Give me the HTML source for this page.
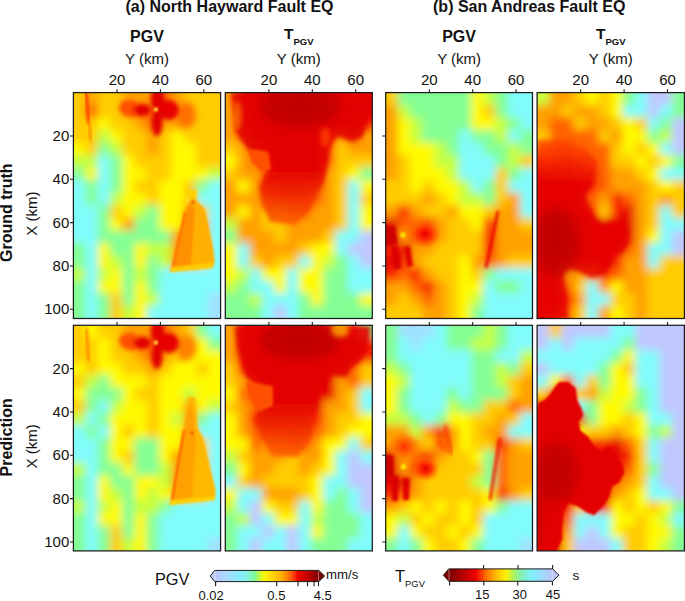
<!DOCTYPE html><html><head><meta charset="utf-8"><style>html,body{margin:0;padding:0;background:#fff;width:685px;height:601px;overflow:hidden}svg{display:block}text{font-family:"Liberation Sans", sans-serif;fill:#111}</style></head><body>
<svg width="685" height="601" viewBox="0 0 685 601">
<defs>
<clipPath id="c00"><rect x="73.40" y="92.60" width="147.20" height="225.90"/></clipPath>
<clipPath id="c01"><rect x="225.30" y="92.60" width="147.00" height="225.90"/></clipPath>
<clipPath id="c02"><rect x="385.70" y="92.60" width="146.80" height="225.90"/></clipPath>
<clipPath id="c03"><rect x="537.10" y="92.60" width="147.30" height="225.90"/></clipPath>
<clipPath id="c10"><rect x="73.40" y="325.30" width="147.20" height="225.60"/></clipPath>
<clipPath id="c11"><rect x="225.30" y="325.30" width="147.00" height="225.60"/></clipPath>
<clipPath id="c12"><rect x="385.70" y="325.30" width="146.80" height="225.60"/></clipPath>
<clipPath id="c13"><rect x="537.10" y="325.30" width="147.30" height="225.60"/></clipPath>
<linearGradient id="gp" x1="0" x2="1" y1="0" y2="0"><stop offset="0" stop-color="#bcc4fb"/><stop offset="0.12" stop-color="#a8dcff"/><stop offset="0.28" stop-color="#80f4fa"/><stop offset="0.39" stop-color="#84f890"/><stop offset="0.44" stop-color="#d0f830"/><stop offset="0.48" stop-color="#fff600"/><stop offset="0.64" stop-color="#ffb000"/><stop offset="0.74" stop-color="#ff5a00"/><stop offset="0.80" stop-color="#f00000"/><stop offset="0.90" stop-color="#c00000"/><stop offset="1" stop-color="#7a0000"/></linearGradient>
<linearGradient id="gt" x1="0" x2="1" y1="0" y2="0"><stop offset="0" stop-color="#7a0000"/><stop offset="0.12" stop-color="#b00000"/><stop offset="0.26" stop-color="#f00000"/><stop offset="0.36" stop-color="#ff7000"/><stop offset="0.46" stop-color="#ffc000"/><stop offset="0.55" stop-color="#fff000"/><stop offset="0.64" stop-color="#9cf270"/><stop offset="0.72" stop-color="#80f0c8"/><stop offset="0.80" stop-color="#80f0ff"/><stop offset="1" stop-color="#bcc4fb"/></linearGradient>
<filter id="sb1" x="-20%" y="-20%" width="140%" height="140%"><feGaussianBlur stdDeviation="1"/></filter><filter id="sb15" x="-30%" y="-30%" width="160%" height="160%"><feGaussianBlur stdDeviation="1.5"/></filter><filter id="sb2" x="-30%" y="-30%" width="160%" height="160%"><feGaussianBlur stdDeviation="2"/></filter><filter id="sb3" x="-40%" y="-40%" width="180%" height="180%"><feGaussianBlur stdDeviation="3"/></filter><filter id="sb6" x="-50%" y="-50%" width="200%" height="200%"><feGaussianBlur stdDeviation="6"/></filter><radialGradient id="rg1"><stop offset="0" stop-color="#e80000"/><stop offset="0.4" stop-color="#ff2800" stop-opacity="0.95"/><stop offset="0.75" stop-color="#ff6000" stop-opacity="0.5"/><stop offset="1" stop-color="#ff8000" stop-opacity="0"/></radialGradient><radialGradient id="rg2"><stop offset="0" stop-color="#ff3000"/><stop offset="0.5" stop-color="#ff6000" stop-opacity="0.7"/><stop offset="1" stop-color="#ff8000" stop-opacity="0"/></radialGradient><linearGradient id="lgp4" gradientUnits="userSpaceOnUse" x1="0" y1="145" x2="0" y2="185"><stop offset="0" stop-color="#ff4a00"/><stop offset="1" stop-color="#e60000"/></linearGradient><linearGradient id="lgp2" gradientUnits="userSpaceOnUse" x1="0" y1="168" x2="0" y2="226"><stop offset="0" stop-color="#e40000"/><stop offset="1" stop-color="#ff6000"/></linearGradient><linearGradient id="lgp6" gradientUnits="userSpaceOnUse" x1="0" y1="400" x2="0" y2="458"><stop offset="0" stop-color="#e40000"/><stop offset="1" stop-color="#ff6000"/></linearGradient><filter id="fp00" x="36.6" y="54.9" width="220.8" height="301.2" filterUnits="userSpaceOnUse"><feGaussianBlur stdDeviation="4"/></filter><filter id="fp01" x="188.6" y="54.9" width="220.5" height="301.2" filterUnits="userSpaceOnUse"><feGaussianBlur stdDeviation="4"/></filter><filter id="fp02" x="349.0" y="54.9" width="220.2" height="301.2" filterUnits="userSpaceOnUse"><feGaussianBlur stdDeviation="4"/></filter><filter id="fp03" x="500.3" y="54.9" width="220.9" height="301.2" filterUnits="userSpaceOnUse"><feGaussianBlur stdDeviation="4"/></filter><filter id="fp10" x="36.6" y="287.7" width="220.8" height="300.8" filterUnits="userSpaceOnUse"><feGaussianBlur stdDeviation="4"/></filter><filter id="fp11" x="188.6" y="287.7" width="220.5" height="300.8" filterUnits="userSpaceOnUse"><feGaussianBlur stdDeviation="4"/></filter><filter id="fp12" x="349.0" y="287.7" width="220.2" height="300.8" filterUnits="userSpaceOnUse"><feGaussianBlur stdDeviation="4"/></filter><filter id="fp13" x="500.3" y="287.7" width="220.9" height="300.8" filterUnits="userSpaceOnUse"><feGaussianBlur stdDeviation="4"/></filter>
</defs>
<g clip-path="url(#c00)">
<g filter="url(#fp00)"><rect x="48.6" y="67.2" width="12.9" height="13.2" fill="#ffcc00"/><rect x="60.8" y="67.2" width="12.9" height="13.2" fill="#ffcc00"/><rect x="73.1" y="67.2" width="12.9" height="13.2" fill="#ffcc00"/><rect x="85.4" y="67.2" width="12.9" height="13.2" fill="#ffa000"/><rect x="97.6" y="67.2" width="12.9" height="13.2" fill="#ffcc00"/><rect x="109.9" y="67.2" width="12.9" height="13.2" fill="#ffcc00"/><rect x="122.2" y="67.2" width="12.9" height="13.2" fill="#ffa000"/><rect x="134.4" y="67.2" width="12.9" height="13.2" fill="#ffa000"/><rect x="146.7" y="67.2" width="12.9" height="13.2" fill="#ffa000"/><rect x="159.0" y="67.2" width="12.9" height="13.2" fill="#ff6400"/><rect x="171.2" y="67.2" width="12.9" height="13.2" fill="#ffa000"/><rect x="183.5" y="67.2" width="12.9" height="13.2" fill="#ffcc00"/><rect x="195.8" y="67.2" width="12.9" height="13.2" fill="#ffcc00"/><rect x="208.0" y="67.2" width="12.9" height="13.2" fill="#ffcc00"/><rect x="220.3" y="67.2" width="12.9" height="13.2" fill="#ffcc00"/><rect x="232.6" y="67.2" width="12.9" height="13.2" fill="#ffcc00"/><rect x="48.6" y="79.8" width="12.9" height="13.2" fill="#ffcc00"/><rect x="60.8" y="79.8" width="12.9" height="13.2" fill="#ffcc00"/><rect x="73.1" y="79.8" width="12.9" height="13.2" fill="#ffcc00"/><rect x="85.4" y="79.8" width="12.9" height="13.2" fill="#ffa000"/><rect x="97.6" y="79.8" width="12.9" height="13.2" fill="#ffcc00"/><rect x="109.9" y="79.8" width="12.9" height="13.2" fill="#ffcc00"/><rect x="122.2" y="79.8" width="12.9" height="13.2" fill="#ffa000"/><rect x="134.4" y="79.8" width="12.9" height="13.2" fill="#ffa000"/><rect x="146.7" y="79.8" width="12.9" height="13.2" fill="#ffa000"/><rect x="159.0" y="79.8" width="12.9" height="13.2" fill="#ff6400"/><rect x="171.2" y="79.8" width="12.9" height="13.2" fill="#ffa000"/><rect x="183.5" y="79.8" width="12.9" height="13.2" fill="#ffcc00"/><rect x="195.8" y="79.8" width="12.9" height="13.2" fill="#ffcc00"/><rect x="208.0" y="79.8" width="12.9" height="13.2" fill="#ffcc00"/><rect x="220.3" y="79.8" width="12.9" height="13.2" fill="#ffcc00"/><rect x="232.6" y="79.8" width="12.9" height="13.2" fill="#ffcc00"/><rect x="48.6" y="92.3" width="12.9" height="13.2" fill="#ffcc00"/><rect x="60.8" y="92.3" width="12.9" height="13.2" fill="#ffcc00"/><rect x="73.1" y="92.3" width="12.9" height="13.2" fill="#ffcc00"/><rect x="85.4" y="92.3" width="12.9" height="13.2" fill="#ffa000"/><rect x="97.6" y="92.3" width="12.9" height="13.2" fill="#ffcc00"/><rect x="109.9" y="92.3" width="12.9" height="13.2" fill="#ffcc00"/><rect x="122.2" y="92.3" width="12.9" height="13.2" fill="#ffa000"/><rect x="134.4" y="92.3" width="12.9" height="13.2" fill="#ffa000"/><rect x="146.7" y="92.3" width="12.9" height="13.2" fill="#ffa000"/><rect x="159.0" y="92.3" width="12.9" height="13.2" fill="#ff6400"/><rect x="171.2" y="92.3" width="12.9" height="13.2" fill="#ffa000"/><rect x="183.5" y="92.3" width="12.9" height="13.2" fill="#ffcc00"/><rect x="195.8" y="92.3" width="12.9" height="13.2" fill="#ffcc00"/><rect x="208.0" y="92.3" width="12.9" height="13.2" fill="#ffcc00"/><rect x="220.3" y="92.3" width="12.9" height="13.2" fill="#ffcc00"/><rect x="232.6" y="92.3" width="12.9" height="13.2" fill="#ffcc00"/><rect x="48.6" y="104.8" width="12.9" height="13.2" fill="#ffcc00"/><rect x="60.8" y="104.8" width="12.9" height="13.2" fill="#ffcc00"/><rect x="73.1" y="104.8" width="12.9" height="13.2" fill="#ffcc00"/><rect x="85.4" y="104.8" width="12.9" height="13.2" fill="#ff6400"/><rect x="97.6" y="104.8" width="12.9" height="13.2" fill="#ffcc00"/><rect x="109.9" y="104.8" width="12.9" height="13.2" fill="#ffcc00"/><rect x="122.2" y="104.8" width="12.9" height="13.2" fill="#ffa000"/><rect x="134.4" y="104.8" width="12.9" height="13.2" fill="#ff6400"/><rect x="146.7" y="104.8" width="12.9" height="13.2" fill="#ff6400"/><rect x="159.0" y="104.8" width="12.9" height="13.2" fill="#ff6400"/><rect x="171.2" y="104.8" width="12.9" height="13.2" fill="#ffa000"/><rect x="183.5" y="104.8" width="12.9" height="13.2" fill="#ffcc00"/><rect x="195.8" y="104.8" width="12.9" height="13.2" fill="#ffcc00"/><rect x="208.0" y="104.8" width="12.9" height="13.2" fill="#ffcc00"/><rect x="220.3" y="104.8" width="12.9" height="13.2" fill="#ffcc00"/><rect x="232.6" y="104.8" width="12.9" height="13.2" fill="#ffcc00"/><rect x="48.6" y="117.4" width="12.9" height="13.2" fill="#ffcc00"/><rect x="60.8" y="117.4" width="12.9" height="13.2" fill="#ffcc00"/><rect x="73.1" y="117.4" width="12.9" height="13.2" fill="#ffcc00"/><rect x="85.4" y="117.4" width="12.9" height="13.2" fill="#ffcc00"/><rect x="97.6" y="117.4" width="12.9" height="13.2" fill="#fffa00"/><rect x="109.9" y="117.4" width="12.9" height="13.2" fill="#ffcc00"/><rect x="122.2" y="117.4" width="12.9" height="13.2" fill="#ffcc00"/><rect x="134.4" y="117.4" width="12.9" height="13.2" fill="#ffa000"/><rect x="146.7" y="117.4" width="12.9" height="13.2" fill="#ff6400"/><rect x="159.0" y="117.4" width="12.9" height="13.2" fill="#ffa000"/><rect x="171.2" y="117.4" width="12.9" height="13.2" fill="#ffa000"/><rect x="183.5" y="117.4" width="12.9" height="13.2" fill="#ffcc00"/><rect x="195.8" y="117.4" width="12.9" height="13.2" fill="#ffcc00"/><rect x="208.0" y="117.4" width="12.9" height="13.2" fill="#ffcc00"/><rect x="220.3" y="117.4" width="12.9" height="13.2" fill="#ffcc00"/><rect x="232.6" y="117.4" width="12.9" height="13.2" fill="#ffcc00"/><rect x="48.6" y="129.9" width="12.9" height="13.2" fill="#ffcc00"/><rect x="60.8" y="129.9" width="12.9" height="13.2" fill="#ffcc00"/><rect x="73.1" y="129.9" width="12.9" height="13.2" fill="#ffcc00"/><rect x="85.4" y="129.9" width="12.9" height="13.2" fill="#ffcc00"/><rect x="97.6" y="129.9" width="12.9" height="13.2" fill="#c4ff40"/><rect x="109.9" y="129.9" width="12.9" height="13.2" fill="#fffa00"/><rect x="122.2" y="129.9" width="12.9" height="13.2" fill="#ffcc00"/><rect x="134.4" y="129.9" width="12.9" height="13.2" fill="#ffcc00"/><rect x="146.7" y="129.9" width="12.9" height="13.2" fill="#ffa000"/><rect x="159.0" y="129.9" width="12.9" height="13.2" fill="#ffcc00"/><rect x="171.2" y="129.9" width="12.9" height="13.2" fill="#fffa00"/><rect x="183.5" y="129.9" width="12.9" height="13.2" fill="#ffcc00"/><rect x="195.8" y="129.9" width="12.9" height="13.2" fill="#ffcc00"/><rect x="208.0" y="129.9" width="12.9" height="13.2" fill="#ffcc00"/><rect x="220.3" y="129.9" width="12.9" height="13.2" fill="#ffcc00"/><rect x="232.6" y="129.9" width="12.9" height="13.2" fill="#ffcc00"/><rect x="48.6" y="142.5" width="12.9" height="13.2" fill="#fffa00"/><rect x="60.8" y="142.5" width="12.9" height="13.2" fill="#fffa00"/><rect x="73.1" y="142.5" width="12.9" height="13.2" fill="#fffa00"/><rect x="85.4" y="142.5" width="12.9" height="13.2" fill="#ffcc00"/><rect x="97.6" y="142.5" width="12.9" height="13.2" fill="#84ff94"/><rect x="109.9" y="142.5" width="12.9" height="13.2" fill="#c4ff40"/><rect x="122.2" y="142.5" width="12.9" height="13.2" fill="#ffcc00"/><rect x="134.4" y="142.5" width="12.9" height="13.2" fill="#ffcc00"/><rect x="146.7" y="142.5" width="12.9" height="13.2" fill="#ffa000"/><rect x="159.0" y="142.5" width="12.9" height="13.2" fill="#ffcc00"/><rect x="171.2" y="142.5" width="12.9" height="13.2" fill="#fffa00"/><rect x="183.5" y="142.5" width="12.9" height="13.2" fill="#fffa00"/><rect x="195.8" y="142.5" width="12.9" height="13.2" fill="#ffcc00"/><rect x="208.0" y="142.5" width="12.9" height="13.2" fill="#ffcc00"/><rect x="220.3" y="142.5" width="12.9" height="13.2" fill="#ffcc00"/><rect x="232.6" y="142.5" width="12.9" height="13.2" fill="#ffcc00"/><rect x="48.6" y="155.0" width="12.9" height="13.2" fill="#c4ff40"/><rect x="60.8" y="155.0" width="12.9" height="13.2" fill="#c4ff40"/><rect x="73.1" y="155.0" width="12.9" height="13.2" fill="#c4ff40"/><rect x="85.4" y="155.0" width="12.9" height="13.2" fill="#c4ff40"/><rect x="97.6" y="155.0" width="12.9" height="13.2" fill="#80fcfc"/><rect x="109.9" y="155.0" width="12.9" height="13.2" fill="#84ff94"/><rect x="122.2" y="155.0" width="12.9" height="13.2" fill="#fffa00"/><rect x="134.4" y="155.0" width="12.9" height="13.2" fill="#ffcc00"/><rect x="146.7" y="155.0" width="12.9" height="13.2" fill="#ffcc00"/><rect x="159.0" y="155.0" width="12.9" height="13.2" fill="#ffcc00"/><rect x="171.2" y="155.0" width="12.9" height="13.2" fill="#fffa00"/><rect x="183.5" y="155.0" width="12.9" height="13.2" fill="#fffa00"/><rect x="195.8" y="155.0" width="12.9" height="13.2" fill="#ffcc00"/><rect x="208.0" y="155.0" width="12.9" height="13.2" fill="#ffcc00"/><rect x="220.3" y="155.0" width="12.9" height="13.2" fill="#ffcc00"/><rect x="232.6" y="155.0" width="12.9" height="13.2" fill="#ffcc00"/><rect x="48.6" y="167.6" width="12.9" height="13.2" fill="#84ff94"/><rect x="60.8" y="167.6" width="12.9" height="13.2" fill="#84ff94"/><rect x="73.1" y="167.6" width="12.9" height="13.2" fill="#84ff94"/><rect x="85.4" y="167.6" width="12.9" height="13.2" fill="#fffa00"/><rect x="97.6" y="167.6" width="12.9" height="13.2" fill="#80fcfc"/><rect x="109.9" y="167.6" width="12.9" height="13.2" fill="#84ff94"/><rect x="122.2" y="167.6" width="12.9" height="13.2" fill="#fffa00"/><rect x="134.4" y="167.6" width="12.9" height="13.2" fill="#fffa00"/><rect x="146.7" y="167.6" width="12.9" height="13.2" fill="#ffcc00"/><rect x="159.0" y="167.6" width="12.9" height="13.2" fill="#ffcc00"/><rect x="171.2" y="167.6" width="12.9" height="13.2" fill="#fffa00"/><rect x="183.5" y="167.6" width="12.9" height="13.2" fill="#fffa00"/><rect x="195.8" y="167.6" width="12.9" height="13.2" fill="#fffa00"/><rect x="208.0" y="167.6" width="12.9" height="13.2" fill="#c4ff40"/><rect x="220.3" y="167.6" width="12.9" height="13.2" fill="#c4ff40"/><rect x="232.6" y="167.6" width="12.9" height="13.2" fill="#c4ff40"/><rect x="48.6" y="180.1" width="12.9" height="13.2" fill="#80fcfc"/><rect x="60.8" y="180.1" width="12.9" height="13.2" fill="#80fcfc"/><rect x="73.1" y="180.1" width="12.9" height="13.2" fill="#80fcfc"/><rect x="85.4" y="180.1" width="12.9" height="13.2" fill="#84ff94"/><rect x="97.6" y="180.1" width="12.9" height="13.2" fill="#80fcfc"/><rect x="109.9" y="180.1" width="12.9" height="13.2" fill="#84ff94"/><rect x="122.2" y="180.1" width="12.9" height="13.2" fill="#fffa00"/><rect x="134.4" y="180.1" width="12.9" height="13.2" fill="#ffcc00"/><rect x="146.7" y="180.1" width="12.9" height="13.2" fill="#ffcc00"/><rect x="159.0" y="180.1" width="12.9" height="13.2" fill="#fffa00"/><rect x="171.2" y="180.1" width="12.9" height="13.2" fill="#fffa00"/><rect x="183.5" y="180.1" width="12.9" height="13.2" fill="#ffcc00"/><rect x="195.8" y="180.1" width="12.9" height="13.2" fill="#84ff94"/><rect x="208.0" y="180.1" width="12.9" height="13.2" fill="#80fcfc"/><rect x="220.3" y="180.1" width="12.9" height="13.2" fill="#80fcfc"/><rect x="232.6" y="180.1" width="12.9" height="13.2" fill="#80fcfc"/><rect x="48.6" y="192.7" width="12.9" height="13.2" fill="#80fcfc"/><rect x="60.8" y="192.7" width="12.9" height="13.2" fill="#80fcfc"/><rect x="73.1" y="192.7" width="12.9" height="13.2" fill="#80fcfc"/><rect x="85.4" y="192.7" width="12.9" height="13.2" fill="#84ff94"/><rect x="97.6" y="192.7" width="12.9" height="13.2" fill="#80fcfc"/><rect x="109.9" y="192.7" width="12.9" height="13.2" fill="#c4ff40"/><rect x="122.2" y="192.7" width="12.9" height="13.2" fill="#fffa00"/><rect x="134.4" y="192.7" width="12.9" height="13.2" fill="#fffa00"/><rect x="146.7" y="192.7" width="12.9" height="13.2" fill="#ffcc00"/><rect x="159.0" y="192.7" width="12.9" height="13.2" fill="#fffa00"/><rect x="171.2" y="192.7" width="12.9" height="13.2" fill="#fffa00"/><rect x="183.5" y="192.7" width="12.9" height="13.2" fill="#ffcc00"/><rect x="195.8" y="192.7" width="12.9" height="13.2" fill="#80fcfc"/><rect x="208.0" y="192.7" width="12.9" height="13.2" fill="#80fcfc"/><rect x="220.3" y="192.7" width="12.9" height="13.2" fill="#80fcfc"/><rect x="232.6" y="192.7" width="12.9" height="13.2" fill="#80fcfc"/><rect x="48.6" y="205.2" width="12.9" height="13.2" fill="#80fcfc"/><rect x="60.8" y="205.2" width="12.9" height="13.2" fill="#80fcfc"/><rect x="73.1" y="205.2" width="12.9" height="13.2" fill="#80fcfc"/><rect x="85.4" y="205.2" width="12.9" height="13.2" fill="#80fcfc"/><rect x="97.6" y="205.2" width="12.9" height="13.2" fill="#84ff94"/><rect x="109.9" y="205.2" width="12.9" height="13.2" fill="#ffcc00"/><rect x="122.2" y="205.2" width="12.9" height="13.2" fill="#fffa00"/><rect x="134.4" y="205.2" width="12.9" height="13.2" fill="#c4ff40"/><rect x="146.7" y="205.2" width="12.9" height="13.2" fill="#84ff94"/><rect x="159.0" y="205.2" width="12.9" height="13.2" fill="#fffa00"/><rect x="171.2" y="205.2" width="12.9" height="13.2" fill="#fffa00"/><rect x="183.5" y="205.2" width="12.9" height="13.2" fill="#ffa000"/><rect x="195.8" y="205.2" width="12.9" height="13.2" fill="#ffcc00"/><rect x="208.0" y="205.2" width="12.9" height="13.2" fill="#80fcfc"/><rect x="220.3" y="205.2" width="12.9" height="13.2" fill="#80fcfc"/><rect x="232.6" y="205.2" width="12.9" height="13.2" fill="#80fcfc"/><rect x="48.6" y="217.8" width="12.9" height="13.2" fill="#80fcfc"/><rect x="60.8" y="217.8" width="12.9" height="13.2" fill="#80fcfc"/><rect x="73.1" y="217.8" width="12.9" height="13.2" fill="#80fcfc"/><rect x="85.4" y="217.8" width="12.9" height="13.2" fill="#80fcfc"/><rect x="97.6" y="217.8" width="12.9" height="13.2" fill="#84ff94"/><rect x="109.9" y="217.8" width="12.9" height="13.2" fill="#fffa00"/><rect x="122.2" y="217.8" width="12.9" height="13.2" fill="#ffa000"/><rect x="134.4" y="217.8" width="12.9" height="13.2" fill="#84ff94"/><rect x="146.7" y="217.8" width="12.9" height="13.2" fill="#84ff94"/><rect x="159.0" y="217.8" width="12.9" height="13.2" fill="#fffa00"/><rect x="171.2" y="217.8" width="12.9" height="13.2" fill="#fffa00"/><rect x="183.5" y="217.8" width="12.9" height="13.2" fill="#ffa000"/><rect x="195.8" y="217.8" width="12.9" height="13.2" fill="#ffa000"/><rect x="208.0" y="217.8" width="12.9" height="13.2" fill="#80fcfc"/><rect x="220.3" y="217.8" width="12.9" height="13.2" fill="#80fcfc"/><rect x="232.6" y="217.8" width="12.9" height="13.2" fill="#80fcfc"/><rect x="48.6" y="230.3" width="12.9" height="13.2" fill="#80fcfc"/><rect x="60.8" y="230.3" width="12.9" height="13.2" fill="#80fcfc"/><rect x="73.1" y="230.3" width="12.9" height="13.2" fill="#80fcfc"/><rect x="85.4" y="230.3" width="12.9" height="13.2" fill="#80fcfc"/><rect x="97.6" y="230.3" width="12.9" height="13.2" fill="#84ff94"/><rect x="109.9" y="230.3" width="12.9" height="13.2" fill="#84ff94"/><rect x="122.2" y="230.3" width="12.9" height="13.2" fill="#84ff94"/><rect x="134.4" y="230.3" width="12.9" height="13.2" fill="#84ff94"/><rect x="146.7" y="230.3" width="12.9" height="13.2" fill="#84ff94"/><rect x="159.0" y="230.3" width="12.9" height="13.2" fill="#84ff94"/><rect x="171.2" y="230.3" width="12.9" height="13.2" fill="#ffa000"/><rect x="183.5" y="230.3" width="12.9" height="13.2" fill="#ffa000"/><rect x="195.8" y="230.3" width="12.9" height="13.2" fill="#ffa000"/><rect x="208.0" y="230.3" width="12.9" height="13.2" fill="#80fcfc"/><rect x="220.3" y="230.3" width="12.9" height="13.2" fill="#80fcfc"/><rect x="232.6" y="230.3" width="12.9" height="13.2" fill="#80fcfc"/><rect x="48.6" y="242.9" width="12.9" height="13.2" fill="#84ff94"/><rect x="60.8" y="242.9" width="12.9" height="13.2" fill="#84ff94"/><rect x="73.1" y="242.9" width="12.9" height="13.2" fill="#84ff94"/><rect x="85.4" y="242.9" width="12.9" height="13.2" fill="#80fcfc"/><rect x="97.6" y="242.9" width="12.9" height="13.2" fill="#fffa00"/><rect x="109.9" y="242.9" width="12.9" height="13.2" fill="#84ff94"/><rect x="122.2" y="242.9" width="12.9" height="13.2" fill="#84ff94"/><rect x="134.4" y="242.9" width="12.9" height="13.2" fill="#fffa00"/><rect x="146.7" y="242.9" width="12.9" height="13.2" fill="#c4ff40"/><rect x="159.0" y="242.9" width="12.9" height="13.2" fill="#c4ff40"/><rect x="171.2" y="242.9" width="12.9" height="13.2" fill="#ffa000"/><rect x="183.5" y="242.9" width="12.9" height="13.2" fill="#ffa000"/><rect x="195.8" y="242.9" width="12.9" height="13.2" fill="#ffa000"/><rect x="208.0" y="242.9" width="12.9" height="13.2" fill="#80fcfc"/><rect x="220.3" y="242.9" width="12.9" height="13.2" fill="#80fcfc"/><rect x="232.6" y="242.9" width="12.9" height="13.2" fill="#80fcfc"/><rect x="48.6" y="255.4" width="12.9" height="13.2" fill="#84ff94"/><rect x="60.8" y="255.4" width="12.9" height="13.2" fill="#84ff94"/><rect x="73.1" y="255.4" width="12.9" height="13.2" fill="#84ff94"/><rect x="85.4" y="255.4" width="12.9" height="13.2" fill="#80fcfc"/><rect x="97.6" y="255.4" width="12.9" height="13.2" fill="#fffa00"/><rect x="109.9" y="255.4" width="12.9" height="13.2" fill="#c4ff40"/><rect x="122.2" y="255.4" width="12.9" height="13.2" fill="#84ff94"/><rect x="134.4" y="255.4" width="12.9" height="13.2" fill="#fffa00"/><rect x="146.7" y="255.4" width="12.9" height="13.2" fill="#84ff94"/><rect x="159.0" y="255.4" width="12.9" height="13.2" fill="#c4ff40"/><rect x="171.2" y="255.4" width="12.9" height="13.2" fill="#ffa000"/><rect x="183.5" y="255.4" width="12.9" height="13.2" fill="#ffa000"/><rect x="195.8" y="255.4" width="12.9" height="13.2" fill="#ffcc00"/><rect x="208.0" y="255.4" width="12.9" height="13.2" fill="#80fcfc"/><rect x="220.3" y="255.4" width="12.9" height="13.2" fill="#80fcfc"/><rect x="232.6" y="255.4" width="12.9" height="13.2" fill="#80fcfc"/><rect x="48.6" y="268.0" width="12.9" height="13.2" fill="#c4ff40"/><rect x="60.8" y="268.0" width="12.9" height="13.2" fill="#c4ff40"/><rect x="73.1" y="268.0" width="12.9" height="13.2" fill="#c4ff40"/><rect x="85.4" y="268.0" width="12.9" height="13.2" fill="#80fcfc"/><rect x="97.6" y="268.0" width="12.9" height="13.2" fill="#c4ff40"/><rect x="109.9" y="268.0" width="12.9" height="13.2" fill="#fffa00"/><rect x="122.2" y="268.0" width="12.9" height="13.2" fill="#84ff94"/><rect x="134.4" y="268.0" width="12.9" height="13.2" fill="#c4ff40"/><rect x="146.7" y="268.0" width="12.9" height="13.2" fill="#84ff94"/><rect x="159.0" y="268.0" width="12.9" height="13.2" fill="#80fcfc"/><rect x="171.2" y="268.0" width="12.9" height="13.2" fill="#80fcfc"/><rect x="183.5" y="268.0" width="12.9" height="13.2" fill="#80fcfc"/><rect x="195.8" y="268.0" width="12.9" height="13.2" fill="#80fcfc"/><rect x="208.0" y="268.0" width="12.9" height="13.2" fill="#80fcfc"/><rect x="220.3" y="268.0" width="12.9" height="13.2" fill="#80fcfc"/><rect x="232.6" y="268.0" width="12.9" height="13.2" fill="#80fcfc"/><rect x="48.6" y="280.6" width="12.9" height="13.2" fill="#84ff94"/><rect x="60.8" y="280.6" width="12.9" height="13.2" fill="#84ff94"/><rect x="73.1" y="280.6" width="12.9" height="13.2" fill="#84ff94"/><rect x="85.4" y="280.6" width="12.9" height="13.2" fill="#80fcfc"/><rect x="97.6" y="280.6" width="12.9" height="13.2" fill="#fffa00"/><rect x="109.9" y="280.6" width="12.9" height="13.2" fill="#fffa00"/><rect x="122.2" y="280.6" width="12.9" height="13.2" fill="#84ff94"/><rect x="134.4" y="280.6" width="12.9" height="13.2" fill="#fffa00"/><rect x="146.7" y="280.6" width="12.9" height="13.2" fill="#84ff94"/><rect x="159.0" y="280.6" width="12.9" height="13.2" fill="#80fcfc"/><rect x="171.2" y="280.6" width="12.9" height="13.2" fill="#80fcfc"/><rect x="183.5" y="280.6" width="12.9" height="13.2" fill="#80fcfc"/><rect x="195.8" y="280.6" width="12.9" height="13.2" fill="#80fcfc"/><rect x="208.0" y="280.6" width="12.9" height="13.2" fill="#80fcfc"/><rect x="220.3" y="280.6" width="12.9" height="13.2" fill="#80fcfc"/><rect x="232.6" y="280.6" width="12.9" height="13.2" fill="#80fcfc"/><rect x="48.6" y="293.1" width="12.9" height="13.2" fill="#84ff94"/><rect x="60.8" y="293.1" width="12.9" height="13.2" fill="#84ff94"/><rect x="73.1" y="293.1" width="12.9" height="13.2" fill="#84ff94"/><rect x="85.4" y="293.1" width="12.9" height="13.2" fill="#80fcfc"/><rect x="97.6" y="293.1" width="12.9" height="13.2" fill="#84ff94"/><rect x="109.9" y="293.1" width="12.9" height="13.2" fill="#ffcc00"/><rect x="122.2" y="293.1" width="12.9" height="13.2" fill="#84ff94"/><rect x="134.4" y="293.1" width="12.9" height="13.2" fill="#fffa00"/><rect x="146.7" y="293.1" width="12.9" height="13.2" fill="#c4ff40"/><rect x="159.0" y="293.1" width="12.9" height="13.2" fill="#80fcfc"/><rect x="171.2" y="293.1" width="12.9" height="13.2" fill="#80fcfc"/><rect x="183.5" y="293.1" width="12.9" height="13.2" fill="#80fcfc"/><rect x="195.8" y="293.1" width="12.9" height="13.2" fill="#80fcfc"/><rect x="208.0" y="293.1" width="12.9" height="13.2" fill="#a0e0ff"/><rect x="220.3" y="293.1" width="12.9" height="13.2" fill="#a0e0ff"/><rect x="232.6" y="293.1" width="12.9" height="13.2" fill="#a0e0ff"/><rect x="48.6" y="305.7" width="12.9" height="13.2" fill="#84ff94"/><rect x="60.8" y="305.7" width="12.9" height="13.2" fill="#84ff94"/><rect x="73.1" y="305.7" width="12.9" height="13.2" fill="#84ff94"/><rect x="85.4" y="305.7" width="12.9" height="13.2" fill="#80fcfc"/><rect x="97.6" y="305.7" width="12.9" height="13.2" fill="#84ff94"/><rect x="109.9" y="305.7" width="12.9" height="13.2" fill="#ffcc00"/><rect x="122.2" y="305.7" width="12.9" height="13.2" fill="#c4ff40"/><rect x="134.4" y="305.7" width="12.9" height="13.2" fill="#fffa00"/><rect x="146.7" y="305.7" width="12.9" height="13.2" fill="#80fcfc"/><rect x="159.0" y="305.7" width="12.9" height="13.2" fill="#80fcfc"/><rect x="171.2" y="305.7" width="12.9" height="13.2" fill="#80fcfc"/><rect x="183.5" y="305.7" width="12.9" height="13.2" fill="#80fcfc"/><rect x="195.8" y="305.7" width="12.9" height="13.2" fill="#80fcfc"/><rect x="208.0" y="305.7" width="12.9" height="13.2" fill="#a0e0ff"/><rect x="220.3" y="305.7" width="12.9" height="13.2" fill="#a0e0ff"/><rect x="232.6" y="305.7" width="12.9" height="13.2" fill="#a0e0ff"/><rect x="48.6" y="318.2" width="12.9" height="13.2" fill="#84ff94"/><rect x="60.8" y="318.2" width="12.9" height="13.2" fill="#84ff94"/><rect x="73.1" y="318.2" width="12.9" height="13.2" fill="#84ff94"/><rect x="85.4" y="318.2" width="12.9" height="13.2" fill="#80fcfc"/><rect x="97.6" y="318.2" width="12.9" height="13.2" fill="#84ff94"/><rect x="109.9" y="318.2" width="12.9" height="13.2" fill="#ffcc00"/><rect x="122.2" y="318.2" width="12.9" height="13.2" fill="#c4ff40"/><rect x="134.4" y="318.2" width="12.9" height="13.2" fill="#fffa00"/><rect x="146.7" y="318.2" width="12.9" height="13.2" fill="#80fcfc"/><rect x="159.0" y="318.2" width="12.9" height="13.2" fill="#80fcfc"/><rect x="171.2" y="318.2" width="12.9" height="13.2" fill="#80fcfc"/><rect x="183.5" y="318.2" width="12.9" height="13.2" fill="#80fcfc"/><rect x="195.8" y="318.2" width="12.9" height="13.2" fill="#80fcfc"/><rect x="208.0" y="318.2" width="12.9" height="13.2" fill="#a0e0ff"/><rect x="220.3" y="318.2" width="12.9" height="13.2" fill="#a0e0ff"/><rect x="232.6" y="318.2" width="12.9" height="13.2" fill="#a0e0ff"/><rect x="48.6" y="330.8" width="12.9" height="13.2" fill="#84ff94"/><rect x="60.8" y="330.8" width="12.9" height="13.2" fill="#84ff94"/><rect x="73.1" y="330.8" width="12.9" height="13.2" fill="#84ff94"/><rect x="85.4" y="330.8" width="12.9" height="13.2" fill="#80fcfc"/><rect x="97.6" y="330.8" width="12.9" height="13.2" fill="#84ff94"/><rect x="109.9" y="330.8" width="12.9" height="13.2" fill="#ffcc00"/><rect x="122.2" y="330.8" width="12.9" height="13.2" fill="#c4ff40"/><rect x="134.4" y="330.8" width="12.9" height="13.2" fill="#fffa00"/><rect x="146.7" y="330.8" width="12.9" height="13.2" fill="#80fcfc"/><rect x="159.0" y="330.8" width="12.9" height="13.2" fill="#80fcfc"/><rect x="171.2" y="330.8" width="12.9" height="13.2" fill="#80fcfc"/><rect x="183.5" y="330.8" width="12.9" height="13.2" fill="#80fcfc"/><rect x="195.8" y="330.8" width="12.9" height="13.2" fill="#80fcfc"/><rect x="208.0" y="330.8" width="12.9" height="13.2" fill="#a0e0ff"/><rect x="220.3" y="330.8" width="12.9" height="13.2" fill="#a0e0ff"/><rect x="232.6" y="330.8" width="12.9" height="13.2" fill="#a0e0ff"/></g><ellipse cx="186" cy="115" rx="10" ry="13" fill="#ff7000" filter="url(#sb3)"/><g transform="translate(0,0)"><g filter="url(#sb2)">
<ellipse cx="130" cy="108.5" rx="11" ry="8.5" fill="#ff5000" transform="rotate(10 130 108)"/>
<ellipse cx="142" cy="110" rx="9" ry="6" fill="#e40000"/>
<ellipse cx="157.5" cy="99" rx="7" ry="11" fill="#e00000"/>
<ellipse cx="169" cy="110" rx="10" ry="10" fill="#e80000"/>
<ellipse cx="157" cy="123" rx="5.5" ry="13" fill="#e00000"/>
</g><circle cx="156" cy="109.5" r="2" fill="#fff040" filter="url(#sb1)"/></g><g transform="translate(0,0)" filter="url(#sb1)">
<path d="M184 190 L197 190 L196 200 L190 200 Z" fill="#ffd000"/>
<polygon points="193,198 198,202 205,209.5 213,247 214.7,262 212.5,268 169.7,272 188.5,202" fill="#ffb000"/>
<polygon points="191,203 195,210 191,265 172,269 187,207" fill="#ff9000"/>
<path d="M185 212 L173 266" stroke="#ff6a00" stroke-width="2.2" fill="none"/>
<polygon points="169.7,272 212.5,268 212,263 173,267" fill="#ffcc00"/>
<circle cx="193" cy="202" r="1.6" fill="#e02000"/>
</g><path d="M86 94 L89 122" stroke="#ff4a00" stroke-width="4" stroke-linecap="round" fill="none" filter="url(#sb15)"/><path d="M89 122 L91 140" stroke="#ff9000" stroke-width="3" stroke-linecap="round" fill="none" filter="url(#sb15)"/>
</g>
<g clip-path="url(#c01)">
<g filter="url(#fp01)"><rect x="200.5" y="67.2" width="12.8" height="13.2" fill="#ffa000"/><rect x="212.8" y="67.2" width="12.8" height="13.2" fill="#ffa000"/><rect x="225.0" y="67.2" width="12.8" height="13.2" fill="#ffa000"/><rect x="237.2" y="67.2" width="12.8" height="13.2" fill="#e60000"/><rect x="249.5" y="67.2" width="12.8" height="13.2" fill="#e60000"/><rect x="261.8" y="67.2" width="12.8" height="13.2" fill="#e60000"/><rect x="274.0" y="67.2" width="12.8" height="13.2" fill="#e60000"/><rect x="286.2" y="67.2" width="12.8" height="13.2" fill="#b00000"/><rect x="298.5" y="67.2" width="12.8" height="13.2" fill="#b00000"/><rect x="310.8" y="67.2" width="12.8" height="13.2" fill="#e60000"/><rect x="323.0" y="67.2" width="12.8" height="13.2" fill="#e60000"/><rect x="335.2" y="67.2" width="12.8" height="13.2" fill="#e60000"/><rect x="347.5" y="67.2" width="12.8" height="13.2" fill="#e60000"/><rect x="359.8" y="67.2" width="12.8" height="13.2" fill="#e60000"/><rect x="372.0" y="67.2" width="12.8" height="13.2" fill="#e60000"/><rect x="384.2" y="67.2" width="12.8" height="13.2" fill="#e60000"/><rect x="200.5" y="79.8" width="12.8" height="13.2" fill="#ffa000"/><rect x="212.8" y="79.8" width="12.8" height="13.2" fill="#ffa000"/><rect x="225.0" y="79.8" width="12.8" height="13.2" fill="#ffa000"/><rect x="237.2" y="79.8" width="12.8" height="13.2" fill="#e60000"/><rect x="249.5" y="79.8" width="12.8" height="13.2" fill="#e60000"/><rect x="261.8" y="79.8" width="12.8" height="13.2" fill="#e60000"/><rect x="274.0" y="79.8" width="12.8" height="13.2" fill="#e60000"/><rect x="286.2" y="79.8" width="12.8" height="13.2" fill="#b00000"/><rect x="298.5" y="79.8" width="12.8" height="13.2" fill="#b00000"/><rect x="310.8" y="79.8" width="12.8" height="13.2" fill="#e60000"/><rect x="323.0" y="79.8" width="12.8" height="13.2" fill="#e60000"/><rect x="335.2" y="79.8" width="12.8" height="13.2" fill="#e60000"/><rect x="347.5" y="79.8" width="12.8" height="13.2" fill="#e60000"/><rect x="359.8" y="79.8" width="12.8" height="13.2" fill="#e60000"/><rect x="372.0" y="79.8" width="12.8" height="13.2" fill="#e60000"/><rect x="384.2" y="79.8" width="12.8" height="13.2" fill="#e60000"/><rect x="200.5" y="92.3" width="12.8" height="13.2" fill="#ffa000"/><rect x="212.8" y="92.3" width="12.8" height="13.2" fill="#ffa000"/><rect x="225.0" y="92.3" width="12.8" height="13.2" fill="#ffa000"/><rect x="237.2" y="92.3" width="12.8" height="13.2" fill="#e60000"/><rect x="249.5" y="92.3" width="12.8" height="13.2" fill="#e60000"/><rect x="261.8" y="92.3" width="12.8" height="13.2" fill="#e60000"/><rect x="274.0" y="92.3" width="12.8" height="13.2" fill="#e60000"/><rect x="286.2" y="92.3" width="12.8" height="13.2" fill="#b00000"/><rect x="298.5" y="92.3" width="12.8" height="13.2" fill="#b00000"/><rect x="310.8" y="92.3" width="12.8" height="13.2" fill="#e60000"/><rect x="323.0" y="92.3" width="12.8" height="13.2" fill="#e60000"/><rect x="335.2" y="92.3" width="12.8" height="13.2" fill="#e60000"/><rect x="347.5" y="92.3" width="12.8" height="13.2" fill="#e60000"/><rect x="359.8" y="92.3" width="12.8" height="13.2" fill="#e60000"/><rect x="372.0" y="92.3" width="12.8" height="13.2" fill="#e60000"/><rect x="384.2" y="92.3" width="12.8" height="13.2" fill="#e60000"/><rect x="200.5" y="104.8" width="12.8" height="13.2" fill="#ffa000"/><rect x="212.8" y="104.8" width="12.8" height="13.2" fill="#ffa000"/><rect x="225.0" y="104.8" width="12.8" height="13.2" fill="#ffa000"/><rect x="237.2" y="104.8" width="12.8" height="13.2" fill="#f82000"/><rect x="249.5" y="104.8" width="12.8" height="13.2" fill="#e60000"/><rect x="261.8" y="104.8" width="12.8" height="13.2" fill="#e60000"/><rect x="274.0" y="104.8" width="12.8" height="13.2" fill="#e60000"/><rect x="286.2" y="104.8" width="12.8" height="13.2" fill="#b00000"/><rect x="298.5" y="104.8" width="12.8" height="13.2" fill="#b00000"/><rect x="310.8" y="104.8" width="12.8" height="13.2" fill="#e60000"/><rect x="323.0" y="104.8" width="12.8" height="13.2" fill="#e60000"/><rect x="335.2" y="104.8" width="12.8" height="13.2" fill="#e60000"/><rect x="347.5" y="104.8" width="12.8" height="13.2" fill="#e60000"/><rect x="359.8" y="104.8" width="12.8" height="13.2" fill="#e60000"/><rect x="372.0" y="104.8" width="12.8" height="13.2" fill="#e60000"/><rect x="384.2" y="104.8" width="12.8" height="13.2" fill="#e60000"/><rect x="200.5" y="117.4" width="12.8" height="13.2" fill="#ffa000"/><rect x="212.8" y="117.4" width="12.8" height="13.2" fill="#ffa000"/><rect x="225.0" y="117.4" width="12.8" height="13.2" fill="#ffa000"/><rect x="237.2" y="117.4" width="12.8" height="13.2" fill="#f82000"/><rect x="249.5" y="117.4" width="12.8" height="13.2" fill="#e60000"/><rect x="261.8" y="117.4" width="12.8" height="13.2" fill="#e60000"/><rect x="274.0" y="117.4" width="12.8" height="13.2" fill="#e60000"/><rect x="286.2" y="117.4" width="12.8" height="13.2" fill="#e60000"/><rect x="298.5" y="117.4" width="12.8" height="13.2" fill="#e60000"/><rect x="310.8" y="117.4" width="12.8" height="13.2" fill="#f82000"/><rect x="323.0" y="117.4" width="12.8" height="13.2" fill="#e60000"/><rect x="335.2" y="117.4" width="12.8" height="13.2" fill="#e60000"/><rect x="347.5" y="117.4" width="12.8" height="13.2" fill="#e60000"/><rect x="359.8" y="117.4" width="12.8" height="13.2" fill="#f82000"/><rect x="372.0" y="117.4" width="12.8" height="13.2" fill="#f82000"/><rect x="384.2" y="117.4" width="12.8" height="13.2" fill="#f82000"/><rect x="200.5" y="129.9" width="12.8" height="13.2" fill="#ffa000"/><rect x="212.8" y="129.9" width="12.8" height="13.2" fill="#ffa000"/><rect x="225.0" y="129.9" width="12.8" height="13.2" fill="#ffa000"/><rect x="237.2" y="129.9" width="12.8" height="13.2" fill="#ff6400"/><rect x="249.5" y="129.9" width="12.8" height="13.2" fill="#e60000"/><rect x="261.8" y="129.9" width="12.8" height="13.2" fill="#e60000"/><rect x="274.0" y="129.9" width="12.8" height="13.2" fill="#e60000"/><rect x="286.2" y="129.9" width="12.8" height="13.2" fill="#e60000"/><rect x="298.5" y="129.9" width="12.8" height="13.2" fill="#e60000"/><rect x="310.8" y="129.9" width="12.8" height="13.2" fill="#f82000"/><rect x="323.0" y="129.9" width="12.8" height="13.2" fill="#f82000"/><rect x="335.2" y="129.9" width="12.8" height="13.2" fill="#ffa000"/><rect x="347.5" y="129.9" width="12.8" height="13.2" fill="#f82000"/><rect x="359.8" y="129.9" width="12.8" height="13.2" fill="#ffa000"/><rect x="372.0" y="129.9" width="12.8" height="13.2" fill="#ffa000"/><rect x="384.2" y="129.9" width="12.8" height="13.2" fill="#ffa000"/><rect x="200.5" y="142.5" width="12.8" height="13.2" fill="#ffcc00"/><rect x="212.8" y="142.5" width="12.8" height="13.2" fill="#ffcc00"/><rect x="225.0" y="142.5" width="12.8" height="13.2" fill="#ffcc00"/><rect x="237.2" y="142.5" width="12.8" height="13.2" fill="#ffa000"/><rect x="249.5" y="142.5" width="12.8" height="13.2" fill="#ff6400"/><rect x="261.8" y="142.5" width="12.8" height="13.2" fill="#f82000"/><rect x="274.0" y="142.5" width="12.8" height="13.2" fill="#e60000"/><rect x="286.2" y="142.5" width="12.8" height="13.2" fill="#e60000"/><rect x="298.5" y="142.5" width="12.8" height="13.2" fill="#e60000"/><rect x="310.8" y="142.5" width="12.8" height="13.2" fill="#e60000"/><rect x="323.0" y="142.5" width="12.8" height="13.2" fill="#ff6400"/><rect x="335.2" y="142.5" width="12.8" height="13.2" fill="#ffcc00"/><rect x="347.5" y="142.5" width="12.8" height="13.2" fill="#ffa000"/><rect x="359.8" y="142.5" width="12.8" height="13.2" fill="#ffa000"/><rect x="372.0" y="142.5" width="12.8" height="13.2" fill="#ffa000"/><rect x="384.2" y="142.5" width="12.8" height="13.2" fill="#ffa000"/><rect x="200.5" y="155.0" width="12.8" height="13.2" fill="#fffa00"/><rect x="212.8" y="155.0" width="12.8" height="13.2" fill="#fffa00"/><rect x="225.0" y="155.0" width="12.8" height="13.2" fill="#fffa00"/><rect x="237.2" y="155.0" width="12.8" height="13.2" fill="#ffa000"/><rect x="249.5" y="155.0" width="12.8" height="13.2" fill="#ff6400"/><rect x="261.8" y="155.0" width="12.8" height="13.2" fill="#f82000"/><rect x="274.0" y="155.0" width="12.8" height="13.2" fill="#e60000"/><rect x="286.2" y="155.0" width="12.8" height="13.2" fill="#e60000"/><rect x="298.5" y="155.0" width="12.8" height="13.2" fill="#e60000"/><rect x="310.8" y="155.0" width="12.8" height="13.2" fill="#e60000"/><rect x="323.0" y="155.0" width="12.8" height="13.2" fill="#ff6400"/><rect x="335.2" y="155.0" width="12.8" height="13.2" fill="#ffcc00"/><rect x="347.5" y="155.0" width="12.8" height="13.2" fill="#ffcc00"/><rect x="359.8" y="155.0" width="12.8" height="13.2" fill="#ffcc00"/><rect x="372.0" y="155.0" width="12.8" height="13.2" fill="#ffcc00"/><rect x="384.2" y="155.0" width="12.8" height="13.2" fill="#ffcc00"/><rect x="200.5" y="167.6" width="12.8" height="13.2" fill="#ffcc00"/><rect x="212.8" y="167.6" width="12.8" height="13.2" fill="#ffcc00"/><rect x="225.0" y="167.6" width="12.8" height="13.2" fill="#ffcc00"/><rect x="237.2" y="167.6" width="12.8" height="13.2" fill="#ffa000"/><rect x="249.5" y="167.6" width="12.8" height="13.2" fill="#ffa000"/><rect x="261.8" y="167.6" width="12.8" height="13.2" fill="#f82000"/><rect x="274.0" y="167.6" width="12.8" height="13.2" fill="#e60000"/><rect x="286.2" y="167.6" width="12.8" height="13.2" fill="#e60000"/><rect x="298.5" y="167.6" width="12.8" height="13.2" fill="#e60000"/><rect x="310.8" y="167.6" width="12.8" height="13.2" fill="#e60000"/><rect x="323.0" y="167.6" width="12.8" height="13.2" fill="#ffa000"/><rect x="335.2" y="167.6" width="12.8" height="13.2" fill="#ffcc00"/><rect x="347.5" y="167.6" width="12.8" height="13.2" fill="#fffa00"/><rect x="359.8" y="167.6" width="12.8" height="13.2" fill="#84ff94"/><rect x="372.0" y="167.6" width="12.8" height="13.2" fill="#84ff94"/><rect x="384.2" y="167.6" width="12.8" height="13.2" fill="#84ff94"/><rect x="200.5" y="180.1" width="12.8" height="13.2" fill="#ffa000"/><rect x="212.8" y="180.1" width="12.8" height="13.2" fill="#ffa000"/><rect x="225.0" y="180.1" width="12.8" height="13.2" fill="#ffa000"/><rect x="237.2" y="180.1" width="12.8" height="13.2" fill="#fffa00"/><rect x="249.5" y="180.1" width="12.8" height="13.2" fill="#ffa000"/><rect x="261.8" y="180.1" width="12.8" height="13.2" fill="#f82000"/><rect x="274.0" y="180.1" width="12.8" height="13.2" fill="#e60000"/><rect x="286.2" y="180.1" width="12.8" height="13.2" fill="#e60000"/><rect x="298.5" y="180.1" width="12.8" height="13.2" fill="#e60000"/><rect x="310.8" y="180.1" width="12.8" height="13.2" fill="#f82000"/><rect x="323.0" y="180.1" width="12.8" height="13.2" fill="#ffa000"/><rect x="335.2" y="180.1" width="12.8" height="13.2" fill="#ffcc00"/><rect x="347.5" y="180.1" width="12.8" height="13.2" fill="#80fcfc"/><rect x="359.8" y="180.1" width="12.8" height="13.2" fill="#fffa00"/><rect x="372.0" y="180.1" width="12.8" height="13.2" fill="#fffa00"/><rect x="384.2" y="180.1" width="12.8" height="13.2" fill="#fffa00"/><rect x="200.5" y="192.7" width="12.8" height="13.2" fill="#ffa000"/><rect x="212.8" y="192.7" width="12.8" height="13.2" fill="#ffa000"/><rect x="225.0" y="192.7" width="12.8" height="13.2" fill="#ffa000"/><rect x="237.2" y="192.7" width="12.8" height="13.2" fill="#ffa000"/><rect x="249.5" y="192.7" width="12.8" height="13.2" fill="#ffa000"/><rect x="261.8" y="192.7" width="12.8" height="13.2" fill="#ff6400"/><rect x="274.0" y="192.7" width="12.8" height="13.2" fill="#f82000"/><rect x="286.2" y="192.7" width="12.8" height="13.2" fill="#f82000"/><rect x="298.5" y="192.7" width="12.8" height="13.2" fill="#f82000"/><rect x="310.8" y="192.7" width="12.8" height="13.2" fill="#ff6400"/><rect x="323.0" y="192.7" width="12.8" height="13.2" fill="#ffa000"/><rect x="335.2" y="192.7" width="12.8" height="13.2" fill="#ffcc00"/><rect x="347.5" y="192.7" width="12.8" height="13.2" fill="#80fcfc"/><rect x="359.8" y="192.7" width="12.8" height="13.2" fill="#ffcc00"/><rect x="372.0" y="192.7" width="12.8" height="13.2" fill="#ffcc00"/><rect x="384.2" y="192.7" width="12.8" height="13.2" fill="#ffcc00"/><rect x="200.5" y="205.2" width="12.8" height="13.2" fill="#ffa000"/><rect x="212.8" y="205.2" width="12.8" height="13.2" fill="#ffa000"/><rect x="225.0" y="205.2" width="12.8" height="13.2" fill="#ffa000"/><rect x="237.2" y="205.2" width="12.8" height="13.2" fill="#fffa00"/><rect x="249.5" y="205.2" width="12.8" height="13.2" fill="#ffa000"/><rect x="261.8" y="205.2" width="12.8" height="13.2" fill="#ffcc00"/><rect x="274.0" y="205.2" width="12.8" height="13.2" fill="#ffcc00"/><rect x="286.2" y="205.2" width="12.8" height="13.2" fill="#ff6400"/><rect x="298.5" y="205.2" width="12.8" height="13.2" fill="#ff6400"/><rect x="310.8" y="205.2" width="12.8" height="13.2" fill="#ffa000"/><rect x="323.0" y="205.2" width="12.8" height="13.2" fill="#ffa000"/><rect x="335.2" y="205.2" width="12.8" height="13.2" fill="#ffcc00"/><rect x="347.5" y="205.2" width="12.8" height="13.2" fill="#80fcfc"/><rect x="359.8" y="205.2" width="12.8" height="13.2" fill="#fffa00"/><rect x="372.0" y="205.2" width="12.8" height="13.2" fill="#fffa00"/><rect x="384.2" y="205.2" width="12.8" height="13.2" fill="#fffa00"/><rect x="200.5" y="217.8" width="12.8" height="13.2" fill="#c4ff40"/><rect x="212.8" y="217.8" width="12.8" height="13.2" fill="#c4ff40"/><rect x="225.0" y="217.8" width="12.8" height="13.2" fill="#c4ff40"/><rect x="237.2" y="217.8" width="12.8" height="13.2" fill="#ffa000"/><rect x="249.5" y="217.8" width="12.8" height="13.2" fill="#ffa000"/><rect x="261.8" y="217.8" width="12.8" height="13.2" fill="#ffcc00"/><rect x="274.0" y="217.8" width="12.8" height="13.2" fill="#ffcc00"/><rect x="286.2" y="217.8" width="12.8" height="13.2" fill="#ffa000"/><rect x="298.5" y="217.8" width="12.8" height="13.2" fill="#ffa000"/><rect x="310.8" y="217.8" width="12.8" height="13.2" fill="#ffa000"/><rect x="323.0" y="217.8" width="12.8" height="13.2" fill="#ffa000"/><rect x="335.2" y="217.8" width="12.8" height="13.2" fill="#ffcc00"/><rect x="347.5" y="217.8" width="12.8" height="13.2" fill="#80fcfc"/><rect x="359.8" y="217.8" width="12.8" height="13.2" fill="#fffa00"/><rect x="372.0" y="217.8" width="12.8" height="13.2" fill="#fffa00"/><rect x="384.2" y="217.8" width="12.8" height="13.2" fill="#fffa00"/><rect x="200.5" y="230.3" width="12.8" height="13.2" fill="#84ff94"/><rect x="212.8" y="230.3" width="12.8" height="13.2" fill="#84ff94"/><rect x="225.0" y="230.3" width="12.8" height="13.2" fill="#84ff94"/><rect x="237.2" y="230.3" width="12.8" height="13.2" fill="#ffa000"/><rect x="249.5" y="230.3" width="12.8" height="13.2" fill="#ffa000"/><rect x="261.8" y="230.3" width="12.8" height="13.2" fill="#ffa000"/><rect x="274.0" y="230.3" width="12.8" height="13.2" fill="#ffcc00"/><rect x="286.2" y="230.3" width="12.8" height="13.2" fill="#ffa000"/><rect x="298.5" y="230.3" width="12.8" height="13.2" fill="#ffa000"/><rect x="310.8" y="230.3" width="12.8" height="13.2" fill="#ffa000"/><rect x="323.0" y="230.3" width="12.8" height="13.2" fill="#ffcc00"/><rect x="335.2" y="230.3" width="12.8" height="13.2" fill="#80fcfc"/><rect x="347.5" y="230.3" width="12.8" height="13.2" fill="#80fcfc"/><rect x="359.8" y="230.3" width="12.8" height="13.2" fill="#c0c8ff"/><rect x="372.0" y="230.3" width="12.8" height="13.2" fill="#c0c8ff"/><rect x="384.2" y="230.3" width="12.8" height="13.2" fill="#c0c8ff"/><rect x="200.5" y="242.9" width="12.8" height="13.2" fill="#fffa00"/><rect x="212.8" y="242.9" width="12.8" height="13.2" fill="#fffa00"/><rect x="225.0" y="242.9" width="12.8" height="13.2" fill="#fffa00"/><rect x="237.2" y="242.9" width="12.8" height="13.2" fill="#80fcfc"/><rect x="249.5" y="242.9" width="12.8" height="13.2" fill="#ffa000"/><rect x="261.8" y="242.9" width="12.8" height="13.2" fill="#ffa000"/><rect x="274.0" y="242.9" width="12.8" height="13.2" fill="#ffa000"/><rect x="286.2" y="242.9" width="12.8" height="13.2" fill="#ffa000"/><rect x="298.5" y="242.9" width="12.8" height="13.2" fill="#ffcc00"/><rect x="310.8" y="242.9" width="12.8" height="13.2" fill="#fffa00"/><rect x="323.0" y="242.9" width="12.8" height="13.2" fill="#fffa00"/><rect x="335.2" y="242.9" width="12.8" height="13.2" fill="#80fcfc"/><rect x="347.5" y="242.9" width="12.8" height="13.2" fill="#c0c8ff"/><rect x="359.8" y="242.9" width="12.8" height="13.2" fill="#c0c8ff"/><rect x="372.0" y="242.9" width="12.8" height="13.2" fill="#c0c8ff"/><rect x="384.2" y="242.9" width="12.8" height="13.2" fill="#c0c8ff"/><rect x="200.5" y="255.4" width="12.8" height="13.2" fill="#fffa00"/><rect x="212.8" y="255.4" width="12.8" height="13.2" fill="#fffa00"/><rect x="225.0" y="255.4" width="12.8" height="13.2" fill="#fffa00"/><rect x="237.2" y="255.4" width="12.8" height="13.2" fill="#80fcfc"/><rect x="249.5" y="255.4" width="12.8" height="13.2" fill="#ffcc00"/><rect x="261.8" y="255.4" width="12.8" height="13.2" fill="#ffa000"/><rect x="274.0" y="255.4" width="12.8" height="13.2" fill="#ffcc00"/><rect x="286.2" y="255.4" width="12.8" height="13.2" fill="#ffcc00"/><rect x="298.5" y="255.4" width="12.8" height="13.2" fill="#80fcfc"/><rect x="310.8" y="255.4" width="12.8" height="13.2" fill="#fffa00"/><rect x="323.0" y="255.4" width="12.8" height="13.2" fill="#c4ff40"/><rect x="335.2" y="255.4" width="12.8" height="13.2" fill="#84ff94"/><rect x="347.5" y="255.4" width="12.8" height="13.2" fill="#80fcfc"/><rect x="359.8" y="255.4" width="12.8" height="13.2" fill="#c0c8ff"/><rect x="372.0" y="255.4" width="12.8" height="13.2" fill="#c0c8ff"/><rect x="384.2" y="255.4" width="12.8" height="13.2" fill="#c0c8ff"/><rect x="200.5" y="268.0" width="12.8" height="13.2" fill="#fffa00"/><rect x="212.8" y="268.0" width="12.8" height="13.2" fill="#fffa00"/><rect x="225.0" y="268.0" width="12.8" height="13.2" fill="#fffa00"/><rect x="237.2" y="268.0" width="12.8" height="13.2" fill="#c4ff40"/><rect x="249.5" y="268.0" width="12.8" height="13.2" fill="#80fcfc"/><rect x="261.8" y="268.0" width="12.8" height="13.2" fill="#fffa00"/><rect x="274.0" y="268.0" width="12.8" height="13.2" fill="#fffa00"/><rect x="286.2" y="268.0" width="12.8" height="13.2" fill="#80fcfc"/><rect x="298.5" y="268.0" width="12.8" height="13.2" fill="#fffa00"/><rect x="310.8" y="268.0" width="12.8" height="13.2" fill="#fffa00"/><rect x="323.0" y="268.0" width="12.8" height="13.2" fill="#84ff94"/><rect x="335.2" y="268.0" width="12.8" height="13.2" fill="#84ff94"/><rect x="347.5" y="268.0" width="12.8" height="13.2" fill="#80fcfc"/><rect x="359.8" y="268.0" width="12.8" height="13.2" fill="#80fcfc"/><rect x="372.0" y="268.0" width="12.8" height="13.2" fill="#80fcfc"/><rect x="384.2" y="268.0" width="12.8" height="13.2" fill="#80fcfc"/><rect x="200.5" y="280.6" width="12.8" height="13.2" fill="#c4ff40"/><rect x="212.8" y="280.6" width="12.8" height="13.2" fill="#c4ff40"/><rect x="225.0" y="280.6" width="12.8" height="13.2" fill="#c4ff40"/><rect x="237.2" y="280.6" width="12.8" height="13.2" fill="#84ff94"/><rect x="249.5" y="280.6" width="12.8" height="13.2" fill="#80fcfc"/><rect x="261.8" y="280.6" width="12.8" height="13.2" fill="#80fcfc"/><rect x="274.0" y="280.6" width="12.8" height="13.2" fill="#fffa00"/><rect x="286.2" y="280.6" width="12.8" height="13.2" fill="#80fcfc"/><rect x="298.5" y="280.6" width="12.8" height="13.2" fill="#fffa00"/><rect x="310.8" y="280.6" width="12.8" height="13.2" fill="#fffa00"/><rect x="323.0" y="280.6" width="12.8" height="13.2" fill="#84ff94"/><rect x="335.2" y="280.6" width="12.8" height="13.2" fill="#84ff94"/><rect x="347.5" y="280.6" width="12.8" height="13.2" fill="#80fcfc"/><rect x="359.8" y="280.6" width="12.8" height="13.2" fill="#80fcfc"/><rect x="372.0" y="280.6" width="12.8" height="13.2" fill="#80fcfc"/><rect x="384.2" y="280.6" width="12.8" height="13.2" fill="#80fcfc"/><rect x="200.5" y="293.1" width="12.8" height="13.2" fill="#84ff94"/><rect x="212.8" y="293.1" width="12.8" height="13.2" fill="#84ff94"/><rect x="225.0" y="293.1" width="12.8" height="13.2" fill="#84ff94"/><rect x="237.2" y="293.1" width="12.8" height="13.2" fill="#84ff94"/><rect x="249.5" y="293.1" width="12.8" height="13.2" fill="#c4ff40"/><rect x="261.8" y="293.1" width="12.8" height="13.2" fill="#80fcfc"/><rect x="274.0" y="293.1" width="12.8" height="13.2" fill="#80fcfc"/><rect x="286.2" y="293.1" width="12.8" height="13.2" fill="#80fcfc"/><rect x="298.5" y="293.1" width="12.8" height="13.2" fill="#84ff94"/><rect x="310.8" y="293.1" width="12.8" height="13.2" fill="#fffa00"/><rect x="323.0" y="293.1" width="12.8" height="13.2" fill="#84ff94"/><rect x="335.2" y="293.1" width="12.8" height="13.2" fill="#84ff94"/><rect x="347.5" y="293.1" width="12.8" height="13.2" fill="#84ff94"/><rect x="359.8" y="293.1" width="12.8" height="13.2" fill="#fffa00"/><rect x="372.0" y="293.1" width="12.8" height="13.2" fill="#fffa00"/><rect x="384.2" y="293.1" width="12.8" height="13.2" fill="#fffa00"/><rect x="200.5" y="305.7" width="12.8" height="13.2" fill="#84ff94"/><rect x="212.8" y="305.7" width="12.8" height="13.2" fill="#84ff94"/><rect x="225.0" y="305.7" width="12.8" height="13.2" fill="#84ff94"/><rect x="237.2" y="305.7" width="12.8" height="13.2" fill="#84ff94"/><rect x="249.5" y="305.7" width="12.8" height="13.2" fill="#84ff94"/><rect x="261.8" y="305.7" width="12.8" height="13.2" fill="#80fcfc"/><rect x="274.0" y="305.7" width="12.8" height="13.2" fill="#c0c8ff"/><rect x="286.2" y="305.7" width="12.8" height="13.2" fill="#80fcfc"/><rect x="298.5" y="305.7" width="12.8" height="13.2" fill="#84ff94"/><rect x="310.8" y="305.7" width="12.8" height="13.2" fill="#84ff94"/><rect x="323.0" y="305.7" width="12.8" height="13.2" fill="#84ff94"/><rect x="335.2" y="305.7" width="12.8" height="13.2" fill="#84ff94"/><rect x="347.5" y="305.7" width="12.8" height="13.2" fill="#84ff94"/><rect x="359.8" y="305.7" width="12.8" height="13.2" fill="#84ff94"/><rect x="372.0" y="305.7" width="12.8" height="13.2" fill="#84ff94"/><rect x="384.2" y="305.7" width="12.8" height="13.2" fill="#84ff94"/><rect x="200.5" y="318.2" width="12.8" height="13.2" fill="#84ff94"/><rect x="212.8" y="318.2" width="12.8" height="13.2" fill="#84ff94"/><rect x="225.0" y="318.2" width="12.8" height="13.2" fill="#84ff94"/><rect x="237.2" y="318.2" width="12.8" height="13.2" fill="#84ff94"/><rect x="249.5" y="318.2" width="12.8" height="13.2" fill="#84ff94"/><rect x="261.8" y="318.2" width="12.8" height="13.2" fill="#80fcfc"/><rect x="274.0" y="318.2" width="12.8" height="13.2" fill="#c0c8ff"/><rect x="286.2" y="318.2" width="12.8" height="13.2" fill="#80fcfc"/><rect x="298.5" y="318.2" width="12.8" height="13.2" fill="#84ff94"/><rect x="310.8" y="318.2" width="12.8" height="13.2" fill="#84ff94"/><rect x="323.0" y="318.2" width="12.8" height="13.2" fill="#84ff94"/><rect x="335.2" y="318.2" width="12.8" height="13.2" fill="#84ff94"/><rect x="347.5" y="318.2" width="12.8" height="13.2" fill="#84ff94"/><rect x="359.8" y="318.2" width="12.8" height="13.2" fill="#84ff94"/><rect x="372.0" y="318.2" width="12.8" height="13.2" fill="#84ff94"/><rect x="384.2" y="318.2" width="12.8" height="13.2" fill="#84ff94"/><rect x="200.5" y="330.8" width="12.8" height="13.2" fill="#84ff94"/><rect x="212.8" y="330.8" width="12.8" height="13.2" fill="#84ff94"/><rect x="225.0" y="330.8" width="12.8" height="13.2" fill="#84ff94"/><rect x="237.2" y="330.8" width="12.8" height="13.2" fill="#84ff94"/><rect x="249.5" y="330.8" width="12.8" height="13.2" fill="#84ff94"/><rect x="261.8" y="330.8" width="12.8" height="13.2" fill="#80fcfc"/><rect x="274.0" y="330.8" width="12.8" height="13.2" fill="#c0c8ff"/><rect x="286.2" y="330.8" width="12.8" height="13.2" fill="#80fcfc"/><rect x="298.5" y="330.8" width="12.8" height="13.2" fill="#84ff94"/><rect x="310.8" y="330.8" width="12.8" height="13.2" fill="#84ff94"/><rect x="323.0" y="330.8" width="12.8" height="13.2" fill="#84ff94"/><rect x="335.2" y="330.8" width="12.8" height="13.2" fill="#84ff94"/><rect x="347.5" y="330.8" width="12.8" height="13.2" fill="#84ff94"/><rect x="359.8" y="330.8" width="12.8" height="13.2" fill="#84ff94"/><rect x="372.0" y="330.8" width="12.8" height="13.2" fill="#84ff94"/><rect x="384.2" y="330.8" width="12.8" height="13.2" fill="#84ff94"/></g><polygon points="230.5,93.0 232.0,102.0 235.0,131.0 239.4,137.6 246.0,146.5 248.3,151.0 268.4,153.2 270.6,168.8 263.9,177.8 259.5,186.7 262.0,205.0 270.0,222.0 295.0,225.0 308.0,212.0 313.0,204.5 317.5,191.2 324.0,182.2 328.6,160.0 330.8,144.3 337.5,136.5 351.0,141.0 362.0,137.6 368.8,122.0 373.0,110.0 373.0,93.0" fill="url(#lgp2)" filter="url(#sb2)" opacity="0.9"/>
<ellipse cx="300" cy="106" rx="40" ry="22" fill="#b00000" filter="url(#sb6)" opacity="0.6"/>
<g filter="url(#sb1)">
<ellipse cx="237" cy="116" rx="4.5" ry="15" fill="#ff9000" opacity="0.6" filter="url(#sb2)"/>
<polygon points="248,149 268,152 270.6,168.8 262,172 252,162" fill="#ff5000"/>
<ellipse cx="325.5" cy="137" rx="5" ry="10" fill="#ff4000" opacity="0.8" filter="url(#sb2)"/>
</g>
</g>
<g clip-path="url(#c02)">
<g filter="url(#fp02)"><rect x="360.9" y="67.2" width="12.8" height="13.2" fill="#ffcc00"/><rect x="373.2" y="67.2" width="12.8" height="13.2" fill="#ffcc00"/><rect x="385.4" y="67.2" width="12.8" height="13.2" fill="#ffcc00"/><rect x="397.6" y="67.2" width="12.8" height="13.2" fill="#84ff94"/><rect x="409.9" y="67.2" width="12.8" height="13.2" fill="#84ff94"/><rect x="422.1" y="67.2" width="12.8" height="13.2" fill="#84ff94"/><rect x="434.3" y="67.2" width="12.8" height="13.2" fill="#84ff94"/><rect x="446.6" y="67.2" width="12.8" height="13.2" fill="#84ff94"/><rect x="458.8" y="67.2" width="12.8" height="13.2" fill="#84ff94"/><rect x="471.0" y="67.2" width="12.8" height="13.2" fill="#fffa00"/><rect x="483.3" y="67.2" width="12.8" height="13.2" fill="#c4ff40"/><rect x="495.5" y="67.2" width="12.8" height="13.2" fill="#84ff94"/><rect x="507.7" y="67.2" width="12.8" height="13.2" fill="#80fcfc"/><rect x="520.0" y="67.2" width="12.8" height="13.2" fill="#80fcfc"/><rect x="532.2" y="67.2" width="12.8" height="13.2" fill="#80fcfc"/><rect x="544.4" y="67.2" width="12.8" height="13.2" fill="#80fcfc"/><rect x="360.9" y="79.8" width="12.8" height="13.2" fill="#ffcc00"/><rect x="373.2" y="79.8" width="12.8" height="13.2" fill="#ffcc00"/><rect x="385.4" y="79.8" width="12.8" height="13.2" fill="#ffcc00"/><rect x="397.6" y="79.8" width="12.8" height="13.2" fill="#84ff94"/><rect x="409.9" y="79.8" width="12.8" height="13.2" fill="#84ff94"/><rect x="422.1" y="79.8" width="12.8" height="13.2" fill="#84ff94"/><rect x="434.3" y="79.8" width="12.8" height="13.2" fill="#84ff94"/><rect x="446.6" y="79.8" width="12.8" height="13.2" fill="#84ff94"/><rect x="458.8" y="79.8" width="12.8" height="13.2" fill="#84ff94"/><rect x="471.0" y="79.8" width="12.8" height="13.2" fill="#fffa00"/><rect x="483.3" y="79.8" width="12.8" height="13.2" fill="#c4ff40"/><rect x="495.5" y="79.8" width="12.8" height="13.2" fill="#84ff94"/><rect x="507.7" y="79.8" width="12.8" height="13.2" fill="#80fcfc"/><rect x="520.0" y="79.8" width="12.8" height="13.2" fill="#80fcfc"/><rect x="532.2" y="79.8" width="12.8" height="13.2" fill="#80fcfc"/><rect x="544.4" y="79.8" width="12.8" height="13.2" fill="#80fcfc"/><rect x="360.9" y="92.3" width="12.8" height="13.2" fill="#ffcc00"/><rect x="373.2" y="92.3" width="12.8" height="13.2" fill="#ffcc00"/><rect x="385.4" y="92.3" width="12.8" height="13.2" fill="#ffcc00"/><rect x="397.6" y="92.3" width="12.8" height="13.2" fill="#84ff94"/><rect x="409.9" y="92.3" width="12.8" height="13.2" fill="#84ff94"/><rect x="422.1" y="92.3" width="12.8" height="13.2" fill="#84ff94"/><rect x="434.3" y="92.3" width="12.8" height="13.2" fill="#84ff94"/><rect x="446.6" y="92.3" width="12.8" height="13.2" fill="#84ff94"/><rect x="458.8" y="92.3" width="12.8" height="13.2" fill="#84ff94"/><rect x="471.0" y="92.3" width="12.8" height="13.2" fill="#fffa00"/><rect x="483.3" y="92.3" width="12.8" height="13.2" fill="#c4ff40"/><rect x="495.5" y="92.3" width="12.8" height="13.2" fill="#84ff94"/><rect x="507.7" y="92.3" width="12.8" height="13.2" fill="#80fcfc"/><rect x="520.0" y="92.3" width="12.8" height="13.2" fill="#80fcfc"/><rect x="532.2" y="92.3" width="12.8" height="13.2" fill="#80fcfc"/><rect x="544.4" y="92.3" width="12.8" height="13.2" fill="#80fcfc"/><rect x="360.9" y="104.8" width="12.8" height="13.2" fill="#ffa000"/><rect x="373.2" y="104.8" width="12.8" height="13.2" fill="#ffa000"/><rect x="385.4" y="104.8" width="12.8" height="13.2" fill="#ffa000"/><rect x="397.6" y="104.8" width="12.8" height="13.2" fill="#c4ff40"/><rect x="409.9" y="104.8" width="12.8" height="13.2" fill="#84ff94"/><rect x="422.1" y="104.8" width="12.8" height="13.2" fill="#84ff94"/><rect x="434.3" y="104.8" width="12.8" height="13.2" fill="#84ff94"/><rect x="446.6" y="104.8" width="12.8" height="13.2" fill="#84ff94"/><rect x="458.8" y="104.8" width="12.8" height="13.2" fill="#84ff94"/><rect x="471.0" y="104.8" width="12.8" height="13.2" fill="#fffa00"/><rect x="483.3" y="104.8" width="12.8" height="13.2" fill="#ffcc00"/><rect x="495.5" y="104.8" width="12.8" height="13.2" fill="#84ff94"/><rect x="507.7" y="104.8" width="12.8" height="13.2" fill="#80fcfc"/><rect x="520.0" y="104.8" width="12.8" height="13.2" fill="#80fcfc"/><rect x="532.2" y="104.8" width="12.8" height="13.2" fill="#80fcfc"/><rect x="544.4" y="104.8" width="12.8" height="13.2" fill="#80fcfc"/><rect x="360.9" y="117.4" width="12.8" height="13.2" fill="#ffa000"/><rect x="373.2" y="117.4" width="12.8" height="13.2" fill="#ffa000"/><rect x="385.4" y="117.4" width="12.8" height="13.2" fill="#ffa000"/><rect x="397.6" y="117.4" width="12.8" height="13.2" fill="#fffa00"/><rect x="409.9" y="117.4" width="12.8" height="13.2" fill="#c4ff40"/><rect x="422.1" y="117.4" width="12.8" height="13.2" fill="#84ff94"/><rect x="434.3" y="117.4" width="12.8" height="13.2" fill="#84ff94"/><rect x="446.6" y="117.4" width="12.8" height="13.2" fill="#84ff94"/><rect x="458.8" y="117.4" width="12.8" height="13.2" fill="#84ff94"/><rect x="471.0" y="117.4" width="12.8" height="13.2" fill="#fffa00"/><rect x="483.3" y="117.4" width="12.8" height="13.2" fill="#fffa00"/><rect x="495.5" y="117.4" width="12.8" height="13.2" fill="#c4ff40"/><rect x="507.7" y="117.4" width="12.8" height="13.2" fill="#84ff94"/><rect x="520.0" y="117.4" width="12.8" height="13.2" fill="#80fcfc"/><rect x="532.2" y="117.4" width="12.8" height="13.2" fill="#80fcfc"/><rect x="544.4" y="117.4" width="12.8" height="13.2" fill="#80fcfc"/><rect x="360.9" y="129.9" width="12.8" height="13.2" fill="#ffa000"/><rect x="373.2" y="129.9" width="12.8" height="13.2" fill="#ffa000"/><rect x="385.4" y="129.9" width="12.8" height="13.2" fill="#ffa000"/><rect x="397.6" y="129.9" width="12.8" height="13.2" fill="#fffa00"/><rect x="409.9" y="129.9" width="12.8" height="13.2" fill="#c4ff40"/><rect x="422.1" y="129.9" width="12.8" height="13.2" fill="#84ff94"/><rect x="434.3" y="129.9" width="12.8" height="13.2" fill="#84ff94"/><rect x="446.6" y="129.9" width="12.8" height="13.2" fill="#84ff94"/><rect x="458.8" y="129.9" width="12.8" height="13.2" fill="#80fcfc"/><rect x="471.0" y="129.9" width="12.8" height="13.2" fill="#84ff94"/><rect x="483.3" y="129.9" width="12.8" height="13.2" fill="#84ff94"/><rect x="495.5" y="129.9" width="12.8" height="13.2" fill="#c4ff40"/><rect x="507.7" y="129.9" width="12.8" height="13.2" fill="#80fcfc"/><rect x="520.0" y="129.9" width="12.8" height="13.2" fill="#84ff94"/><rect x="532.2" y="129.9" width="12.8" height="13.2" fill="#84ff94"/><rect x="544.4" y="129.9" width="12.8" height="13.2" fill="#84ff94"/><rect x="360.9" y="142.5" width="12.8" height="13.2" fill="#ffa000"/><rect x="373.2" y="142.5" width="12.8" height="13.2" fill="#ffa000"/><rect x="385.4" y="142.5" width="12.8" height="13.2" fill="#ffa000"/><rect x="397.6" y="142.5" width="12.8" height="13.2" fill="#fffa00"/><rect x="409.9" y="142.5" width="12.8" height="13.2" fill="#fffa00"/><rect x="422.1" y="142.5" width="12.8" height="13.2" fill="#fffa00"/><rect x="434.3" y="142.5" width="12.8" height="13.2" fill="#c4ff40"/><rect x="446.6" y="142.5" width="12.8" height="13.2" fill="#84ff94"/><rect x="458.8" y="142.5" width="12.8" height="13.2" fill="#80fcfc"/><rect x="471.0" y="142.5" width="12.8" height="13.2" fill="#80fcfc"/><rect x="483.3" y="142.5" width="12.8" height="13.2" fill="#84ff94"/><rect x="495.5" y="142.5" width="12.8" height="13.2" fill="#84ff94"/><rect x="507.7" y="142.5" width="12.8" height="13.2" fill="#c4ff40"/><rect x="520.0" y="142.5" width="12.8" height="13.2" fill="#84ff94"/><rect x="532.2" y="142.5" width="12.8" height="13.2" fill="#84ff94"/><rect x="544.4" y="142.5" width="12.8" height="13.2" fill="#84ff94"/><rect x="360.9" y="155.0" width="12.8" height="13.2" fill="#ffa000"/><rect x="373.2" y="155.0" width="12.8" height="13.2" fill="#ffa000"/><rect x="385.4" y="155.0" width="12.8" height="13.2" fill="#ffa000"/><rect x="397.6" y="155.0" width="12.8" height="13.2" fill="#ffcc00"/><rect x="409.9" y="155.0" width="12.8" height="13.2" fill="#fffa00"/><rect x="422.1" y="155.0" width="12.8" height="13.2" fill="#fffa00"/><rect x="434.3" y="155.0" width="12.8" height="13.2" fill="#c4ff40"/><rect x="446.6" y="155.0" width="12.8" height="13.2" fill="#c4ff40"/><rect x="458.8" y="155.0" width="12.8" height="13.2" fill="#80fcfc"/><rect x="471.0" y="155.0" width="12.8" height="13.2" fill="#80fcfc"/><rect x="483.3" y="155.0" width="12.8" height="13.2" fill="#80fcfc"/><rect x="495.5" y="155.0" width="12.8" height="13.2" fill="#84ff94"/><rect x="507.7" y="155.0" width="12.8" height="13.2" fill="#c4ff40"/><rect x="520.0" y="155.0" width="12.8" height="13.2" fill="#ffcc00"/><rect x="532.2" y="155.0" width="12.8" height="13.2" fill="#ffcc00"/><rect x="544.4" y="155.0" width="12.8" height="13.2" fill="#ffcc00"/><rect x="360.9" y="167.6" width="12.8" height="13.2" fill="#ffa000"/><rect x="373.2" y="167.6" width="12.8" height="13.2" fill="#ffa000"/><rect x="385.4" y="167.6" width="12.8" height="13.2" fill="#ffa000"/><rect x="397.6" y="167.6" width="12.8" height="13.2" fill="#ffcc00"/><rect x="409.9" y="167.6" width="12.8" height="13.2" fill="#fffa00"/><rect x="422.1" y="167.6" width="12.8" height="13.2" fill="#fffa00"/><rect x="434.3" y="167.6" width="12.8" height="13.2" fill="#fffa00"/><rect x="446.6" y="167.6" width="12.8" height="13.2" fill="#c4ff40"/><rect x="458.8" y="167.6" width="12.8" height="13.2" fill="#80fcfc"/><rect x="471.0" y="167.6" width="12.8" height="13.2" fill="#80fcfc"/><rect x="483.3" y="167.6" width="12.8" height="13.2" fill="#80fcfc"/><rect x="495.5" y="167.6" width="12.8" height="13.2" fill="#ffcc00"/><rect x="507.7" y="167.6" width="12.8" height="13.2" fill="#84ff94"/><rect x="520.0" y="167.6" width="12.8" height="13.2" fill="#80fcfc"/><rect x="532.2" y="167.6" width="12.8" height="13.2" fill="#80fcfc"/><rect x="544.4" y="167.6" width="12.8" height="13.2" fill="#80fcfc"/><rect x="360.9" y="180.1" width="12.8" height="13.2" fill="#ffcc00"/><rect x="373.2" y="180.1" width="12.8" height="13.2" fill="#ffcc00"/><rect x="385.4" y="180.1" width="12.8" height="13.2" fill="#ffcc00"/><rect x="397.6" y="180.1" width="12.8" height="13.2" fill="#ffcc00"/><rect x="409.9" y="180.1" width="12.8" height="13.2" fill="#fffa00"/><rect x="422.1" y="180.1" width="12.8" height="13.2" fill="#ffcc00"/><rect x="434.3" y="180.1" width="12.8" height="13.2" fill="#fffa00"/><rect x="446.6" y="180.1" width="12.8" height="13.2" fill="#fffa00"/><rect x="458.8" y="180.1" width="12.8" height="13.2" fill="#c4ff40"/><rect x="471.0" y="180.1" width="12.8" height="13.2" fill="#80fcfc"/><rect x="483.3" y="180.1" width="12.8" height="13.2" fill="#84ff94"/><rect x="495.5" y="180.1" width="12.8" height="13.2" fill="#ffcc00"/><rect x="507.7" y="180.1" width="12.8" height="13.2" fill="#80fcfc"/><rect x="520.0" y="180.1" width="12.8" height="13.2" fill="#80fcfc"/><rect x="532.2" y="180.1" width="12.8" height="13.2" fill="#80fcfc"/><rect x="544.4" y="180.1" width="12.8" height="13.2" fill="#80fcfc"/><rect x="360.9" y="192.7" width="12.8" height="13.2" fill="#ffcc00"/><rect x="373.2" y="192.7" width="12.8" height="13.2" fill="#ffcc00"/><rect x="385.4" y="192.7" width="12.8" height="13.2" fill="#ffcc00"/><rect x="397.6" y="192.7" width="12.8" height="13.2" fill="#ffcc00"/><rect x="409.9" y="192.7" width="12.8" height="13.2" fill="#ffcc00"/><rect x="422.1" y="192.7" width="12.8" height="13.2" fill="#ffa000"/><rect x="434.3" y="192.7" width="12.8" height="13.2" fill="#ffcc00"/><rect x="446.6" y="192.7" width="12.8" height="13.2" fill="#fffa00"/><rect x="458.8" y="192.7" width="12.8" height="13.2" fill="#c4ff40"/><rect x="471.0" y="192.7" width="12.8" height="13.2" fill="#c4ff40"/><rect x="483.3" y="192.7" width="12.8" height="13.2" fill="#84ff94"/><rect x="495.5" y="192.7" width="12.8" height="13.2" fill="#ffcc00"/><rect x="507.7" y="192.7" width="12.8" height="13.2" fill="#ffa000"/><rect x="520.0" y="192.7" width="12.8" height="13.2" fill="#80fcfc"/><rect x="532.2" y="192.7" width="12.8" height="13.2" fill="#80fcfc"/><rect x="544.4" y="192.7" width="12.8" height="13.2" fill="#80fcfc"/><rect x="360.9" y="205.2" width="12.8" height="13.2" fill="#ffa000"/><rect x="373.2" y="205.2" width="12.8" height="13.2" fill="#ffa000"/><rect x="385.4" y="205.2" width="12.8" height="13.2" fill="#ffa000"/><rect x="397.6" y="205.2" width="12.8" height="13.2" fill="#f82000"/><rect x="409.9" y="205.2" width="12.8" height="13.2" fill="#ffa000"/><rect x="422.1" y="205.2" width="12.8" height="13.2" fill="#ffcc00"/><rect x="434.3" y="205.2" width="12.8" height="13.2" fill="#ffcc00"/><rect x="446.6" y="205.2" width="12.8" height="13.2" fill="#ffa000"/><rect x="458.8" y="205.2" width="12.8" height="13.2" fill="#fffa00"/><rect x="471.0" y="205.2" width="12.8" height="13.2" fill="#fffa00"/><rect x="483.3" y="205.2" width="12.8" height="13.2" fill="#ffcc00"/><rect x="495.5" y="205.2" width="12.8" height="13.2" fill="#ffa000"/><rect x="507.7" y="205.2" width="12.8" height="13.2" fill="#ffa000"/><rect x="520.0" y="205.2" width="12.8" height="13.2" fill="#80fcfc"/><rect x="532.2" y="205.2" width="12.8" height="13.2" fill="#80fcfc"/><rect x="544.4" y="205.2" width="12.8" height="13.2" fill="#80fcfc"/><rect x="360.9" y="217.8" width="12.8" height="13.2" fill="#e60000"/><rect x="373.2" y="217.8" width="12.8" height="13.2" fill="#e60000"/><rect x="385.4" y="217.8" width="12.8" height="13.2" fill="#e60000"/><rect x="397.6" y="217.8" width="12.8" height="13.2" fill="#ff6400"/><rect x="409.9" y="217.8" width="12.8" height="13.2" fill="#ff6400"/><rect x="422.1" y="217.8" width="12.8" height="13.2" fill="#f82000"/><rect x="434.3" y="217.8" width="12.8" height="13.2" fill="#ffa000"/><rect x="446.6" y="217.8" width="12.8" height="13.2" fill="#ffcc00"/><rect x="458.8" y="217.8" width="12.8" height="13.2" fill="#ffcc00"/><rect x="471.0" y="217.8" width="12.8" height="13.2" fill="#fffa00"/><rect x="483.3" y="217.8" width="12.8" height="13.2" fill="#f82000"/><rect x="495.5" y="217.8" width="12.8" height="13.2" fill="#ffa000"/><rect x="507.7" y="217.8" width="12.8" height="13.2" fill="#ffa000"/><rect x="520.0" y="217.8" width="12.8" height="13.2" fill="#ffcc00"/><rect x="532.2" y="217.8" width="12.8" height="13.2" fill="#ffcc00"/><rect x="544.4" y="217.8" width="12.8" height="13.2" fill="#ffcc00"/><rect x="360.9" y="230.3" width="12.8" height="13.2" fill="#e60000"/><rect x="373.2" y="230.3" width="12.8" height="13.2" fill="#e60000"/><rect x="385.4" y="230.3" width="12.8" height="13.2" fill="#e60000"/><rect x="397.6" y="230.3" width="12.8" height="13.2" fill="#ffa000"/><rect x="409.9" y="230.3" width="12.8" height="13.2" fill="#f82000"/><rect x="422.1" y="230.3" width="12.8" height="13.2" fill="#f82000"/><rect x="434.3" y="230.3" width="12.8" height="13.2" fill="#ffa000"/><rect x="446.6" y="230.3" width="12.8" height="13.2" fill="#ffcc00"/><rect x="458.8" y="230.3" width="12.8" height="13.2" fill="#ffcc00"/><rect x="471.0" y="230.3" width="12.8" height="13.2" fill="#ffcc00"/><rect x="483.3" y="230.3" width="12.8" height="13.2" fill="#f82000"/><rect x="495.5" y="230.3" width="12.8" height="13.2" fill="#ffa000"/><rect x="507.7" y="230.3" width="12.8" height="13.2" fill="#ffa000"/><rect x="520.0" y="230.3" width="12.8" height="13.2" fill="#ffa000"/><rect x="532.2" y="230.3" width="12.8" height="13.2" fill="#ffa000"/><rect x="544.4" y="230.3" width="12.8" height="13.2" fill="#ffa000"/><rect x="360.9" y="242.9" width="12.8" height="13.2" fill="#f82000"/><rect x="373.2" y="242.9" width="12.8" height="13.2" fill="#f82000"/><rect x="385.4" y="242.9" width="12.8" height="13.2" fill="#f82000"/><rect x="397.6" y="242.9" width="12.8" height="13.2" fill="#e60000"/><rect x="409.9" y="242.9" width="12.8" height="13.2" fill="#ffa000"/><rect x="422.1" y="242.9" width="12.8" height="13.2" fill="#ffa000"/><rect x="434.3" y="242.9" width="12.8" height="13.2" fill="#ffcc00"/><rect x="446.6" y="242.9" width="12.8" height="13.2" fill="#ffcc00"/><rect x="458.8" y="242.9" width="12.8" height="13.2" fill="#ffcc00"/><rect x="471.0" y="242.9" width="12.8" height="13.2" fill="#ffcc00"/><rect x="483.3" y="242.9" width="12.8" height="13.2" fill="#f82000"/><rect x="495.5" y="242.9" width="12.8" height="13.2" fill="#ffa000"/><rect x="507.7" y="242.9" width="12.8" height="13.2" fill="#ffa000"/><rect x="520.0" y="242.9" width="12.8" height="13.2" fill="#ffa000"/><rect x="532.2" y="242.9" width="12.8" height="13.2" fill="#ffa000"/><rect x="544.4" y="242.9" width="12.8" height="13.2" fill="#ffa000"/><rect x="360.9" y="255.4" width="12.8" height="13.2" fill="#e60000"/><rect x="373.2" y="255.4" width="12.8" height="13.2" fill="#e60000"/><rect x="385.4" y="255.4" width="12.8" height="13.2" fill="#e60000"/><rect x="397.6" y="255.4" width="12.8" height="13.2" fill="#f82000"/><rect x="409.9" y="255.4" width="12.8" height="13.2" fill="#ffa000"/><rect x="422.1" y="255.4" width="12.8" height="13.2" fill="#ffcc00"/><rect x="434.3" y="255.4" width="12.8" height="13.2" fill="#ffcc00"/><rect x="446.6" y="255.4" width="12.8" height="13.2" fill="#ffcc00"/><rect x="458.8" y="255.4" width="12.8" height="13.2" fill="#fffa00"/><rect x="471.0" y="255.4" width="12.8" height="13.2" fill="#ffa000"/><rect x="483.3" y="255.4" width="12.8" height="13.2" fill="#ff6400"/><rect x="495.5" y="255.4" width="12.8" height="13.2" fill="#ffa000"/><rect x="507.7" y="255.4" width="12.8" height="13.2" fill="#ffcc00"/><rect x="520.0" y="255.4" width="12.8" height="13.2" fill="#ffcc00"/><rect x="532.2" y="255.4" width="12.8" height="13.2" fill="#ffcc00"/><rect x="544.4" y="255.4" width="12.8" height="13.2" fill="#ffcc00"/><rect x="360.9" y="268.0" width="12.8" height="13.2" fill="#f82000"/><rect x="373.2" y="268.0" width="12.8" height="13.2" fill="#f82000"/><rect x="385.4" y="268.0" width="12.8" height="13.2" fill="#f82000"/><rect x="397.6" y="268.0" width="12.8" height="13.2" fill="#ff6400"/><rect x="409.9" y="268.0" width="12.8" height="13.2" fill="#f82000"/><rect x="422.1" y="268.0" width="12.8" height="13.2" fill="#ffa000"/><rect x="434.3" y="268.0" width="12.8" height="13.2" fill="#ffcc00"/><rect x="446.6" y="268.0" width="12.8" height="13.2" fill="#ffcc00"/><rect x="458.8" y="268.0" width="12.8" height="13.2" fill="#fffa00"/><rect x="471.0" y="268.0" width="12.8" height="13.2" fill="#ffcc00"/><rect x="483.3" y="268.0" width="12.8" height="13.2" fill="#84ff94"/><rect x="495.5" y="268.0" width="12.8" height="13.2" fill="#80fcfc"/><rect x="507.7" y="268.0" width="12.8" height="13.2" fill="#80fcfc"/><rect x="520.0" y="268.0" width="12.8" height="13.2" fill="#80fcfc"/><rect x="532.2" y="268.0" width="12.8" height="13.2" fill="#80fcfc"/><rect x="544.4" y="268.0" width="12.8" height="13.2" fill="#80fcfc"/><rect x="360.9" y="280.6" width="12.8" height="13.2" fill="#ffa000"/><rect x="373.2" y="280.6" width="12.8" height="13.2" fill="#ffa000"/><rect x="385.4" y="280.6" width="12.8" height="13.2" fill="#ffa000"/><rect x="397.6" y="280.6" width="12.8" height="13.2" fill="#ffa000"/><rect x="409.9" y="280.6" width="12.8" height="13.2" fill="#ff6400"/><rect x="422.1" y="280.6" width="12.8" height="13.2" fill="#f82000"/><rect x="434.3" y="280.6" width="12.8" height="13.2" fill="#ffa000"/><rect x="446.6" y="280.6" width="12.8" height="13.2" fill="#ffcc00"/><rect x="458.8" y="280.6" width="12.8" height="13.2" fill="#fffa00"/><rect x="471.0" y="280.6" width="12.8" height="13.2" fill="#fffa00"/><rect x="483.3" y="280.6" width="12.8" height="13.2" fill="#80fcfc"/><rect x="495.5" y="280.6" width="12.8" height="13.2" fill="#84ff94"/><rect x="507.7" y="280.6" width="12.8" height="13.2" fill="#84ff94"/><rect x="520.0" y="280.6" width="12.8" height="13.2" fill="#80fcfc"/><rect x="532.2" y="280.6" width="12.8" height="13.2" fill="#80fcfc"/><rect x="544.4" y="280.6" width="12.8" height="13.2" fill="#80fcfc"/><rect x="360.9" y="293.1" width="12.8" height="13.2" fill="#ffa000"/><rect x="373.2" y="293.1" width="12.8" height="13.2" fill="#ffa000"/><rect x="385.4" y="293.1" width="12.8" height="13.2" fill="#ffa000"/><rect x="397.6" y="293.1" width="12.8" height="13.2" fill="#ffcc00"/><rect x="409.9" y="293.1" width="12.8" height="13.2" fill="#ffa000"/><rect x="422.1" y="293.1" width="12.8" height="13.2" fill="#ff6400"/><rect x="434.3" y="293.1" width="12.8" height="13.2" fill="#ffa000"/><rect x="446.6" y="293.1" width="12.8" height="13.2" fill="#ffcc00"/><rect x="458.8" y="293.1" width="12.8" height="13.2" fill="#fffa00"/><rect x="471.0" y="293.1" width="12.8" height="13.2" fill="#c4ff40"/><rect x="483.3" y="293.1" width="12.8" height="13.2" fill="#80fcfc"/><rect x="495.5" y="293.1" width="12.8" height="13.2" fill="#80fcfc"/><rect x="507.7" y="293.1" width="12.8" height="13.2" fill="#80fcfc"/><rect x="520.0" y="293.1" width="12.8" height="13.2" fill="#80fcfc"/><rect x="532.2" y="293.1" width="12.8" height="13.2" fill="#80fcfc"/><rect x="544.4" y="293.1" width="12.8" height="13.2" fill="#80fcfc"/><rect x="360.9" y="305.7" width="12.8" height="13.2" fill="#ffcc00"/><rect x="373.2" y="305.7" width="12.8" height="13.2" fill="#ffcc00"/><rect x="385.4" y="305.7" width="12.8" height="13.2" fill="#ffcc00"/><rect x="397.6" y="305.7" width="12.8" height="13.2" fill="#ffcc00"/><rect x="409.9" y="305.7" width="12.8" height="13.2" fill="#ffcc00"/><rect x="422.1" y="305.7" width="12.8" height="13.2" fill="#ffa000"/><rect x="434.3" y="305.7" width="12.8" height="13.2" fill="#ffa000"/><rect x="446.6" y="305.7" width="12.8" height="13.2" fill="#ffcc00"/><rect x="458.8" y="305.7" width="12.8" height="13.2" fill="#fffa00"/><rect x="471.0" y="305.7" width="12.8" height="13.2" fill="#84ff94"/><rect x="483.3" y="305.7" width="12.8" height="13.2" fill="#80fcfc"/><rect x="495.5" y="305.7" width="12.8" height="13.2" fill="#80fcfc"/><rect x="507.7" y="305.7" width="12.8" height="13.2" fill="#80fcfc"/><rect x="520.0" y="305.7" width="12.8" height="13.2" fill="#80fcfc"/><rect x="532.2" y="305.7" width="12.8" height="13.2" fill="#80fcfc"/><rect x="544.4" y="305.7" width="12.8" height="13.2" fill="#80fcfc"/><rect x="360.9" y="318.2" width="12.8" height="13.2" fill="#ffcc00"/><rect x="373.2" y="318.2" width="12.8" height="13.2" fill="#ffcc00"/><rect x="385.4" y="318.2" width="12.8" height="13.2" fill="#ffcc00"/><rect x="397.6" y="318.2" width="12.8" height="13.2" fill="#ffcc00"/><rect x="409.9" y="318.2" width="12.8" height="13.2" fill="#ffcc00"/><rect x="422.1" y="318.2" width="12.8" height="13.2" fill="#ffa000"/><rect x="434.3" y="318.2" width="12.8" height="13.2" fill="#ffa000"/><rect x="446.6" y="318.2" width="12.8" height="13.2" fill="#ffcc00"/><rect x="458.8" y="318.2" width="12.8" height="13.2" fill="#fffa00"/><rect x="471.0" y="318.2" width="12.8" height="13.2" fill="#84ff94"/><rect x="483.3" y="318.2" width="12.8" height="13.2" fill="#80fcfc"/><rect x="495.5" y="318.2" width="12.8" height="13.2" fill="#80fcfc"/><rect x="507.7" y="318.2" width="12.8" height="13.2" fill="#80fcfc"/><rect x="520.0" y="318.2" width="12.8" height="13.2" fill="#80fcfc"/><rect x="532.2" y="318.2" width="12.8" height="13.2" fill="#80fcfc"/><rect x="544.4" y="318.2" width="12.8" height="13.2" fill="#80fcfc"/><rect x="360.9" y="330.8" width="12.8" height="13.2" fill="#ffcc00"/><rect x="373.2" y="330.8" width="12.8" height="13.2" fill="#ffcc00"/><rect x="385.4" y="330.8" width="12.8" height="13.2" fill="#ffcc00"/><rect x="397.6" y="330.8" width="12.8" height="13.2" fill="#ffcc00"/><rect x="409.9" y="330.8" width="12.8" height="13.2" fill="#ffcc00"/><rect x="422.1" y="330.8" width="12.8" height="13.2" fill="#ffa000"/><rect x="434.3" y="330.8" width="12.8" height="13.2" fill="#ffa000"/><rect x="446.6" y="330.8" width="12.8" height="13.2" fill="#ffcc00"/><rect x="458.8" y="330.8" width="12.8" height="13.2" fill="#fffa00"/><rect x="471.0" y="330.8" width="12.8" height="13.2" fill="#84ff94"/><rect x="483.3" y="330.8" width="12.8" height="13.2" fill="#80fcfc"/><rect x="495.5" y="330.8" width="12.8" height="13.2" fill="#80fcfc"/><rect x="507.7" y="330.8" width="12.8" height="13.2" fill="#80fcfc"/><rect x="520.0" y="330.8" width="12.8" height="13.2" fill="#80fcfc"/><rect x="532.2" y="330.8" width="12.8" height="13.2" fill="#80fcfc"/><rect x="544.4" y="330.8" width="12.8" height="13.2" fill="#80fcfc"/></g><g transform="translate(0,0)">
<ellipse cx="425" cy="234" rx="16" ry="14" fill="url(#rg1)"/>
<g filter="url(#sb15)">
<path d="M386 226 L395 226 L398 244 L386 246 Z" fill="#d00000"/>
<path d="M391 246 L398 246 L401 268 L394 270 Z" fill="#dc0000"/>
<path d="M404 247 L410 246 L413 266 L407 267 Z" fill="#e00000"/>
</g>
<circle cx="403" cy="235" r="2.5" fill="#fff000" filter="url(#sb1)"/>
<path d="M498 211 L486 268" stroke="#e80000" stroke-width="2.6" fill="none" filter="url(#sb15)"/>
</g>
</g>
<g clip-path="url(#c03)">
<g filter="url(#fp03)"><rect x="512.3" y="67.2" width="12.9" height="13.2" fill="#c4ff40"/><rect x="524.5" y="67.2" width="12.9" height="13.2" fill="#c4ff40"/><rect x="536.8" y="67.2" width="12.9" height="13.2" fill="#c4ff40"/><rect x="549.1" y="67.2" width="12.9" height="13.2" fill="#ffa000"/><rect x="561.4" y="67.2" width="12.9" height="13.2" fill="#ffa000"/><rect x="573.6" y="67.2" width="12.9" height="13.2" fill="#ffcc00"/><rect x="585.9" y="67.2" width="12.9" height="13.2" fill="#fffa00"/><rect x="598.2" y="67.2" width="12.9" height="13.2" fill="#ffcc00"/><rect x="610.5" y="67.2" width="12.9" height="13.2" fill="#fffa00"/><rect x="622.7" y="67.2" width="12.9" height="13.2" fill="#84ff94"/><rect x="635.0" y="67.2" width="12.9" height="13.2" fill="#80fcfc"/><rect x="647.3" y="67.2" width="12.9" height="13.2" fill="#c0c8ff"/><rect x="659.6" y="67.2" width="12.9" height="13.2" fill="#c0c8ff"/><rect x="671.8" y="67.2" width="12.9" height="13.2" fill="#84ff94"/><rect x="684.1" y="67.2" width="12.9" height="13.2" fill="#84ff94"/><rect x="696.4" y="67.2" width="12.9" height="13.2" fill="#84ff94"/><rect x="512.3" y="79.8" width="12.9" height="13.2" fill="#c4ff40"/><rect x="524.5" y="79.8" width="12.9" height="13.2" fill="#c4ff40"/><rect x="536.8" y="79.8" width="12.9" height="13.2" fill="#c4ff40"/><rect x="549.1" y="79.8" width="12.9" height="13.2" fill="#ffa000"/><rect x="561.4" y="79.8" width="12.9" height="13.2" fill="#ffa000"/><rect x="573.6" y="79.8" width="12.9" height="13.2" fill="#ffcc00"/><rect x="585.9" y="79.8" width="12.9" height="13.2" fill="#fffa00"/><rect x="598.2" y="79.8" width="12.9" height="13.2" fill="#ffcc00"/><rect x="610.5" y="79.8" width="12.9" height="13.2" fill="#fffa00"/><rect x="622.7" y="79.8" width="12.9" height="13.2" fill="#84ff94"/><rect x="635.0" y="79.8" width="12.9" height="13.2" fill="#80fcfc"/><rect x="647.3" y="79.8" width="12.9" height="13.2" fill="#c0c8ff"/><rect x="659.6" y="79.8" width="12.9" height="13.2" fill="#c0c8ff"/><rect x="671.8" y="79.8" width="12.9" height="13.2" fill="#84ff94"/><rect x="684.1" y="79.8" width="12.9" height="13.2" fill="#84ff94"/><rect x="696.4" y="79.8" width="12.9" height="13.2" fill="#84ff94"/><rect x="512.3" y="92.3" width="12.9" height="13.2" fill="#c4ff40"/><rect x="524.5" y="92.3" width="12.9" height="13.2" fill="#c4ff40"/><rect x="536.8" y="92.3" width="12.9" height="13.2" fill="#c4ff40"/><rect x="549.1" y="92.3" width="12.9" height="13.2" fill="#ffa000"/><rect x="561.4" y="92.3" width="12.9" height="13.2" fill="#ffa000"/><rect x="573.6" y="92.3" width="12.9" height="13.2" fill="#ffcc00"/><rect x="585.9" y="92.3" width="12.9" height="13.2" fill="#fffa00"/><rect x="598.2" y="92.3" width="12.9" height="13.2" fill="#ffcc00"/><rect x="610.5" y="92.3" width="12.9" height="13.2" fill="#fffa00"/><rect x="622.7" y="92.3" width="12.9" height="13.2" fill="#84ff94"/><rect x="635.0" y="92.3" width="12.9" height="13.2" fill="#80fcfc"/><rect x="647.3" y="92.3" width="12.9" height="13.2" fill="#c0c8ff"/><rect x="659.6" y="92.3" width="12.9" height="13.2" fill="#c0c8ff"/><rect x="671.8" y="92.3" width="12.9" height="13.2" fill="#84ff94"/><rect x="684.1" y="92.3" width="12.9" height="13.2" fill="#84ff94"/><rect x="696.4" y="92.3" width="12.9" height="13.2" fill="#84ff94"/><rect x="512.3" y="104.8" width="12.9" height="13.2" fill="#ffa000"/><rect x="524.5" y="104.8" width="12.9" height="13.2" fill="#ffa000"/><rect x="536.8" y="104.8" width="12.9" height="13.2" fill="#ffa000"/><rect x="549.1" y="104.8" width="12.9" height="13.2" fill="#ffa000"/><rect x="561.4" y="104.8" width="12.9" height="13.2" fill="#ffcc00"/><rect x="573.6" y="104.8" width="12.9" height="13.2" fill="#ffa000"/><rect x="585.9" y="104.8" width="12.9" height="13.2" fill="#ffa000"/><rect x="598.2" y="104.8" width="12.9" height="13.2" fill="#ffcc00"/><rect x="610.5" y="104.8" width="12.9" height="13.2" fill="#fffa00"/><rect x="622.7" y="104.8" width="12.9" height="13.2" fill="#80fcfc"/><rect x="635.0" y="104.8" width="12.9" height="13.2" fill="#80fcfc"/><rect x="647.3" y="104.8" width="12.9" height="13.2" fill="#c0c8ff"/><rect x="659.6" y="104.8" width="12.9" height="13.2" fill="#80fcfc"/><rect x="671.8" y="104.8" width="12.9" height="13.2" fill="#84ff94"/><rect x="684.1" y="104.8" width="12.9" height="13.2" fill="#84ff94"/><rect x="696.4" y="104.8" width="12.9" height="13.2" fill="#84ff94"/><rect x="512.3" y="117.4" width="12.9" height="13.2" fill="#ffa000"/><rect x="524.5" y="117.4" width="12.9" height="13.2" fill="#ffa000"/><rect x="536.8" y="117.4" width="12.9" height="13.2" fill="#ffa000"/><rect x="549.1" y="117.4" width="12.9" height="13.2" fill="#ff6400"/><rect x="561.4" y="117.4" width="12.9" height="13.2" fill="#ff6400"/><rect x="573.6" y="117.4" width="12.9" height="13.2" fill="#ffcc00"/><rect x="585.9" y="117.4" width="12.9" height="13.2" fill="#ffa000"/><rect x="598.2" y="117.4" width="12.9" height="13.2" fill="#ffa000"/><rect x="610.5" y="117.4" width="12.9" height="13.2" fill="#ffcc00"/><rect x="622.7" y="117.4" width="12.9" height="13.2" fill="#fffa00"/><rect x="635.0" y="117.4" width="12.9" height="13.2" fill="#ffcc00"/><rect x="647.3" y="117.4" width="12.9" height="13.2" fill="#80fcfc"/><rect x="659.6" y="117.4" width="12.9" height="13.2" fill="#84ff94"/><rect x="671.8" y="117.4" width="12.9" height="13.2" fill="#c0c8ff"/><rect x="684.1" y="117.4" width="12.9" height="13.2" fill="#c0c8ff"/><rect x="696.4" y="117.4" width="12.9" height="13.2" fill="#c0c8ff"/><rect x="512.3" y="129.9" width="12.9" height="13.2" fill="#ffcc00"/><rect x="524.5" y="129.9" width="12.9" height="13.2" fill="#ffcc00"/><rect x="536.8" y="129.9" width="12.9" height="13.2" fill="#ffcc00"/><rect x="549.1" y="129.9" width="12.9" height="13.2" fill="#ff6400"/><rect x="561.4" y="129.9" width="12.9" height="13.2" fill="#ff6400"/><rect x="573.6" y="129.9" width="12.9" height="13.2" fill="#ff6400"/><rect x="585.9" y="129.9" width="12.9" height="13.2" fill="#ff6400"/><rect x="598.2" y="129.9" width="12.9" height="13.2" fill="#ffcc00"/><rect x="610.5" y="129.9" width="12.9" height="13.2" fill="#ffa000"/><rect x="622.7" y="129.9" width="12.9" height="13.2" fill="#fffa00"/><rect x="635.0" y="129.9" width="12.9" height="13.2" fill="#fffa00"/><rect x="647.3" y="129.9" width="12.9" height="13.2" fill="#84ff94"/><rect x="659.6" y="129.9" width="12.9" height="13.2" fill="#c4ff40"/><rect x="671.8" y="129.9" width="12.9" height="13.2" fill="#c0c8ff"/><rect x="684.1" y="129.9" width="12.9" height="13.2" fill="#c0c8ff"/><rect x="696.4" y="129.9" width="12.9" height="13.2" fill="#c0c8ff"/><rect x="512.3" y="142.5" width="12.9" height="13.2" fill="#ff6400"/><rect x="524.5" y="142.5" width="12.9" height="13.2" fill="#ff6400"/><rect x="536.8" y="142.5" width="12.9" height="13.2" fill="#ff6400"/><rect x="549.1" y="142.5" width="12.9" height="13.2" fill="#f82000"/><rect x="561.4" y="142.5" width="12.9" height="13.2" fill="#f82000"/><rect x="573.6" y="142.5" width="12.9" height="13.2" fill="#ff6400"/><rect x="585.9" y="142.5" width="12.9" height="13.2" fill="#ff6400"/><rect x="598.2" y="142.5" width="12.9" height="13.2" fill="#ff6400"/><rect x="610.5" y="142.5" width="12.9" height="13.2" fill="#ffcc00"/><rect x="622.7" y="142.5" width="12.9" height="13.2" fill="#fffa00"/><rect x="635.0" y="142.5" width="12.9" height="13.2" fill="#ffcc00"/><rect x="647.3" y="142.5" width="12.9" height="13.2" fill="#fffa00"/><rect x="659.6" y="142.5" width="12.9" height="13.2" fill="#80fcfc"/><rect x="671.8" y="142.5" width="12.9" height="13.2" fill="#c0c8ff"/><rect x="684.1" y="142.5" width="12.9" height="13.2" fill="#c0c8ff"/><rect x="696.4" y="142.5" width="12.9" height="13.2" fill="#c0c8ff"/><rect x="512.3" y="155.0" width="12.9" height="13.2" fill="#f82000"/><rect x="524.5" y="155.0" width="12.9" height="13.2" fill="#f82000"/><rect x="536.8" y="155.0" width="12.9" height="13.2" fill="#f82000"/><rect x="549.1" y="155.0" width="12.9" height="13.2" fill="#f82000"/><rect x="561.4" y="155.0" width="12.9" height="13.2" fill="#e60000"/><rect x="573.6" y="155.0" width="12.9" height="13.2" fill="#f82000"/><rect x="585.9" y="155.0" width="12.9" height="13.2" fill="#ff6400"/><rect x="598.2" y="155.0" width="12.9" height="13.2" fill="#ff6400"/><rect x="610.5" y="155.0" width="12.9" height="13.2" fill="#ffcc00"/><rect x="622.7" y="155.0" width="12.9" height="13.2" fill="#ffcc00"/><rect x="635.0" y="155.0" width="12.9" height="13.2" fill="#fffa00"/><rect x="647.3" y="155.0" width="12.9" height="13.2" fill="#ffcc00"/><rect x="659.6" y="155.0" width="12.9" height="13.2" fill="#fffa00"/><rect x="671.8" y="155.0" width="12.9" height="13.2" fill="#84ff94"/><rect x="684.1" y="155.0" width="12.9" height="13.2" fill="#84ff94"/><rect x="696.4" y="155.0" width="12.9" height="13.2" fill="#84ff94"/><rect x="512.3" y="167.6" width="12.9" height="13.2" fill="#e60000"/><rect x="524.5" y="167.6" width="12.9" height="13.2" fill="#e60000"/><rect x="536.8" y="167.6" width="12.9" height="13.2" fill="#e60000"/><rect x="549.1" y="167.6" width="12.9" height="13.2" fill="#e60000"/><rect x="561.4" y="167.6" width="12.9" height="13.2" fill="#e60000"/><rect x="573.6" y="167.6" width="12.9" height="13.2" fill="#f82000"/><rect x="585.9" y="167.6" width="12.9" height="13.2" fill="#f82000"/><rect x="598.2" y="167.6" width="12.9" height="13.2" fill="#ff6400"/><rect x="610.5" y="167.6" width="12.9" height="13.2" fill="#ffa000"/><rect x="622.7" y="167.6" width="12.9" height="13.2" fill="#ffa000"/><rect x="635.0" y="167.6" width="12.9" height="13.2" fill="#ffcc00"/><rect x="647.3" y="167.6" width="12.9" height="13.2" fill="#fffa00"/><rect x="659.6" y="167.6" width="12.9" height="13.2" fill="#80fcfc"/><rect x="671.8" y="167.6" width="12.9" height="13.2" fill="#80fcfc"/><rect x="684.1" y="167.6" width="12.9" height="13.2" fill="#80fcfc"/><rect x="696.4" y="167.6" width="12.9" height="13.2" fill="#80fcfc"/><rect x="512.3" y="180.1" width="12.9" height="13.2" fill="#e60000"/><rect x="524.5" y="180.1" width="12.9" height="13.2" fill="#e60000"/><rect x="536.8" y="180.1" width="12.9" height="13.2" fill="#e60000"/><rect x="549.1" y="180.1" width="12.9" height="13.2" fill="#e60000"/><rect x="561.4" y="180.1" width="12.9" height="13.2" fill="#e60000"/><rect x="573.6" y="180.1" width="12.9" height="13.2" fill="#e60000"/><rect x="585.9" y="180.1" width="12.9" height="13.2" fill="#f82000"/><rect x="598.2" y="180.1" width="12.9" height="13.2" fill="#ff6400"/><rect x="610.5" y="180.1" width="12.9" height="13.2" fill="#ffa000"/><rect x="622.7" y="180.1" width="12.9" height="13.2" fill="#ffa000"/><rect x="635.0" y="180.1" width="12.9" height="13.2" fill="#ffa000"/><rect x="647.3" y="180.1" width="12.9" height="13.2" fill="#ffcc00"/><rect x="659.6" y="180.1" width="12.9" height="13.2" fill="#fffa00"/><rect x="671.8" y="180.1" width="12.9" height="13.2" fill="#ffcc00"/><rect x="684.1" y="180.1" width="12.9" height="13.2" fill="#ffcc00"/><rect x="696.4" y="180.1" width="12.9" height="13.2" fill="#ffcc00"/><rect x="512.3" y="192.7" width="12.9" height="13.2" fill="#e60000"/><rect x="524.5" y="192.7" width="12.9" height="13.2" fill="#e60000"/><rect x="536.8" y="192.7" width="12.9" height="13.2" fill="#e60000"/><rect x="549.1" y="192.7" width="12.9" height="13.2" fill="#e60000"/><rect x="561.4" y="192.7" width="12.9" height="13.2" fill="#e60000"/><rect x="573.6" y="192.7" width="12.9" height="13.2" fill="#e60000"/><rect x="585.9" y="192.7" width="12.9" height="13.2" fill="#ff6400"/><rect x="598.2" y="192.7" width="12.9" height="13.2" fill="#ffa000"/><rect x="610.5" y="192.7" width="12.9" height="13.2" fill="#f82000"/><rect x="622.7" y="192.7" width="12.9" height="13.2" fill="#ff6400"/><rect x="635.0" y="192.7" width="12.9" height="13.2" fill="#ffa000"/><rect x="647.3" y="192.7" width="12.9" height="13.2" fill="#ffcc00"/><rect x="659.6" y="192.7" width="12.9" height="13.2" fill="#ffa000"/><rect x="671.8" y="192.7" width="12.9" height="13.2" fill="#ffcc00"/><rect x="684.1" y="192.7" width="12.9" height="13.2" fill="#ffcc00"/><rect x="696.4" y="192.7" width="12.9" height="13.2" fill="#ffcc00"/><rect x="512.3" y="205.2" width="12.9" height="13.2" fill="#e60000"/><rect x="524.5" y="205.2" width="12.9" height="13.2" fill="#e60000"/><rect x="536.8" y="205.2" width="12.9" height="13.2" fill="#e60000"/><rect x="549.1" y="205.2" width="12.9" height="13.2" fill="#e60000"/><rect x="561.4" y="205.2" width="12.9" height="13.2" fill="#e60000"/><rect x="573.6" y="205.2" width="12.9" height="13.2" fill="#e60000"/><rect x="585.9" y="205.2" width="12.9" height="13.2" fill="#f82000"/><rect x="598.2" y="205.2" width="12.9" height="13.2" fill="#ffcc00"/><rect x="610.5" y="205.2" width="12.9" height="13.2" fill="#f82000"/><rect x="622.7" y="205.2" width="12.9" height="13.2" fill="#e60000"/><rect x="635.0" y="205.2" width="12.9" height="13.2" fill="#ffa000"/><rect x="647.3" y="205.2" width="12.9" height="13.2" fill="#ffcc00"/><rect x="659.6" y="205.2" width="12.9" height="13.2" fill="#80fcfc"/><rect x="671.8" y="205.2" width="12.9" height="13.2" fill="#ffcc00"/><rect x="684.1" y="205.2" width="12.9" height="13.2" fill="#ffcc00"/><rect x="696.4" y="205.2" width="12.9" height="13.2" fill="#ffcc00"/><rect x="512.3" y="217.8" width="12.9" height="13.2" fill="#e60000"/><rect x="524.5" y="217.8" width="12.9" height="13.2" fill="#e60000"/><rect x="536.8" y="217.8" width="12.9" height="13.2" fill="#e60000"/><rect x="549.1" y="217.8" width="12.9" height="13.2" fill="#b00000"/><rect x="561.4" y="217.8" width="12.9" height="13.2" fill="#e60000"/><rect x="573.6" y="217.8" width="12.9" height="13.2" fill="#e60000"/><rect x="585.9" y="217.8" width="12.9" height="13.2" fill="#e60000"/><rect x="598.2" y="217.8" width="12.9" height="13.2" fill="#e60000"/><rect x="610.5" y="217.8" width="12.9" height="13.2" fill="#e60000"/><rect x="622.7" y="217.8" width="12.9" height="13.2" fill="#e60000"/><rect x="635.0" y="217.8" width="12.9" height="13.2" fill="#ffa000"/><rect x="647.3" y="217.8" width="12.9" height="13.2" fill="#ffcc00"/><rect x="659.6" y="217.8" width="12.9" height="13.2" fill="#80fcfc"/><rect x="671.8" y="217.8" width="12.9" height="13.2" fill="#80fcfc"/><rect x="684.1" y="217.8" width="12.9" height="13.2" fill="#80fcfc"/><rect x="696.4" y="217.8" width="12.9" height="13.2" fill="#80fcfc"/><rect x="512.3" y="230.3" width="12.9" height="13.2" fill="#e60000"/><rect x="524.5" y="230.3" width="12.9" height="13.2" fill="#e60000"/><rect x="536.8" y="230.3" width="12.9" height="13.2" fill="#e60000"/><rect x="549.1" y="230.3" width="12.9" height="13.2" fill="#b00000"/><rect x="561.4" y="230.3" width="12.9" height="13.2" fill="#b00000"/><rect x="573.6" y="230.3" width="12.9" height="13.2" fill="#e60000"/><rect x="585.9" y="230.3" width="12.9" height="13.2" fill="#e60000"/><rect x="598.2" y="230.3" width="12.9" height="13.2" fill="#e60000"/><rect x="610.5" y="230.3" width="12.9" height="13.2" fill="#e60000"/><rect x="622.7" y="230.3" width="12.9" height="13.2" fill="#e60000"/><rect x="635.0" y="230.3" width="12.9" height="13.2" fill="#ffa000"/><rect x="647.3" y="230.3" width="12.9" height="13.2" fill="#fffa00"/><rect x="659.6" y="230.3" width="12.9" height="13.2" fill="#80fcfc"/><rect x="671.8" y="230.3" width="12.9" height="13.2" fill="#c0c8ff"/><rect x="684.1" y="230.3" width="12.9" height="13.2" fill="#c0c8ff"/><rect x="696.4" y="230.3" width="12.9" height="13.2" fill="#c0c8ff"/><rect x="512.3" y="242.9" width="12.9" height="13.2" fill="#e60000"/><rect x="524.5" y="242.9" width="12.9" height="13.2" fill="#e60000"/><rect x="536.8" y="242.9" width="12.9" height="13.2" fill="#e60000"/><rect x="549.1" y="242.9" width="12.9" height="13.2" fill="#b00000"/><rect x="561.4" y="242.9" width="12.9" height="13.2" fill="#e60000"/><rect x="573.6" y="242.9" width="12.9" height="13.2" fill="#e60000"/><rect x="585.9" y="242.9" width="12.9" height="13.2" fill="#e60000"/><rect x="598.2" y="242.9" width="12.9" height="13.2" fill="#e60000"/><rect x="610.5" y="242.9" width="12.9" height="13.2" fill="#e60000"/><rect x="622.7" y="242.9" width="12.9" height="13.2" fill="#ff6400"/><rect x="635.0" y="242.9" width="12.9" height="13.2" fill="#ffa000"/><rect x="647.3" y="242.9" width="12.9" height="13.2" fill="#80fcfc"/><rect x="659.6" y="242.9" width="12.9" height="13.2" fill="#80fcfc"/><rect x="671.8" y="242.9" width="12.9" height="13.2" fill="#c0c8ff"/><rect x="684.1" y="242.9" width="12.9" height="13.2" fill="#c0c8ff"/><rect x="696.4" y="242.9" width="12.9" height="13.2" fill="#c0c8ff"/><rect x="512.3" y="255.4" width="12.9" height="13.2" fill="#e60000"/><rect x="524.5" y="255.4" width="12.9" height="13.2" fill="#e60000"/><rect x="536.8" y="255.4" width="12.9" height="13.2" fill="#e60000"/><rect x="549.1" y="255.4" width="12.9" height="13.2" fill="#e60000"/><rect x="561.4" y="255.4" width="12.9" height="13.2" fill="#f82000"/><rect x="573.6" y="255.4" width="12.9" height="13.2" fill="#e60000"/><rect x="585.9" y="255.4" width="12.9" height="13.2" fill="#e60000"/><rect x="598.2" y="255.4" width="12.9" height="13.2" fill="#e60000"/><rect x="610.5" y="255.4" width="12.9" height="13.2" fill="#f82000"/><rect x="622.7" y="255.4" width="12.9" height="13.2" fill="#ffa000"/><rect x="635.0" y="255.4" width="12.9" height="13.2" fill="#ffa000"/><rect x="647.3" y="255.4" width="12.9" height="13.2" fill="#80fcfc"/><rect x="659.6" y="255.4" width="12.9" height="13.2" fill="#ffcc00"/><rect x="671.8" y="255.4" width="12.9" height="13.2" fill="#ffcc00"/><rect x="684.1" y="255.4" width="12.9" height="13.2" fill="#ffcc00"/><rect x="696.4" y="255.4" width="12.9" height="13.2" fill="#ffcc00"/><rect x="512.3" y="268.0" width="12.9" height="13.2" fill="#e60000"/><rect x="524.5" y="268.0" width="12.9" height="13.2" fill="#e60000"/><rect x="536.8" y="268.0" width="12.9" height="13.2" fill="#e60000"/><rect x="549.1" y="268.0" width="12.9" height="13.2" fill="#e60000"/><rect x="561.4" y="268.0" width="12.9" height="13.2" fill="#ffa000"/><rect x="573.6" y="268.0" width="12.9" height="13.2" fill="#ffa000"/><rect x="585.9" y="268.0" width="12.9" height="13.2" fill="#ffa000"/><rect x="598.2" y="268.0" width="12.9" height="13.2" fill="#f82000"/><rect x="610.5" y="268.0" width="12.9" height="13.2" fill="#ff6400"/><rect x="622.7" y="268.0" width="12.9" height="13.2" fill="#ffa000"/><rect x="635.0" y="268.0" width="12.9" height="13.2" fill="#ffa000"/><rect x="647.3" y="268.0" width="12.9" height="13.2" fill="#ffcc00"/><rect x="659.6" y="268.0" width="12.9" height="13.2" fill="#ffcc00"/><rect x="671.8" y="268.0" width="12.9" height="13.2" fill="#ffcc00"/><rect x="684.1" y="268.0" width="12.9" height="13.2" fill="#ffcc00"/><rect x="696.4" y="268.0" width="12.9" height="13.2" fill="#ffcc00"/><rect x="512.3" y="280.6" width="12.9" height="13.2" fill="#e60000"/><rect x="524.5" y="280.6" width="12.9" height="13.2" fill="#e60000"/><rect x="536.8" y="280.6" width="12.9" height="13.2" fill="#e60000"/><rect x="549.1" y="280.6" width="12.9" height="13.2" fill="#e60000"/><rect x="561.4" y="280.6" width="12.9" height="13.2" fill="#ff6400"/><rect x="573.6" y="280.6" width="12.9" height="13.2" fill="#ffcc00"/><rect x="585.9" y="280.6" width="12.9" height="13.2" fill="#80fcfc"/><rect x="598.2" y="280.6" width="12.9" height="13.2" fill="#ffa000"/><rect x="610.5" y="280.6" width="12.9" height="13.2" fill="#fffa00"/><rect x="622.7" y="280.6" width="12.9" height="13.2" fill="#ffa000"/><rect x="635.0" y="280.6" width="12.9" height="13.2" fill="#ffa000"/><rect x="647.3" y="280.6" width="12.9" height="13.2" fill="#ffcc00"/><rect x="659.6" y="280.6" width="12.9" height="13.2" fill="#ffcc00"/><rect x="671.8" y="280.6" width="12.9" height="13.2" fill="#ffcc00"/><rect x="684.1" y="280.6" width="12.9" height="13.2" fill="#ffcc00"/><rect x="696.4" y="280.6" width="12.9" height="13.2" fill="#ffcc00"/><rect x="512.3" y="293.1" width="12.9" height="13.2" fill="#e60000"/><rect x="524.5" y="293.1" width="12.9" height="13.2" fill="#e60000"/><rect x="536.8" y="293.1" width="12.9" height="13.2" fill="#e60000"/><rect x="549.1" y="293.1" width="12.9" height="13.2" fill="#e60000"/><rect x="561.4" y="293.1" width="12.9" height="13.2" fill="#f82000"/><rect x="573.6" y="293.1" width="12.9" height="13.2" fill="#ffa000"/><rect x="585.9" y="293.1" width="12.9" height="13.2" fill="#80fcfc"/><rect x="598.2" y="293.1" width="12.9" height="13.2" fill="#80fcfc"/><rect x="610.5" y="293.1" width="12.9" height="13.2" fill="#ffcc00"/><rect x="622.7" y="293.1" width="12.9" height="13.2" fill="#ffcc00"/><rect x="635.0" y="293.1" width="12.9" height="13.2" fill="#ffa000"/><rect x="647.3" y="293.1" width="12.9" height="13.2" fill="#ffcc00"/><rect x="659.6" y="293.1" width="12.9" height="13.2" fill="#ffcc00"/><rect x="671.8" y="293.1" width="12.9" height="13.2" fill="#ffcc00"/><rect x="684.1" y="293.1" width="12.9" height="13.2" fill="#ffcc00"/><rect x="696.4" y="293.1" width="12.9" height="13.2" fill="#ffcc00"/><rect x="512.3" y="305.7" width="12.9" height="13.2" fill="#e60000"/><rect x="524.5" y="305.7" width="12.9" height="13.2" fill="#e60000"/><rect x="536.8" y="305.7" width="12.9" height="13.2" fill="#e60000"/><rect x="549.1" y="305.7" width="12.9" height="13.2" fill="#f82000"/><rect x="561.4" y="305.7" width="12.9" height="13.2" fill="#ff6400"/><rect x="573.6" y="305.7" width="12.9" height="13.2" fill="#ffcc00"/><rect x="585.9" y="305.7" width="12.9" height="13.2" fill="#80fcfc"/><rect x="598.2" y="305.7" width="12.9" height="13.2" fill="#ffa000"/><rect x="610.5" y="305.7" width="12.9" height="13.2" fill="#fffa00"/><rect x="622.7" y="305.7" width="12.9" height="13.2" fill="#ffcc00"/><rect x="635.0" y="305.7" width="12.9" height="13.2" fill="#ffa000"/><rect x="647.3" y="305.7" width="12.9" height="13.2" fill="#ffcc00"/><rect x="659.6" y="305.7" width="12.9" height="13.2" fill="#ffcc00"/><rect x="671.8" y="305.7" width="12.9" height="13.2" fill="#ffcc00"/><rect x="684.1" y="305.7" width="12.9" height="13.2" fill="#ffcc00"/><rect x="696.4" y="305.7" width="12.9" height="13.2" fill="#ffcc00"/><rect x="512.3" y="318.2" width="12.9" height="13.2" fill="#e60000"/><rect x="524.5" y="318.2" width="12.9" height="13.2" fill="#e60000"/><rect x="536.8" y="318.2" width="12.9" height="13.2" fill="#e60000"/><rect x="549.1" y="318.2" width="12.9" height="13.2" fill="#f82000"/><rect x="561.4" y="318.2" width="12.9" height="13.2" fill="#ff6400"/><rect x="573.6" y="318.2" width="12.9" height="13.2" fill="#ffcc00"/><rect x="585.9" y="318.2" width="12.9" height="13.2" fill="#80fcfc"/><rect x="598.2" y="318.2" width="12.9" height="13.2" fill="#ffa000"/><rect x="610.5" y="318.2" width="12.9" height="13.2" fill="#fffa00"/><rect x="622.7" y="318.2" width="12.9" height="13.2" fill="#ffcc00"/><rect x="635.0" y="318.2" width="12.9" height="13.2" fill="#ffa000"/><rect x="647.3" y="318.2" width="12.9" height="13.2" fill="#ffcc00"/><rect x="659.6" y="318.2" width="12.9" height="13.2" fill="#ffcc00"/><rect x="671.8" y="318.2" width="12.9" height="13.2" fill="#ffcc00"/><rect x="684.1" y="318.2" width="12.9" height="13.2" fill="#ffcc00"/><rect x="696.4" y="318.2" width="12.9" height="13.2" fill="#ffcc00"/><rect x="512.3" y="330.8" width="12.9" height="13.2" fill="#e60000"/><rect x="524.5" y="330.8" width="12.9" height="13.2" fill="#e60000"/><rect x="536.8" y="330.8" width="12.9" height="13.2" fill="#e60000"/><rect x="549.1" y="330.8" width="12.9" height="13.2" fill="#f82000"/><rect x="561.4" y="330.8" width="12.9" height="13.2" fill="#ff6400"/><rect x="573.6" y="330.8" width="12.9" height="13.2" fill="#ffcc00"/><rect x="585.9" y="330.8" width="12.9" height="13.2" fill="#80fcfc"/><rect x="598.2" y="330.8" width="12.9" height="13.2" fill="#ffa000"/><rect x="610.5" y="330.8" width="12.9" height="13.2" fill="#fffa00"/><rect x="622.7" y="330.8" width="12.9" height="13.2" fill="#ffcc00"/><rect x="635.0" y="330.8" width="12.9" height="13.2" fill="#ffa000"/><rect x="647.3" y="330.8" width="12.9" height="13.2" fill="#ffcc00"/><rect x="659.6" y="330.8" width="12.9" height="13.2" fill="#ffcc00"/><rect x="671.8" y="330.8" width="12.9" height="13.2" fill="#ffcc00"/><rect x="684.1" y="330.8" width="12.9" height="13.2" fill="#ffcc00"/><rect x="696.4" y="330.8" width="12.9" height="13.2" fill="#ffcc00"/></g><polygon points="538.0,140.0 560.0,142.0 585.0,148.0 597.8,161.5 591.5,186.7 585.2,196.1 588.4,205.6 597.8,221.3 605.7,224.5 613.6,221.3 623.0,221.3 627.7,230.8 629.3,243.3 623.0,252.8 613.6,256.0 610.4,265.4 604.1,274.8 591.5,278.0 578.9,271.7 569.5,268.5 563.2,274.8 566.3,293.7 567.9,319.0 538.0,319.0" fill="url(#lgp4)" filter="url(#sb2)" opacity="0.85"/>
<ellipse cx="556" cy="242" rx="24" ry="34" fill="#b00000" filter="url(#sb6)" opacity="0.6"/>
</g>
<g clip-path="url(#c10)">
<g filter="url(#fp10)"><rect x="48.6" y="299.9" width="12.9" height="13.1" fill="#ffcc00"/><rect x="60.8" y="299.9" width="12.9" height="13.1" fill="#ffcc00"/><rect x="73.1" y="299.9" width="12.9" height="13.1" fill="#ffcc00"/><rect x="85.4" y="299.9" width="12.9" height="13.1" fill="#fffa00"/><rect x="97.6" y="299.9" width="12.9" height="13.1" fill="#ffcc00"/><rect x="109.9" y="299.9" width="12.9" height="13.1" fill="#ffcc00"/><rect x="122.2" y="299.9" width="12.9" height="13.1" fill="#ffa000"/><rect x="134.4" y="299.9" width="12.9" height="13.1" fill="#ffa000"/><rect x="146.7" y="299.9" width="12.9" height="13.1" fill="#ffa000"/><rect x="159.0" y="299.9" width="12.9" height="13.1" fill="#ff6400"/><rect x="171.2" y="299.9" width="12.9" height="13.1" fill="#ffa000"/><rect x="183.5" y="299.9" width="12.9" height="13.1" fill="#ffcc00"/><rect x="195.8" y="299.9" width="12.9" height="13.1" fill="#84ff94"/><rect x="208.0" y="299.9" width="12.9" height="13.1" fill="#80fcfc"/><rect x="220.3" y="299.9" width="12.9" height="13.1" fill="#80fcfc"/><rect x="232.6" y="299.9" width="12.9" height="13.1" fill="#80fcfc"/><rect x="48.6" y="312.5" width="12.9" height="13.1" fill="#ffcc00"/><rect x="60.8" y="312.5" width="12.9" height="13.1" fill="#ffcc00"/><rect x="73.1" y="312.5" width="12.9" height="13.1" fill="#ffcc00"/><rect x="85.4" y="312.5" width="12.9" height="13.1" fill="#fffa00"/><rect x="97.6" y="312.5" width="12.9" height="13.1" fill="#ffcc00"/><rect x="109.9" y="312.5" width="12.9" height="13.1" fill="#ffcc00"/><rect x="122.2" y="312.5" width="12.9" height="13.1" fill="#ffa000"/><rect x="134.4" y="312.5" width="12.9" height="13.1" fill="#ffa000"/><rect x="146.7" y="312.5" width="12.9" height="13.1" fill="#ffa000"/><rect x="159.0" y="312.5" width="12.9" height="13.1" fill="#ff6400"/><rect x="171.2" y="312.5" width="12.9" height="13.1" fill="#ffa000"/><rect x="183.5" y="312.5" width="12.9" height="13.1" fill="#ffcc00"/><rect x="195.8" y="312.5" width="12.9" height="13.1" fill="#84ff94"/><rect x="208.0" y="312.5" width="12.9" height="13.1" fill="#80fcfc"/><rect x="220.3" y="312.5" width="12.9" height="13.1" fill="#80fcfc"/><rect x="232.6" y="312.5" width="12.9" height="13.1" fill="#80fcfc"/><rect x="48.6" y="325.0" width="12.9" height="13.1" fill="#ffcc00"/><rect x="60.8" y="325.0" width="12.9" height="13.1" fill="#ffcc00"/><rect x="73.1" y="325.0" width="12.9" height="13.1" fill="#ffcc00"/><rect x="85.4" y="325.0" width="12.9" height="13.1" fill="#fffa00"/><rect x="97.6" y="325.0" width="12.9" height="13.1" fill="#ffcc00"/><rect x="109.9" y="325.0" width="12.9" height="13.1" fill="#ffcc00"/><rect x="122.2" y="325.0" width="12.9" height="13.1" fill="#ffa000"/><rect x="134.4" y="325.0" width="12.9" height="13.1" fill="#ffa000"/><rect x="146.7" y="325.0" width="12.9" height="13.1" fill="#ffa000"/><rect x="159.0" y="325.0" width="12.9" height="13.1" fill="#ff6400"/><rect x="171.2" y="325.0" width="12.9" height="13.1" fill="#ffa000"/><rect x="183.5" y="325.0" width="12.9" height="13.1" fill="#ffcc00"/><rect x="195.8" y="325.0" width="12.9" height="13.1" fill="#84ff94"/><rect x="208.0" y="325.0" width="12.9" height="13.1" fill="#80fcfc"/><rect x="220.3" y="325.0" width="12.9" height="13.1" fill="#80fcfc"/><rect x="232.6" y="325.0" width="12.9" height="13.1" fill="#80fcfc"/><rect x="48.6" y="337.5" width="12.9" height="13.1" fill="#ffcc00"/><rect x="60.8" y="337.5" width="12.9" height="13.1" fill="#ffcc00"/><rect x="73.1" y="337.5" width="12.9" height="13.1" fill="#ffcc00"/><rect x="85.4" y="337.5" width="12.9" height="13.1" fill="#ffcc00"/><rect x="97.6" y="337.5" width="12.9" height="13.1" fill="#fffa00"/><rect x="109.9" y="337.5" width="12.9" height="13.1" fill="#ffcc00"/><rect x="122.2" y="337.5" width="12.9" height="13.1" fill="#ffa000"/><rect x="134.4" y="337.5" width="12.9" height="13.1" fill="#ff6400"/><rect x="146.7" y="337.5" width="12.9" height="13.1" fill="#ff6400"/><rect x="159.0" y="337.5" width="12.9" height="13.1" fill="#ff6400"/><rect x="171.2" y="337.5" width="12.9" height="13.1" fill="#ffa000"/><rect x="183.5" y="337.5" width="12.9" height="13.1" fill="#ffcc00"/><rect x="195.8" y="337.5" width="12.9" height="13.1" fill="#fffa00"/><rect x="208.0" y="337.5" width="12.9" height="13.1" fill="#84ff94"/><rect x="220.3" y="337.5" width="12.9" height="13.1" fill="#84ff94"/><rect x="232.6" y="337.5" width="12.9" height="13.1" fill="#84ff94"/><rect x="48.6" y="350.1" width="12.9" height="13.1" fill="#ffcc00"/><rect x="60.8" y="350.1" width="12.9" height="13.1" fill="#ffcc00"/><rect x="73.1" y="350.1" width="12.9" height="13.1" fill="#ffcc00"/><rect x="85.4" y="350.1" width="12.9" height="13.1" fill="#ffcc00"/><rect x="97.6" y="350.1" width="12.9" height="13.1" fill="#fffa00"/><rect x="109.9" y="350.1" width="12.9" height="13.1" fill="#ffcc00"/><rect x="122.2" y="350.1" width="12.9" height="13.1" fill="#ffcc00"/><rect x="134.4" y="350.1" width="12.9" height="13.1" fill="#ffa000"/><rect x="146.7" y="350.1" width="12.9" height="13.1" fill="#ff6400"/><rect x="159.0" y="350.1" width="12.9" height="13.1" fill="#ffa000"/><rect x="171.2" y="350.1" width="12.9" height="13.1" fill="#ffcc00"/><rect x="183.5" y="350.1" width="12.9" height="13.1" fill="#fffa00"/><rect x="195.8" y="350.1" width="12.9" height="13.1" fill="#fffa00"/><rect x="208.0" y="350.1" width="12.9" height="13.1" fill="#fffa00"/><rect x="220.3" y="350.1" width="12.9" height="13.1" fill="#fffa00"/><rect x="232.6" y="350.1" width="12.9" height="13.1" fill="#fffa00"/><rect x="48.6" y="362.6" width="12.9" height="13.1" fill="#fffa00"/><rect x="60.8" y="362.6" width="12.9" height="13.1" fill="#fffa00"/><rect x="73.1" y="362.6" width="12.9" height="13.1" fill="#fffa00"/><rect x="85.4" y="362.6" width="12.9" height="13.1" fill="#ffcc00"/><rect x="97.6" y="362.6" width="12.9" height="13.1" fill="#fffa00"/><rect x="109.9" y="362.6" width="12.9" height="13.1" fill="#fffa00"/><rect x="122.2" y="362.6" width="12.9" height="13.1" fill="#ffcc00"/><rect x="134.4" y="362.6" width="12.9" height="13.1" fill="#ffcc00"/><rect x="146.7" y="362.6" width="12.9" height="13.1" fill="#ffa000"/><rect x="159.0" y="362.6" width="12.9" height="13.1" fill="#ffcc00"/><rect x="171.2" y="362.6" width="12.9" height="13.1" fill="#fffa00"/><rect x="183.5" y="362.6" width="12.9" height="13.1" fill="#fffa00"/><rect x="195.8" y="362.6" width="12.9" height="13.1" fill="#ffcc00"/><rect x="208.0" y="362.6" width="12.9" height="13.1" fill="#fffa00"/><rect x="220.3" y="362.6" width="12.9" height="13.1" fill="#fffa00"/><rect x="232.6" y="362.6" width="12.9" height="13.1" fill="#fffa00"/><rect x="48.6" y="375.1" width="12.9" height="13.1" fill="#ffcc00"/><rect x="60.8" y="375.1" width="12.9" height="13.1" fill="#ffcc00"/><rect x="73.1" y="375.1" width="12.9" height="13.1" fill="#ffcc00"/><rect x="85.4" y="375.1" width="12.9" height="13.1" fill="#c4ff40"/><rect x="97.6" y="375.1" width="12.9" height="13.1" fill="#84ff94"/><rect x="109.9" y="375.1" width="12.9" height="13.1" fill="#fffa00"/><rect x="122.2" y="375.1" width="12.9" height="13.1" fill="#fffa00"/><rect x="134.4" y="375.1" width="12.9" height="13.1" fill="#fffa00"/><rect x="146.7" y="375.1" width="12.9" height="13.1" fill="#ffcc00"/><rect x="159.0" y="375.1" width="12.9" height="13.1" fill="#fffa00"/><rect x="171.2" y="375.1" width="12.9" height="13.1" fill="#fffa00"/><rect x="183.5" y="375.1" width="12.9" height="13.1" fill="#fffa00"/><rect x="195.8" y="375.1" width="12.9" height="13.1" fill="#fffa00"/><rect x="208.0" y="375.1" width="12.9" height="13.1" fill="#fffa00"/><rect x="220.3" y="375.1" width="12.9" height="13.1" fill="#fffa00"/><rect x="232.6" y="375.1" width="12.9" height="13.1" fill="#fffa00"/><rect x="48.6" y="387.7" width="12.9" height="13.1" fill="#fffa00"/><rect x="60.8" y="387.7" width="12.9" height="13.1" fill="#fffa00"/><rect x="73.1" y="387.7" width="12.9" height="13.1" fill="#fffa00"/><rect x="85.4" y="387.7" width="12.9" height="13.1" fill="#84ff94"/><rect x="97.6" y="387.7" width="12.9" height="13.1" fill="#84ff94"/><rect x="109.9" y="387.7" width="12.9" height="13.1" fill="#84ff94"/><rect x="122.2" y="387.7" width="12.9" height="13.1" fill="#fffa00"/><rect x="134.4" y="387.7" width="12.9" height="13.1" fill="#ffcc00"/><rect x="146.7" y="387.7" width="12.9" height="13.1" fill="#ffcc00"/><rect x="159.0" y="387.7" width="12.9" height="13.1" fill="#fffa00"/><rect x="171.2" y="387.7" width="12.9" height="13.1" fill="#fffa00"/><rect x="183.5" y="387.7" width="12.9" height="13.1" fill="#c4ff40"/><rect x="195.8" y="387.7" width="12.9" height="13.1" fill="#fffa00"/><rect x="208.0" y="387.7" width="12.9" height="13.1" fill="#fffa00"/><rect x="220.3" y="387.7" width="12.9" height="13.1" fill="#fffa00"/><rect x="232.6" y="387.7" width="12.9" height="13.1" fill="#fffa00"/><rect x="48.6" y="400.2" width="12.9" height="13.1" fill="#ffcc00"/><rect x="60.8" y="400.2" width="12.9" height="13.1" fill="#ffcc00"/><rect x="73.1" y="400.2" width="12.9" height="13.1" fill="#ffcc00"/><rect x="85.4" y="400.2" width="12.9" height="13.1" fill="#84ff94"/><rect x="97.6" y="400.2" width="12.9" height="13.1" fill="#80fcfc"/><rect x="109.9" y="400.2" width="12.9" height="13.1" fill="#c4ff40"/><rect x="122.2" y="400.2" width="12.9" height="13.1" fill="#fffa00"/><rect x="134.4" y="400.2" width="12.9" height="13.1" fill="#fffa00"/><rect x="146.7" y="400.2" width="12.9" height="13.1" fill="#ffcc00"/><rect x="159.0" y="400.2" width="12.9" height="13.1" fill="#fffa00"/><rect x="171.2" y="400.2" width="12.9" height="13.1" fill="#fffa00"/><rect x="183.5" y="400.2" width="12.9" height="13.1" fill="#ffa000"/><rect x="195.8" y="400.2" width="12.9" height="13.1" fill="#fffa00"/><rect x="208.0" y="400.2" width="12.9" height="13.1" fill="#c4ff40"/><rect x="220.3" y="400.2" width="12.9" height="13.1" fill="#c4ff40"/><rect x="232.6" y="400.2" width="12.9" height="13.1" fill="#c4ff40"/><rect x="48.6" y="412.7" width="12.9" height="13.1" fill="#c4ff40"/><rect x="60.8" y="412.7" width="12.9" height="13.1" fill="#c4ff40"/><rect x="73.1" y="412.7" width="12.9" height="13.1" fill="#c4ff40"/><rect x="85.4" y="412.7" width="12.9" height="13.1" fill="#80fcfc"/><rect x="97.6" y="412.7" width="12.9" height="13.1" fill="#84ff94"/><rect x="109.9" y="412.7" width="12.9" height="13.1" fill="#fffa00"/><rect x="122.2" y="412.7" width="12.9" height="13.1" fill="#fffa00"/><rect x="134.4" y="412.7" width="12.9" height="13.1" fill="#fffa00"/><rect x="146.7" y="412.7" width="12.9" height="13.1" fill="#ffcc00"/><rect x="159.0" y="412.7" width="12.9" height="13.1" fill="#fffa00"/><rect x="171.2" y="412.7" width="12.9" height="13.1" fill="#c4ff40"/><rect x="183.5" y="412.7" width="12.9" height="13.1" fill="#ffa000"/><rect x="195.8" y="412.7" width="12.9" height="13.1" fill="#84ff94"/><rect x="208.0" y="412.7" width="12.9" height="13.1" fill="#80fcfc"/><rect x="220.3" y="412.7" width="12.9" height="13.1" fill="#80fcfc"/><rect x="232.6" y="412.7" width="12.9" height="13.1" fill="#80fcfc"/><rect x="48.6" y="425.3" width="12.9" height="13.1" fill="#80fcfc"/><rect x="60.8" y="425.3" width="12.9" height="13.1" fill="#80fcfc"/><rect x="73.1" y="425.3" width="12.9" height="13.1" fill="#80fcfc"/><rect x="85.4" y="425.3" width="12.9" height="13.1" fill="#84ff94"/><rect x="97.6" y="425.3" width="12.9" height="13.1" fill="#80fcfc"/><rect x="109.9" y="425.3" width="12.9" height="13.1" fill="#fffa00"/><rect x="122.2" y="425.3" width="12.9" height="13.1" fill="#ffcc00"/><rect x="134.4" y="425.3" width="12.9" height="13.1" fill="#fffa00"/><rect x="146.7" y="425.3" width="12.9" height="13.1" fill="#ffcc00"/><rect x="159.0" y="425.3" width="12.9" height="13.1" fill="#fffa00"/><rect x="171.2" y="425.3" width="12.9" height="13.1" fill="#fffa00"/><rect x="183.5" y="425.3" width="12.9" height="13.1" fill="#ffa000"/><rect x="195.8" y="425.3" width="12.9" height="13.1" fill="#80fcfc"/><rect x="208.0" y="425.3" width="12.9" height="13.1" fill="#80fcfc"/><rect x="220.3" y="425.3" width="12.9" height="13.1" fill="#80fcfc"/><rect x="232.6" y="425.3" width="12.9" height="13.1" fill="#80fcfc"/><rect x="48.6" y="437.8" width="12.9" height="13.1" fill="#80fcfc"/><rect x="60.8" y="437.8" width="12.9" height="13.1" fill="#80fcfc"/><rect x="73.1" y="437.8" width="12.9" height="13.1" fill="#80fcfc"/><rect x="85.4" y="437.8" width="12.9" height="13.1" fill="#80fcfc"/><rect x="97.6" y="437.8" width="12.9" height="13.1" fill="#84ff94"/><rect x="109.9" y="437.8" width="12.9" height="13.1" fill="#fffa00"/><rect x="122.2" y="437.8" width="12.9" height="13.1" fill="#fffa00"/><rect x="134.4" y="437.8" width="12.9" height="13.1" fill="#84ff94"/><rect x="146.7" y="437.8" width="12.9" height="13.1" fill="#84ff94"/><rect x="159.0" y="437.8" width="12.9" height="13.1" fill="#fffa00"/><rect x="171.2" y="437.8" width="12.9" height="13.1" fill="#fffa00"/><rect x="183.5" y="437.8" width="12.9" height="13.1" fill="#ffa000"/><rect x="195.8" y="437.8" width="12.9" height="13.1" fill="#ffcc00"/><rect x="208.0" y="437.8" width="12.9" height="13.1" fill="#80fcfc"/><rect x="220.3" y="437.8" width="12.9" height="13.1" fill="#80fcfc"/><rect x="232.6" y="437.8" width="12.9" height="13.1" fill="#80fcfc"/><rect x="48.6" y="450.3" width="12.9" height="13.1" fill="#80fcfc"/><rect x="60.8" y="450.3" width="12.9" height="13.1" fill="#80fcfc"/><rect x="73.1" y="450.3" width="12.9" height="13.1" fill="#80fcfc"/><rect x="85.4" y="450.3" width="12.9" height="13.1" fill="#80fcfc"/><rect x="97.6" y="450.3" width="12.9" height="13.1" fill="#84ff94"/><rect x="109.9" y="450.3" width="12.9" height="13.1" fill="#fffa00"/><rect x="122.2" y="450.3" width="12.9" height="13.1" fill="#ffcc00"/><rect x="134.4" y="450.3" width="12.9" height="13.1" fill="#84ff94"/><rect x="146.7" y="450.3" width="12.9" height="13.1" fill="#84ff94"/><rect x="159.0" y="450.3" width="12.9" height="13.1" fill="#fffa00"/><rect x="171.2" y="450.3" width="12.9" height="13.1" fill="#ffa000"/><rect x="183.5" y="450.3" width="12.9" height="13.1" fill="#ffa000"/><rect x="195.8" y="450.3" width="12.9" height="13.1" fill="#ffcc00"/><rect x="208.0" y="450.3" width="12.9" height="13.1" fill="#80fcfc"/><rect x="220.3" y="450.3" width="12.9" height="13.1" fill="#80fcfc"/><rect x="232.6" y="450.3" width="12.9" height="13.1" fill="#80fcfc"/><rect x="48.6" y="462.9" width="12.9" height="13.1" fill="#c4ff40"/><rect x="60.8" y="462.9" width="12.9" height="13.1" fill="#c4ff40"/><rect x="73.1" y="462.9" width="12.9" height="13.1" fill="#c4ff40"/><rect x="85.4" y="462.9" width="12.9" height="13.1" fill="#80fcfc"/><rect x="97.6" y="462.9" width="12.9" height="13.1" fill="#84ff94"/><rect x="109.9" y="462.9" width="12.9" height="13.1" fill="#84ff94"/><rect x="122.2" y="462.9" width="12.9" height="13.1" fill="#fffa00"/><rect x="134.4" y="462.9" width="12.9" height="13.1" fill="#84ff94"/><rect x="146.7" y="462.9" width="12.9" height="13.1" fill="#84ff94"/><rect x="159.0" y="462.9" width="12.9" height="13.1" fill="#c4ff40"/><rect x="171.2" y="462.9" width="12.9" height="13.1" fill="#ffa000"/><rect x="183.5" y="462.9" width="12.9" height="13.1" fill="#ffa000"/><rect x="195.8" y="462.9" width="12.9" height="13.1" fill="#ffcc00"/><rect x="208.0" y="462.9" width="12.9" height="13.1" fill="#80fcfc"/><rect x="220.3" y="462.9" width="12.9" height="13.1" fill="#80fcfc"/><rect x="232.6" y="462.9" width="12.9" height="13.1" fill="#80fcfc"/><rect x="48.6" y="475.4" width="12.9" height="13.1" fill="#84ff94"/><rect x="60.8" y="475.4" width="12.9" height="13.1" fill="#84ff94"/><rect x="73.1" y="475.4" width="12.9" height="13.1" fill="#84ff94"/><rect x="85.4" y="475.4" width="12.9" height="13.1" fill="#80fcfc"/><rect x="97.6" y="475.4" width="12.9" height="13.1" fill="#fffa00"/><rect x="109.9" y="475.4" width="12.9" height="13.1" fill="#84ff94"/><rect x="122.2" y="475.4" width="12.9" height="13.1" fill="#84ff94"/><rect x="134.4" y="475.4" width="12.9" height="13.1" fill="#fffa00"/><rect x="146.7" y="475.4" width="12.9" height="13.1" fill="#fffa00"/><rect x="159.0" y="475.4" width="12.9" height="13.1" fill="#c4ff40"/><rect x="171.2" y="475.4" width="12.9" height="13.1" fill="#ffa000"/><rect x="183.5" y="475.4" width="12.9" height="13.1" fill="#ffa000"/><rect x="195.8" y="475.4" width="12.9" height="13.1" fill="#ffcc00"/><rect x="208.0" y="475.4" width="12.9" height="13.1" fill="#80fcfc"/><rect x="220.3" y="475.4" width="12.9" height="13.1" fill="#80fcfc"/><rect x="232.6" y="475.4" width="12.9" height="13.1" fill="#80fcfc"/><rect x="48.6" y="487.9" width="12.9" height="13.1" fill="#84ff94"/><rect x="60.8" y="487.9" width="12.9" height="13.1" fill="#84ff94"/><rect x="73.1" y="487.9" width="12.9" height="13.1" fill="#84ff94"/><rect x="85.4" y="487.9" width="12.9" height="13.1" fill="#80fcfc"/><rect x="97.6" y="487.9" width="12.9" height="13.1" fill="#fffa00"/><rect x="109.9" y="487.9" width="12.9" height="13.1" fill="#c4ff40"/><rect x="122.2" y="487.9" width="12.9" height="13.1" fill="#84ff94"/><rect x="134.4" y="487.9" width="12.9" height="13.1" fill="#fffa00"/><rect x="146.7" y="487.9" width="12.9" height="13.1" fill="#c4ff40"/><rect x="159.0" y="487.9" width="12.9" height="13.1" fill="#fffa00"/><rect x="171.2" y="487.9" width="12.9" height="13.1" fill="#ffcc00"/><rect x="183.5" y="487.9" width="12.9" height="13.1" fill="#ffcc00"/><rect x="195.8" y="487.9" width="12.9" height="13.1" fill="#ffcc00"/><rect x="208.0" y="487.9" width="12.9" height="13.1" fill="#80fcfc"/><rect x="220.3" y="487.9" width="12.9" height="13.1" fill="#80fcfc"/><rect x="232.6" y="487.9" width="12.9" height="13.1" fill="#80fcfc"/><rect x="48.6" y="500.5" width="12.9" height="13.1" fill="#c4ff40"/><rect x="60.8" y="500.5" width="12.9" height="13.1" fill="#c4ff40"/><rect x="73.1" y="500.5" width="12.9" height="13.1" fill="#c4ff40"/><rect x="85.4" y="500.5" width="12.9" height="13.1" fill="#80fcfc"/><rect x="97.6" y="500.5" width="12.9" height="13.1" fill="#c4ff40"/><rect x="109.9" y="500.5" width="12.9" height="13.1" fill="#fffa00"/><rect x="122.2" y="500.5" width="12.9" height="13.1" fill="#84ff94"/><rect x="134.4" y="500.5" width="12.9" height="13.1" fill="#c4ff40"/><rect x="146.7" y="500.5" width="12.9" height="13.1" fill="#c4ff40"/><rect x="159.0" y="500.5" width="12.9" height="13.1" fill="#84ff94"/><rect x="171.2" y="500.5" width="12.9" height="13.1" fill="#80fcfc"/><rect x="183.5" y="500.5" width="12.9" height="13.1" fill="#80fcfc"/><rect x="195.8" y="500.5" width="12.9" height="13.1" fill="#80fcfc"/><rect x="208.0" y="500.5" width="12.9" height="13.1" fill="#80fcfc"/><rect x="220.3" y="500.5" width="12.9" height="13.1" fill="#80fcfc"/><rect x="232.6" y="500.5" width="12.9" height="13.1" fill="#80fcfc"/><rect x="48.6" y="513.0" width="12.9" height="13.1" fill="#84ff94"/><rect x="60.8" y="513.0" width="12.9" height="13.1" fill="#84ff94"/><rect x="73.1" y="513.0" width="12.9" height="13.1" fill="#84ff94"/><rect x="85.4" y="513.0" width="12.9" height="13.1" fill="#80fcfc"/><rect x="97.6" y="513.0" width="12.9" height="13.1" fill="#fffa00"/><rect x="109.9" y="513.0" width="12.9" height="13.1" fill="#fffa00"/><rect x="122.2" y="513.0" width="12.9" height="13.1" fill="#84ff94"/><rect x="134.4" y="513.0" width="12.9" height="13.1" fill="#fffa00"/><rect x="146.7" y="513.0" width="12.9" height="13.1" fill="#84ff94"/><rect x="159.0" y="513.0" width="12.9" height="13.1" fill="#80fcfc"/><rect x="171.2" y="513.0" width="12.9" height="13.1" fill="#80fcfc"/><rect x="183.5" y="513.0" width="12.9" height="13.1" fill="#80fcfc"/><rect x="195.8" y="513.0" width="12.9" height="13.1" fill="#80fcfc"/><rect x="208.0" y="513.0" width="12.9" height="13.1" fill="#80fcfc"/><rect x="220.3" y="513.0" width="12.9" height="13.1" fill="#80fcfc"/><rect x="232.6" y="513.0" width="12.9" height="13.1" fill="#80fcfc"/><rect x="48.6" y="525.5" width="12.9" height="13.1" fill="#84ff94"/><rect x="60.8" y="525.5" width="12.9" height="13.1" fill="#84ff94"/><rect x="73.1" y="525.5" width="12.9" height="13.1" fill="#84ff94"/><rect x="85.4" y="525.5" width="12.9" height="13.1" fill="#80fcfc"/><rect x="97.6" y="525.5" width="12.9" height="13.1" fill="#84ff94"/><rect x="109.9" y="525.5" width="12.9" height="13.1" fill="#ffcc00"/><rect x="122.2" y="525.5" width="12.9" height="13.1" fill="#84ff94"/><rect x="134.4" y="525.5" width="12.9" height="13.1" fill="#fffa00"/><rect x="146.7" y="525.5" width="12.9" height="13.1" fill="#84ff94"/><rect x="159.0" y="525.5" width="12.9" height="13.1" fill="#80fcfc"/><rect x="171.2" y="525.5" width="12.9" height="13.1" fill="#80fcfc"/><rect x="183.5" y="525.5" width="12.9" height="13.1" fill="#80fcfc"/><rect x="195.8" y="525.5" width="12.9" height="13.1" fill="#80fcfc"/><rect x="208.0" y="525.5" width="12.9" height="13.1" fill="#80fcfc"/><rect x="220.3" y="525.5" width="12.9" height="13.1" fill="#80fcfc"/><rect x="232.6" y="525.5" width="12.9" height="13.1" fill="#80fcfc"/><rect x="48.6" y="538.1" width="12.9" height="13.1" fill="#84ff94"/><rect x="60.8" y="538.1" width="12.9" height="13.1" fill="#84ff94"/><rect x="73.1" y="538.1" width="12.9" height="13.1" fill="#84ff94"/><rect x="85.4" y="538.1" width="12.9" height="13.1" fill="#80fcfc"/><rect x="97.6" y="538.1" width="12.9" height="13.1" fill="#84ff94"/><rect x="109.9" y="538.1" width="12.9" height="13.1" fill="#ffcc00"/><rect x="122.2" y="538.1" width="12.9" height="13.1" fill="#c4ff40"/><rect x="134.4" y="538.1" width="12.9" height="13.1" fill="#fffa00"/><rect x="146.7" y="538.1" width="12.9" height="13.1" fill="#84ff94"/><rect x="159.0" y="538.1" width="12.9" height="13.1" fill="#80fcfc"/><rect x="171.2" y="538.1" width="12.9" height="13.1" fill="#80fcfc"/><rect x="183.5" y="538.1" width="12.9" height="13.1" fill="#80fcfc"/><rect x="195.8" y="538.1" width="12.9" height="13.1" fill="#80fcfc"/><rect x="208.0" y="538.1" width="12.9" height="13.1" fill="#a0e0ff"/><rect x="220.3" y="538.1" width="12.9" height="13.1" fill="#a0e0ff"/><rect x="232.6" y="538.1" width="12.9" height="13.1" fill="#a0e0ff"/><rect x="48.6" y="550.6" width="12.9" height="13.1" fill="#84ff94"/><rect x="60.8" y="550.6" width="12.9" height="13.1" fill="#84ff94"/><rect x="73.1" y="550.6" width="12.9" height="13.1" fill="#84ff94"/><rect x="85.4" y="550.6" width="12.9" height="13.1" fill="#80fcfc"/><rect x="97.6" y="550.6" width="12.9" height="13.1" fill="#84ff94"/><rect x="109.9" y="550.6" width="12.9" height="13.1" fill="#ffcc00"/><rect x="122.2" y="550.6" width="12.9" height="13.1" fill="#c4ff40"/><rect x="134.4" y="550.6" width="12.9" height="13.1" fill="#fffa00"/><rect x="146.7" y="550.6" width="12.9" height="13.1" fill="#84ff94"/><rect x="159.0" y="550.6" width="12.9" height="13.1" fill="#80fcfc"/><rect x="171.2" y="550.6" width="12.9" height="13.1" fill="#80fcfc"/><rect x="183.5" y="550.6" width="12.9" height="13.1" fill="#80fcfc"/><rect x="195.8" y="550.6" width="12.9" height="13.1" fill="#80fcfc"/><rect x="208.0" y="550.6" width="12.9" height="13.1" fill="#a0e0ff"/><rect x="220.3" y="550.6" width="12.9" height="13.1" fill="#a0e0ff"/><rect x="232.6" y="550.6" width="12.9" height="13.1" fill="#a0e0ff"/><rect x="48.6" y="563.1" width="12.9" height="13.1" fill="#84ff94"/><rect x="60.8" y="563.1" width="12.9" height="13.1" fill="#84ff94"/><rect x="73.1" y="563.1" width="12.9" height="13.1" fill="#84ff94"/><rect x="85.4" y="563.1" width="12.9" height="13.1" fill="#80fcfc"/><rect x="97.6" y="563.1" width="12.9" height="13.1" fill="#84ff94"/><rect x="109.9" y="563.1" width="12.9" height="13.1" fill="#ffcc00"/><rect x="122.2" y="563.1" width="12.9" height="13.1" fill="#c4ff40"/><rect x="134.4" y="563.1" width="12.9" height="13.1" fill="#fffa00"/><rect x="146.7" y="563.1" width="12.9" height="13.1" fill="#84ff94"/><rect x="159.0" y="563.1" width="12.9" height="13.1" fill="#80fcfc"/><rect x="171.2" y="563.1" width="12.9" height="13.1" fill="#80fcfc"/><rect x="183.5" y="563.1" width="12.9" height="13.1" fill="#80fcfc"/><rect x="195.8" y="563.1" width="12.9" height="13.1" fill="#80fcfc"/><rect x="208.0" y="563.1" width="12.9" height="13.1" fill="#a0e0ff"/><rect x="220.3" y="563.1" width="12.9" height="13.1" fill="#a0e0ff"/><rect x="232.6" y="563.1" width="12.9" height="13.1" fill="#a0e0ff"/></g><ellipse cx="186" cy="348" rx="10" ry="13" fill="#ff8000" filter="url(#sb3)"/><g transform="translate(0,233)"><g filter="url(#sb2)">
<ellipse cx="130" cy="108.5" rx="11" ry="8.5" fill="#ff5000" transform="rotate(10 130 108)"/>
<ellipse cx="142" cy="110" rx="9" ry="6" fill="#e40000"/>
<ellipse cx="157.5" cy="99" rx="7" ry="11" fill="#e00000"/>
<ellipse cx="169" cy="110" rx="10" ry="10" fill="#e80000"/>
<ellipse cx="157" cy="123" rx="5.5" ry="13" fill="#e00000"/>
</g><circle cx="156" cy="109.5" r="2" fill="#fff040" filter="url(#sb1)"/></g><g filter="url(#sb1)">
<polygon points="188,397 195,397 197.5,427 203,438 215.6,490 215,500 169.5,505 181,438 186.5,427" fill="#ffb800"/>
<polygon points="190,402 194,415 196,440 192,498 173,502 182,440 187,412" fill="#ffa000"/>
<path d="M184 430 L172 500" stroke="#ff5000" stroke-width="2" fill="none"/>
<polygon points="169.5,505 215,500 215,496 172,500" fill="#ffd000"/>
<circle cx="192" cy="433" r="1.6" fill="#e02000"/>
</g><path d="M86 330 L89 360" stroke="#ff9000" stroke-width="3.5" stroke-linecap="round" fill="none" filter="url(#sb15)"/>
</g>
<g clip-path="url(#c11)">
<g filter="url(#fp11)"><rect x="200.5" y="299.9" width="12.8" height="13.1" fill="#ffa000"/><rect x="212.8" y="299.9" width="12.8" height="13.1" fill="#ffa000"/><rect x="225.0" y="299.9" width="12.8" height="13.1" fill="#ffa000"/><rect x="237.2" y="299.9" width="12.8" height="13.1" fill="#e60000"/><rect x="249.5" y="299.9" width="12.8" height="13.1" fill="#e60000"/><rect x="261.8" y="299.9" width="12.8" height="13.1" fill="#e60000"/><rect x="274.0" y="299.9" width="12.8" height="13.1" fill="#e60000"/><rect x="286.2" y="299.9" width="12.8" height="13.1" fill="#b00000"/><rect x="298.5" y="299.9" width="12.8" height="13.1" fill="#b00000"/><rect x="310.8" y="299.9" width="12.8" height="13.1" fill="#e60000"/><rect x="323.0" y="299.9" width="12.8" height="13.1" fill="#f82000"/><rect x="335.2" y="299.9" width="12.8" height="13.1" fill="#ffcc00"/><rect x="347.5" y="299.9" width="12.8" height="13.1" fill="#f82000"/><rect x="359.8" y="299.9" width="12.8" height="13.1" fill="#84ff94"/><rect x="372.0" y="299.9" width="12.8" height="13.1" fill="#84ff94"/><rect x="384.2" y="299.9" width="12.8" height="13.1" fill="#84ff94"/><rect x="200.5" y="312.5" width="12.8" height="13.1" fill="#ffa000"/><rect x="212.8" y="312.5" width="12.8" height="13.1" fill="#ffa000"/><rect x="225.0" y="312.5" width="12.8" height="13.1" fill="#ffa000"/><rect x="237.2" y="312.5" width="12.8" height="13.1" fill="#e60000"/><rect x="249.5" y="312.5" width="12.8" height="13.1" fill="#e60000"/><rect x="261.8" y="312.5" width="12.8" height="13.1" fill="#e60000"/><rect x="274.0" y="312.5" width="12.8" height="13.1" fill="#e60000"/><rect x="286.2" y="312.5" width="12.8" height="13.1" fill="#b00000"/><rect x="298.5" y="312.5" width="12.8" height="13.1" fill="#b00000"/><rect x="310.8" y="312.5" width="12.8" height="13.1" fill="#e60000"/><rect x="323.0" y="312.5" width="12.8" height="13.1" fill="#f82000"/><rect x="335.2" y="312.5" width="12.8" height="13.1" fill="#ffcc00"/><rect x="347.5" y="312.5" width="12.8" height="13.1" fill="#f82000"/><rect x="359.8" y="312.5" width="12.8" height="13.1" fill="#84ff94"/><rect x="372.0" y="312.5" width="12.8" height="13.1" fill="#84ff94"/><rect x="384.2" y="312.5" width="12.8" height="13.1" fill="#84ff94"/><rect x="200.5" y="325.0" width="12.8" height="13.1" fill="#ffa000"/><rect x="212.8" y="325.0" width="12.8" height="13.1" fill="#ffa000"/><rect x="225.0" y="325.0" width="12.8" height="13.1" fill="#ffa000"/><rect x="237.2" y="325.0" width="12.8" height="13.1" fill="#e60000"/><rect x="249.5" y="325.0" width="12.8" height="13.1" fill="#e60000"/><rect x="261.8" y="325.0" width="12.8" height="13.1" fill="#e60000"/><rect x="274.0" y="325.0" width="12.8" height="13.1" fill="#e60000"/><rect x="286.2" y="325.0" width="12.8" height="13.1" fill="#b00000"/><rect x="298.5" y="325.0" width="12.8" height="13.1" fill="#b00000"/><rect x="310.8" y="325.0" width="12.8" height="13.1" fill="#e60000"/><rect x="323.0" y="325.0" width="12.8" height="13.1" fill="#f82000"/><rect x="335.2" y="325.0" width="12.8" height="13.1" fill="#ffcc00"/><rect x="347.5" y="325.0" width="12.8" height="13.1" fill="#f82000"/><rect x="359.8" y="325.0" width="12.8" height="13.1" fill="#84ff94"/><rect x="372.0" y="325.0" width="12.8" height="13.1" fill="#84ff94"/><rect x="384.2" y="325.0" width="12.8" height="13.1" fill="#84ff94"/><rect x="200.5" y="337.5" width="12.8" height="13.1" fill="#ffa000"/><rect x="212.8" y="337.5" width="12.8" height="13.1" fill="#ffa000"/><rect x="225.0" y="337.5" width="12.8" height="13.1" fill="#ffa000"/><rect x="237.2" y="337.5" width="12.8" height="13.1" fill="#e60000"/><rect x="249.5" y="337.5" width="12.8" height="13.1" fill="#e60000"/><rect x="261.8" y="337.5" width="12.8" height="13.1" fill="#e60000"/><rect x="274.0" y="337.5" width="12.8" height="13.1" fill="#e60000"/><rect x="286.2" y="337.5" width="12.8" height="13.1" fill="#b00000"/><rect x="298.5" y="337.5" width="12.8" height="13.1" fill="#b00000"/><rect x="310.8" y="337.5" width="12.8" height="13.1" fill="#e60000"/><rect x="323.0" y="337.5" width="12.8" height="13.1" fill="#e60000"/><rect x="335.2" y="337.5" width="12.8" height="13.1" fill="#e60000"/><rect x="347.5" y="337.5" width="12.8" height="13.1" fill="#e60000"/><rect x="359.8" y="337.5" width="12.8" height="13.1" fill="#f82000"/><rect x="372.0" y="337.5" width="12.8" height="13.1" fill="#f82000"/><rect x="384.2" y="337.5" width="12.8" height="13.1" fill="#f82000"/><rect x="200.5" y="350.1" width="12.8" height="13.1" fill="#ffa000"/><rect x="212.8" y="350.1" width="12.8" height="13.1" fill="#ffa000"/><rect x="225.0" y="350.1" width="12.8" height="13.1" fill="#ffa000"/><rect x="237.2" y="350.1" width="12.8" height="13.1" fill="#f82000"/><rect x="249.5" y="350.1" width="12.8" height="13.1" fill="#e60000"/><rect x="261.8" y="350.1" width="12.8" height="13.1" fill="#e60000"/><rect x="274.0" y="350.1" width="12.8" height="13.1" fill="#e60000"/><rect x="286.2" y="350.1" width="12.8" height="13.1" fill="#e60000"/><rect x="298.5" y="350.1" width="12.8" height="13.1" fill="#e60000"/><rect x="310.8" y="350.1" width="12.8" height="13.1" fill="#e60000"/><rect x="323.0" y="350.1" width="12.8" height="13.1" fill="#e60000"/><rect x="335.2" y="350.1" width="12.8" height="13.1" fill="#e60000"/><rect x="347.5" y="350.1" width="12.8" height="13.1" fill="#e60000"/><rect x="359.8" y="350.1" width="12.8" height="13.1" fill="#f82000"/><rect x="372.0" y="350.1" width="12.8" height="13.1" fill="#f82000"/><rect x="384.2" y="350.1" width="12.8" height="13.1" fill="#f82000"/><rect x="200.5" y="362.6" width="12.8" height="13.1" fill="#ffcc00"/><rect x="212.8" y="362.6" width="12.8" height="13.1" fill="#ffcc00"/><rect x="225.0" y="362.6" width="12.8" height="13.1" fill="#ffcc00"/><rect x="237.2" y="362.6" width="12.8" height="13.1" fill="#f82000"/><rect x="249.5" y="362.6" width="12.8" height="13.1" fill="#e60000"/><rect x="261.8" y="362.6" width="12.8" height="13.1" fill="#e60000"/><rect x="274.0" y="362.6" width="12.8" height="13.1" fill="#e60000"/><rect x="286.2" y="362.6" width="12.8" height="13.1" fill="#e60000"/><rect x="298.5" y="362.6" width="12.8" height="13.1" fill="#e60000"/><rect x="310.8" y="362.6" width="12.8" height="13.1" fill="#e60000"/><rect x="323.0" y="362.6" width="12.8" height="13.1" fill="#e60000"/><rect x="335.2" y="362.6" width="12.8" height="13.1" fill="#e60000"/><rect x="347.5" y="362.6" width="12.8" height="13.1" fill="#ff6400"/><rect x="359.8" y="362.6" width="12.8" height="13.1" fill="#ffcc00"/><rect x="372.0" y="362.6" width="12.8" height="13.1" fill="#ffcc00"/><rect x="384.2" y="362.6" width="12.8" height="13.1" fill="#ffcc00"/><rect x="200.5" y="375.1" width="12.8" height="13.1" fill="#ffcc00"/><rect x="212.8" y="375.1" width="12.8" height="13.1" fill="#ffcc00"/><rect x="225.0" y="375.1" width="12.8" height="13.1" fill="#ffcc00"/><rect x="237.2" y="375.1" width="12.8" height="13.1" fill="#ffa000"/><rect x="249.5" y="375.1" width="12.8" height="13.1" fill="#f82000"/><rect x="261.8" y="375.1" width="12.8" height="13.1" fill="#e60000"/><rect x="274.0" y="375.1" width="12.8" height="13.1" fill="#e60000"/><rect x="286.2" y="375.1" width="12.8" height="13.1" fill="#e60000"/><rect x="298.5" y="375.1" width="12.8" height="13.1" fill="#e60000"/><rect x="310.8" y="375.1" width="12.8" height="13.1" fill="#e60000"/><rect x="323.0" y="375.1" width="12.8" height="13.1" fill="#e60000"/><rect x="335.2" y="375.1" width="12.8" height="13.1" fill="#ffa000"/><rect x="347.5" y="375.1" width="12.8" height="13.1" fill="#ff6400"/><rect x="359.8" y="375.1" width="12.8" height="13.1" fill="#ffcc00"/><rect x="372.0" y="375.1" width="12.8" height="13.1" fill="#ffcc00"/><rect x="384.2" y="375.1" width="12.8" height="13.1" fill="#ffcc00"/><rect x="200.5" y="387.7" width="12.8" height="13.1" fill="#fffa00"/><rect x="212.8" y="387.7" width="12.8" height="13.1" fill="#fffa00"/><rect x="225.0" y="387.7" width="12.8" height="13.1" fill="#fffa00"/><rect x="237.2" y="387.7" width="12.8" height="13.1" fill="#ff6400"/><rect x="249.5" y="387.7" width="12.8" height="13.1" fill="#ff6400"/><rect x="261.8" y="387.7" width="12.8" height="13.1" fill="#f82000"/><rect x="274.0" y="387.7" width="12.8" height="13.1" fill="#e60000"/><rect x="286.2" y="387.7" width="12.8" height="13.1" fill="#e60000"/><rect x="298.5" y="387.7" width="12.8" height="13.1" fill="#e60000"/><rect x="310.8" y="387.7" width="12.8" height="13.1" fill="#e60000"/><rect x="323.0" y="387.7" width="12.8" height="13.1" fill="#e60000"/><rect x="335.2" y="387.7" width="12.8" height="13.1" fill="#ffa000"/><rect x="347.5" y="387.7" width="12.8" height="13.1" fill="#ffcc00"/><rect x="359.8" y="387.7" width="12.8" height="13.1" fill="#80fcfc"/><rect x="372.0" y="387.7" width="12.8" height="13.1" fill="#80fcfc"/><rect x="384.2" y="387.7" width="12.8" height="13.1" fill="#80fcfc"/><rect x="200.5" y="400.2" width="12.8" height="13.1" fill="#ffcc00"/><rect x="212.8" y="400.2" width="12.8" height="13.1" fill="#ffcc00"/><rect x="225.0" y="400.2" width="12.8" height="13.1" fill="#ffcc00"/><rect x="237.2" y="400.2" width="12.8" height="13.1" fill="#ffa000"/><rect x="249.5" y="400.2" width="12.8" height="13.1" fill="#ff6400"/><rect x="261.8" y="400.2" width="12.8" height="13.1" fill="#e60000"/><rect x="274.0" y="400.2" width="12.8" height="13.1" fill="#e60000"/><rect x="286.2" y="400.2" width="12.8" height="13.1" fill="#e60000"/><rect x="298.5" y="400.2" width="12.8" height="13.1" fill="#e60000"/><rect x="310.8" y="400.2" width="12.8" height="13.1" fill="#e60000"/><rect x="323.0" y="400.2" width="12.8" height="13.1" fill="#ffa000"/><rect x="335.2" y="400.2" width="12.8" height="13.1" fill="#ffa000"/><rect x="347.5" y="400.2" width="12.8" height="13.1" fill="#ffcc00"/><rect x="359.8" y="400.2" width="12.8" height="13.1" fill="#80fcfc"/><rect x="372.0" y="400.2" width="12.8" height="13.1" fill="#80fcfc"/><rect x="384.2" y="400.2" width="12.8" height="13.1" fill="#80fcfc"/><rect x="200.5" y="412.7" width="12.8" height="13.1" fill="#fffa00"/><rect x="212.8" y="412.7" width="12.8" height="13.1" fill="#fffa00"/><rect x="225.0" y="412.7" width="12.8" height="13.1" fill="#fffa00"/><rect x="237.2" y="412.7" width="12.8" height="13.1" fill="#ffa000"/><rect x="249.5" y="412.7" width="12.8" height="13.1" fill="#f82000"/><rect x="261.8" y="412.7" width="12.8" height="13.1" fill="#e60000"/><rect x="274.0" y="412.7" width="12.8" height="13.1" fill="#e60000"/><rect x="286.2" y="412.7" width="12.8" height="13.1" fill="#e60000"/><rect x="298.5" y="412.7" width="12.8" height="13.1" fill="#e60000"/><rect x="310.8" y="412.7" width="12.8" height="13.1" fill="#f82000"/><rect x="323.0" y="412.7" width="12.8" height="13.1" fill="#ffa000"/><rect x="335.2" y="412.7" width="12.8" height="13.1" fill="#ffcc00"/><rect x="347.5" y="412.7" width="12.8" height="13.1" fill="#ffcc00"/><rect x="359.8" y="412.7" width="12.8" height="13.1" fill="#fffa00"/><rect x="372.0" y="412.7" width="12.8" height="13.1" fill="#fffa00"/><rect x="384.2" y="412.7" width="12.8" height="13.1" fill="#fffa00"/><rect x="200.5" y="425.3" width="12.8" height="13.1" fill="#fffa00"/><rect x="212.8" y="425.3" width="12.8" height="13.1" fill="#fffa00"/><rect x="225.0" y="425.3" width="12.8" height="13.1" fill="#fffa00"/><rect x="237.2" y="425.3" width="12.8" height="13.1" fill="#ffa000"/><rect x="249.5" y="425.3" width="12.8" height="13.1" fill="#ff6400"/><rect x="261.8" y="425.3" width="12.8" height="13.1" fill="#f82000"/><rect x="274.0" y="425.3" width="12.8" height="13.1" fill="#f82000"/><rect x="286.2" y="425.3" width="12.8" height="13.1" fill="#e60000"/><rect x="298.5" y="425.3" width="12.8" height="13.1" fill="#f82000"/><rect x="310.8" y="425.3" width="12.8" height="13.1" fill="#ff6400"/><rect x="323.0" y="425.3" width="12.8" height="13.1" fill="#ffa000"/><rect x="335.2" y="425.3" width="12.8" height="13.1" fill="#ffcc00"/><rect x="347.5" y="425.3" width="12.8" height="13.1" fill="#fffa00"/><rect x="359.8" y="425.3" width="12.8" height="13.1" fill="#fffa00"/><rect x="372.0" y="425.3" width="12.8" height="13.1" fill="#fffa00"/><rect x="384.2" y="425.3" width="12.8" height="13.1" fill="#fffa00"/><rect x="200.5" y="437.8" width="12.8" height="13.1" fill="#fffa00"/><rect x="212.8" y="437.8" width="12.8" height="13.1" fill="#fffa00"/><rect x="225.0" y="437.8" width="12.8" height="13.1" fill="#fffa00"/><rect x="237.2" y="437.8" width="12.8" height="13.1" fill="#fffa00"/><rect x="249.5" y="437.8" width="12.8" height="13.1" fill="#ff6400"/><rect x="261.8" y="437.8" width="12.8" height="13.1" fill="#ffa000"/><rect x="274.0" y="437.8" width="12.8" height="13.1" fill="#ffa000"/><rect x="286.2" y="437.8" width="12.8" height="13.1" fill="#f82000"/><rect x="298.5" y="437.8" width="12.8" height="13.1" fill="#ff6400"/><rect x="310.8" y="437.8" width="12.8" height="13.1" fill="#ffa000"/><rect x="323.0" y="437.8" width="12.8" height="13.1" fill="#fffa00"/><rect x="335.2" y="437.8" width="12.8" height="13.1" fill="#fffa00"/><rect x="347.5" y="437.8" width="12.8" height="13.1" fill="#80fcfc"/><rect x="359.8" y="437.8" width="12.8" height="13.1" fill="#ffcc00"/><rect x="372.0" y="437.8" width="12.8" height="13.1" fill="#ffcc00"/><rect x="384.2" y="437.8" width="12.8" height="13.1" fill="#ffcc00"/><rect x="200.5" y="450.3" width="12.8" height="13.1" fill="#c4ff40"/><rect x="212.8" y="450.3" width="12.8" height="13.1" fill="#c4ff40"/><rect x="225.0" y="450.3" width="12.8" height="13.1" fill="#c4ff40"/><rect x="237.2" y="450.3" width="12.8" height="13.1" fill="#ffcc00"/><rect x="249.5" y="450.3" width="12.8" height="13.1" fill="#ffa000"/><rect x="261.8" y="450.3" width="12.8" height="13.1" fill="#ffa000"/><rect x="274.0" y="450.3" width="12.8" height="13.1" fill="#ffa000"/><rect x="286.2" y="450.3" width="12.8" height="13.1" fill="#ffcc00"/><rect x="298.5" y="450.3" width="12.8" height="13.1" fill="#ffa000"/><rect x="310.8" y="450.3" width="12.8" height="13.1" fill="#ffa000"/><rect x="323.0" y="450.3" width="12.8" height="13.1" fill="#fffa00"/><rect x="335.2" y="450.3" width="12.8" height="13.1" fill="#80fcfc"/><rect x="347.5" y="450.3" width="12.8" height="13.1" fill="#c0c8ff"/><rect x="359.8" y="450.3" width="12.8" height="13.1" fill="#80fcfc"/><rect x="372.0" y="450.3" width="12.8" height="13.1" fill="#80fcfc"/><rect x="384.2" y="450.3" width="12.8" height="13.1" fill="#80fcfc"/><rect x="200.5" y="462.9" width="12.8" height="13.1" fill="#84ff94"/><rect x="212.8" y="462.9" width="12.8" height="13.1" fill="#84ff94"/><rect x="225.0" y="462.9" width="12.8" height="13.1" fill="#84ff94"/><rect x="237.2" y="462.9" width="12.8" height="13.1" fill="#fffa00"/><rect x="249.5" y="462.9" width="12.8" height="13.1" fill="#ffa000"/><rect x="261.8" y="462.9" width="12.8" height="13.1" fill="#ffa000"/><rect x="274.0" y="462.9" width="12.8" height="13.1" fill="#ffcc00"/><rect x="286.2" y="462.9" width="12.8" height="13.1" fill="#ffcc00"/><rect x="298.5" y="462.9" width="12.8" height="13.1" fill="#ffa000"/><rect x="310.8" y="462.9" width="12.8" height="13.1" fill="#ffcc00"/><rect x="323.0" y="462.9" width="12.8" height="13.1" fill="#fffa00"/><rect x="335.2" y="462.9" width="12.8" height="13.1" fill="#80fcfc"/><rect x="347.5" y="462.9" width="12.8" height="13.1" fill="#c0c8ff"/><rect x="359.8" y="462.9" width="12.8" height="13.1" fill="#c0c8ff"/><rect x="372.0" y="462.9" width="12.8" height="13.1" fill="#c0c8ff"/><rect x="384.2" y="462.9" width="12.8" height="13.1" fill="#c0c8ff"/><rect x="200.5" y="475.4" width="12.8" height="13.1" fill="#80fcfc"/><rect x="212.8" y="475.4" width="12.8" height="13.1" fill="#80fcfc"/><rect x="225.0" y="475.4" width="12.8" height="13.1" fill="#80fcfc"/><rect x="237.2" y="475.4" width="12.8" height="13.1" fill="#ffcc00"/><rect x="249.5" y="475.4" width="12.8" height="13.1" fill="#ffa000"/><rect x="261.8" y="475.4" width="12.8" height="13.1" fill="#ffcc00"/><rect x="274.0" y="475.4" width="12.8" height="13.1" fill="#ffcc00"/><rect x="286.2" y="475.4" width="12.8" height="13.1" fill="#ffcc00"/><rect x="298.5" y="475.4" width="12.8" height="13.1" fill="#ffcc00"/><rect x="310.8" y="475.4" width="12.8" height="13.1" fill="#fffa00"/><rect x="323.0" y="475.4" width="12.8" height="13.1" fill="#80fcfc"/><rect x="335.2" y="475.4" width="12.8" height="13.1" fill="#80fcfc"/><rect x="347.5" y="475.4" width="12.8" height="13.1" fill="#c0c8ff"/><rect x="359.8" y="475.4" width="12.8" height="13.1" fill="#c0c8ff"/><rect x="372.0" y="475.4" width="12.8" height="13.1" fill="#c0c8ff"/><rect x="384.2" y="475.4" width="12.8" height="13.1" fill="#c0c8ff"/><rect x="200.5" y="487.9" width="12.8" height="13.1" fill="#fffa00"/><rect x="212.8" y="487.9" width="12.8" height="13.1" fill="#fffa00"/><rect x="225.0" y="487.9" width="12.8" height="13.1" fill="#fffa00"/><rect x="237.2" y="487.9" width="12.8" height="13.1" fill="#80fcfc"/><rect x="249.5" y="487.9" width="12.8" height="13.1" fill="#80fcfc"/><rect x="261.8" y="487.9" width="12.8" height="13.1" fill="#ffa000"/><rect x="274.0" y="487.9" width="12.8" height="13.1" fill="#ffa000"/><rect x="286.2" y="487.9" width="12.8" height="13.1" fill="#ffa000"/><rect x="298.5" y="487.9" width="12.8" height="13.1" fill="#ffcc00"/><rect x="310.8" y="487.9" width="12.8" height="13.1" fill="#fffa00"/><rect x="323.0" y="487.9" width="12.8" height="13.1" fill="#80fcfc"/><rect x="335.2" y="487.9" width="12.8" height="13.1" fill="#84ff94"/><rect x="347.5" y="487.9" width="12.8" height="13.1" fill="#80fcfc"/><rect x="359.8" y="487.9" width="12.8" height="13.1" fill="#c0c8ff"/><rect x="372.0" y="487.9" width="12.8" height="13.1" fill="#c0c8ff"/><rect x="384.2" y="487.9" width="12.8" height="13.1" fill="#c0c8ff"/><rect x="200.5" y="500.5" width="12.8" height="13.1" fill="#c4ff40"/><rect x="212.8" y="500.5" width="12.8" height="13.1" fill="#c4ff40"/><rect x="225.0" y="500.5" width="12.8" height="13.1" fill="#c4ff40"/><rect x="237.2" y="500.5" width="12.8" height="13.1" fill="#80fcfc"/><rect x="249.5" y="500.5" width="12.8" height="13.1" fill="#c0c8ff"/><rect x="261.8" y="500.5" width="12.8" height="13.1" fill="#fffa00"/><rect x="274.0" y="500.5" width="12.8" height="13.1" fill="#ffcc00"/><rect x="286.2" y="500.5" width="12.8" height="13.1" fill="#ffcc00"/><rect x="298.5" y="500.5" width="12.8" height="13.1" fill="#80fcfc"/><rect x="310.8" y="500.5" width="12.8" height="13.1" fill="#fffa00"/><rect x="323.0" y="500.5" width="12.8" height="13.1" fill="#84ff94"/><rect x="335.2" y="500.5" width="12.8" height="13.1" fill="#84ff94"/><rect x="347.5" y="500.5" width="12.8" height="13.1" fill="#80fcfc"/><rect x="359.8" y="500.5" width="12.8" height="13.1" fill="#c0c8ff"/><rect x="372.0" y="500.5" width="12.8" height="13.1" fill="#c0c8ff"/><rect x="384.2" y="500.5" width="12.8" height="13.1" fill="#c0c8ff"/><rect x="200.5" y="513.0" width="12.8" height="13.1" fill="#84ff94"/><rect x="212.8" y="513.0" width="12.8" height="13.1" fill="#84ff94"/><rect x="225.0" y="513.0" width="12.8" height="13.1" fill="#84ff94"/><rect x="237.2" y="513.0" width="12.8" height="13.1" fill="#c4ff40"/><rect x="249.5" y="513.0" width="12.8" height="13.1" fill="#c0c8ff"/><rect x="261.8" y="513.0" width="12.8" height="13.1" fill="#80fcfc"/><rect x="274.0" y="513.0" width="12.8" height="13.1" fill="#fffa00"/><rect x="286.2" y="513.0" width="12.8" height="13.1" fill="#fffa00"/><rect x="298.5" y="513.0" width="12.8" height="13.1" fill="#80fcfc"/><rect x="310.8" y="513.0" width="12.8" height="13.1" fill="#c4ff40"/><rect x="323.0" y="513.0" width="12.8" height="13.1" fill="#84ff94"/><rect x="335.2" y="513.0" width="12.8" height="13.1" fill="#84ff94"/><rect x="347.5" y="513.0" width="12.8" height="13.1" fill="#84ff94"/><rect x="359.8" y="513.0" width="12.8" height="13.1" fill="#80fcfc"/><rect x="372.0" y="513.0" width="12.8" height="13.1" fill="#80fcfc"/><rect x="384.2" y="513.0" width="12.8" height="13.1" fill="#80fcfc"/><rect x="200.5" y="525.5" width="12.8" height="13.1" fill="#84ff94"/><rect x="212.8" y="525.5" width="12.8" height="13.1" fill="#84ff94"/><rect x="225.0" y="525.5" width="12.8" height="13.1" fill="#84ff94"/><rect x="237.2" y="525.5" width="12.8" height="13.1" fill="#80fcfc"/><rect x="249.5" y="525.5" width="12.8" height="13.1" fill="#80fcfc"/><rect x="261.8" y="525.5" width="12.8" height="13.1" fill="#c0c8ff"/><rect x="274.0" y="525.5" width="12.8" height="13.1" fill="#80fcfc"/><rect x="286.2" y="525.5" width="12.8" height="13.1" fill="#c0c8ff"/><rect x="298.5" y="525.5" width="12.8" height="13.1" fill="#80fcfc"/><rect x="310.8" y="525.5" width="12.8" height="13.1" fill="#fffa00"/><rect x="323.0" y="525.5" width="12.8" height="13.1" fill="#84ff94"/><rect x="335.2" y="525.5" width="12.8" height="13.1" fill="#84ff94"/><rect x="347.5" y="525.5" width="12.8" height="13.1" fill="#84ff94"/><rect x="359.8" y="525.5" width="12.8" height="13.1" fill="#80fcfc"/><rect x="372.0" y="525.5" width="12.8" height="13.1" fill="#80fcfc"/><rect x="384.2" y="525.5" width="12.8" height="13.1" fill="#80fcfc"/><rect x="200.5" y="538.1" width="12.8" height="13.1" fill="#84ff94"/><rect x="212.8" y="538.1" width="12.8" height="13.1" fill="#84ff94"/><rect x="225.0" y="538.1" width="12.8" height="13.1" fill="#84ff94"/><rect x="237.2" y="538.1" width="12.8" height="13.1" fill="#80fcfc"/><rect x="249.5" y="538.1" width="12.8" height="13.1" fill="#c0c8ff"/><rect x="261.8" y="538.1" width="12.8" height="13.1" fill="#80fcfc"/><rect x="274.0" y="538.1" width="12.8" height="13.1" fill="#80fcfc"/><rect x="286.2" y="538.1" width="12.8" height="13.1" fill="#c0c8ff"/><rect x="298.5" y="538.1" width="12.8" height="13.1" fill="#80fcfc"/><rect x="310.8" y="538.1" width="12.8" height="13.1" fill="#84ff94"/><rect x="323.0" y="538.1" width="12.8" height="13.1" fill="#84ff94"/><rect x="335.2" y="538.1" width="12.8" height="13.1" fill="#84ff94"/><rect x="347.5" y="538.1" width="12.8" height="13.1" fill="#80fcfc"/><rect x="359.8" y="538.1" width="12.8" height="13.1" fill="#80fcfc"/><rect x="372.0" y="538.1" width="12.8" height="13.1" fill="#80fcfc"/><rect x="384.2" y="538.1" width="12.8" height="13.1" fill="#80fcfc"/><rect x="200.5" y="550.6" width="12.8" height="13.1" fill="#84ff94"/><rect x="212.8" y="550.6" width="12.8" height="13.1" fill="#84ff94"/><rect x="225.0" y="550.6" width="12.8" height="13.1" fill="#84ff94"/><rect x="237.2" y="550.6" width="12.8" height="13.1" fill="#80fcfc"/><rect x="249.5" y="550.6" width="12.8" height="13.1" fill="#c0c8ff"/><rect x="261.8" y="550.6" width="12.8" height="13.1" fill="#80fcfc"/><rect x="274.0" y="550.6" width="12.8" height="13.1" fill="#80fcfc"/><rect x="286.2" y="550.6" width="12.8" height="13.1" fill="#c0c8ff"/><rect x="298.5" y="550.6" width="12.8" height="13.1" fill="#80fcfc"/><rect x="310.8" y="550.6" width="12.8" height="13.1" fill="#84ff94"/><rect x="323.0" y="550.6" width="12.8" height="13.1" fill="#84ff94"/><rect x="335.2" y="550.6" width="12.8" height="13.1" fill="#84ff94"/><rect x="347.5" y="550.6" width="12.8" height="13.1" fill="#80fcfc"/><rect x="359.8" y="550.6" width="12.8" height="13.1" fill="#80fcfc"/><rect x="372.0" y="550.6" width="12.8" height="13.1" fill="#80fcfc"/><rect x="384.2" y="550.6" width="12.8" height="13.1" fill="#80fcfc"/><rect x="200.5" y="563.1" width="12.8" height="13.1" fill="#84ff94"/><rect x="212.8" y="563.1" width="12.8" height="13.1" fill="#84ff94"/><rect x="225.0" y="563.1" width="12.8" height="13.1" fill="#84ff94"/><rect x="237.2" y="563.1" width="12.8" height="13.1" fill="#80fcfc"/><rect x="249.5" y="563.1" width="12.8" height="13.1" fill="#c0c8ff"/><rect x="261.8" y="563.1" width="12.8" height="13.1" fill="#80fcfc"/><rect x="274.0" y="563.1" width="12.8" height="13.1" fill="#80fcfc"/><rect x="286.2" y="563.1" width="12.8" height="13.1" fill="#c0c8ff"/><rect x="298.5" y="563.1" width="12.8" height="13.1" fill="#80fcfc"/><rect x="310.8" y="563.1" width="12.8" height="13.1" fill="#84ff94"/><rect x="323.0" y="563.1" width="12.8" height="13.1" fill="#84ff94"/><rect x="335.2" y="563.1" width="12.8" height="13.1" fill="#84ff94"/><rect x="347.5" y="563.1" width="12.8" height="13.1" fill="#80fcfc"/><rect x="359.8" y="563.1" width="12.8" height="13.1" fill="#80fcfc"/><rect x="372.0" y="563.1" width="12.8" height="13.1" fill="#80fcfc"/><rect x="384.2" y="563.1" width="12.8" height="13.1" fill="#80fcfc"/></g><polygon points="234.9,326.0 237.2,348.3 241.6,363.9 246.1,377.3 252.8,381.8 272.8,386.2 272.8,406.3 259.5,410.8 255.0,419.7 262.0,440.0 272.0,456.0 298.0,457.0 310.0,440.0 312.0,430.0 315.2,410.8 319.7,392.9 328.6,381.8 330.8,375.1 346.5,377.3 350.9,368.4 359.8,361.7 368.8,348.3 371.0,326.0" fill="url(#lgp6)" filter="url(#sb2)" opacity="0.9"/>
<ellipse cx="300" cy="340" rx="40" ry="20" fill="#b00000" filter="url(#sb6)" opacity="0.6"/>
<g filter="url(#sb1)">
<polygon points="246,381.8 272.8,386.2 272.8,406.3 259.5,410.8 250,400" fill="#ff5000"/>
<ellipse cx="340" cy="330" rx="9" ry="7" fill="#ffc000" opacity="0.7" filter="url(#sb2)"/>
</g>
</g>
<g clip-path="url(#c12)">
<g filter="url(#fp12)"><rect x="360.9" y="299.9" width="12.8" height="13.1" fill="#84ff94"/><rect x="373.2" y="299.9" width="12.8" height="13.1" fill="#84ff94"/><rect x="385.4" y="299.9" width="12.8" height="13.1" fill="#84ff94"/><rect x="397.6" y="299.9" width="12.8" height="13.1" fill="#a0e0ff"/><rect x="409.9" y="299.9" width="12.8" height="13.1" fill="#a0e0ff"/><rect x="422.1" y="299.9" width="12.8" height="13.1" fill="#a0e0ff"/><rect x="434.3" y="299.9" width="12.8" height="13.1" fill="#80fcfc"/><rect x="446.6" y="299.9" width="12.8" height="13.1" fill="#84ff94"/><rect x="458.8" y="299.9" width="12.8" height="13.1" fill="#84ff94"/><rect x="471.0" y="299.9" width="12.8" height="13.1" fill="#84ff94"/><rect x="483.3" y="299.9" width="12.8" height="13.1" fill="#c4ff40"/><rect x="495.5" y="299.9" width="12.8" height="13.1" fill="#84ff94"/><rect x="507.7" y="299.9" width="12.8" height="13.1" fill="#80fcfc"/><rect x="520.0" y="299.9" width="12.8" height="13.1" fill="#80fcfc"/><rect x="532.2" y="299.9" width="12.8" height="13.1" fill="#80fcfc"/><rect x="544.4" y="299.9" width="12.8" height="13.1" fill="#80fcfc"/><rect x="360.9" y="312.5" width="12.8" height="13.1" fill="#84ff94"/><rect x="373.2" y="312.5" width="12.8" height="13.1" fill="#84ff94"/><rect x="385.4" y="312.5" width="12.8" height="13.1" fill="#84ff94"/><rect x="397.6" y="312.5" width="12.8" height="13.1" fill="#a0e0ff"/><rect x="409.9" y="312.5" width="12.8" height="13.1" fill="#a0e0ff"/><rect x="422.1" y="312.5" width="12.8" height="13.1" fill="#a0e0ff"/><rect x="434.3" y="312.5" width="12.8" height="13.1" fill="#80fcfc"/><rect x="446.6" y="312.5" width="12.8" height="13.1" fill="#84ff94"/><rect x="458.8" y="312.5" width="12.8" height="13.1" fill="#84ff94"/><rect x="471.0" y="312.5" width="12.8" height="13.1" fill="#84ff94"/><rect x="483.3" y="312.5" width="12.8" height="13.1" fill="#c4ff40"/><rect x="495.5" y="312.5" width="12.8" height="13.1" fill="#84ff94"/><rect x="507.7" y="312.5" width="12.8" height="13.1" fill="#80fcfc"/><rect x="520.0" y="312.5" width="12.8" height="13.1" fill="#80fcfc"/><rect x="532.2" y="312.5" width="12.8" height="13.1" fill="#80fcfc"/><rect x="544.4" y="312.5" width="12.8" height="13.1" fill="#80fcfc"/><rect x="360.9" y="325.0" width="12.8" height="13.1" fill="#84ff94"/><rect x="373.2" y="325.0" width="12.8" height="13.1" fill="#84ff94"/><rect x="385.4" y="325.0" width="12.8" height="13.1" fill="#84ff94"/><rect x="397.6" y="325.0" width="12.8" height="13.1" fill="#a0e0ff"/><rect x="409.9" y="325.0" width="12.8" height="13.1" fill="#a0e0ff"/><rect x="422.1" y="325.0" width="12.8" height="13.1" fill="#a0e0ff"/><rect x="434.3" y="325.0" width="12.8" height="13.1" fill="#80fcfc"/><rect x="446.6" y="325.0" width="12.8" height="13.1" fill="#84ff94"/><rect x="458.8" y="325.0" width="12.8" height="13.1" fill="#84ff94"/><rect x="471.0" y="325.0" width="12.8" height="13.1" fill="#84ff94"/><rect x="483.3" y="325.0" width="12.8" height="13.1" fill="#c4ff40"/><rect x="495.5" y="325.0" width="12.8" height="13.1" fill="#84ff94"/><rect x="507.7" y="325.0" width="12.8" height="13.1" fill="#80fcfc"/><rect x="520.0" y="325.0" width="12.8" height="13.1" fill="#80fcfc"/><rect x="532.2" y="325.0" width="12.8" height="13.1" fill="#80fcfc"/><rect x="544.4" y="325.0" width="12.8" height="13.1" fill="#80fcfc"/><rect x="360.9" y="337.5" width="12.8" height="13.1" fill="#84ff94"/><rect x="373.2" y="337.5" width="12.8" height="13.1" fill="#84ff94"/><rect x="385.4" y="337.5" width="12.8" height="13.1" fill="#84ff94"/><rect x="397.6" y="337.5" width="12.8" height="13.1" fill="#80fcfc"/><rect x="409.9" y="337.5" width="12.8" height="13.1" fill="#a0e0ff"/><rect x="422.1" y="337.5" width="12.8" height="13.1" fill="#80fcfc"/><rect x="434.3" y="337.5" width="12.8" height="13.1" fill="#80fcfc"/><rect x="446.6" y="337.5" width="12.8" height="13.1" fill="#84ff94"/><rect x="458.8" y="337.5" width="12.8" height="13.1" fill="#84ff94"/><rect x="471.0" y="337.5" width="12.8" height="13.1" fill="#c4ff40"/><rect x="483.3" y="337.5" width="12.8" height="13.1" fill="#c4ff40"/><rect x="495.5" y="337.5" width="12.8" height="13.1" fill="#84ff94"/><rect x="507.7" y="337.5" width="12.8" height="13.1" fill="#80fcfc"/><rect x="520.0" y="337.5" width="12.8" height="13.1" fill="#80fcfc"/><rect x="532.2" y="337.5" width="12.8" height="13.1" fill="#80fcfc"/><rect x="544.4" y="337.5" width="12.8" height="13.1" fill="#80fcfc"/><rect x="360.9" y="350.1" width="12.8" height="13.1" fill="#84ff94"/><rect x="373.2" y="350.1" width="12.8" height="13.1" fill="#84ff94"/><rect x="385.4" y="350.1" width="12.8" height="13.1" fill="#84ff94"/><rect x="397.6" y="350.1" width="12.8" height="13.1" fill="#80fcfc"/><rect x="409.9" y="350.1" width="12.8" height="13.1" fill="#80fcfc"/><rect x="422.1" y="350.1" width="12.8" height="13.1" fill="#80fcfc"/><rect x="434.3" y="350.1" width="12.8" height="13.1" fill="#80fcfc"/><rect x="446.6" y="350.1" width="12.8" height="13.1" fill="#80fcfc"/><rect x="458.8" y="350.1" width="12.8" height="13.1" fill="#80fcfc"/><rect x="471.0" y="350.1" width="12.8" height="13.1" fill="#84ff94"/><rect x="483.3" y="350.1" width="12.8" height="13.1" fill="#84ff94"/><rect x="495.5" y="350.1" width="12.8" height="13.1" fill="#80fcfc"/><rect x="507.7" y="350.1" width="12.8" height="13.1" fill="#80fcfc"/><rect x="520.0" y="350.1" width="12.8" height="13.1" fill="#c4ff40"/><rect x="532.2" y="350.1" width="12.8" height="13.1" fill="#c4ff40"/><rect x="544.4" y="350.1" width="12.8" height="13.1" fill="#c4ff40"/><rect x="360.9" y="362.6" width="12.8" height="13.1" fill="#c4ff40"/><rect x="373.2" y="362.6" width="12.8" height="13.1" fill="#c4ff40"/><rect x="385.4" y="362.6" width="12.8" height="13.1" fill="#c4ff40"/><rect x="397.6" y="362.6" width="12.8" height="13.1" fill="#84ff94"/><rect x="409.9" y="362.6" width="12.8" height="13.1" fill="#80fcfc"/><rect x="422.1" y="362.6" width="12.8" height="13.1" fill="#80fcfc"/><rect x="434.3" y="362.6" width="12.8" height="13.1" fill="#80fcfc"/><rect x="446.6" y="362.6" width="12.8" height="13.1" fill="#80fcfc"/><rect x="458.8" y="362.6" width="12.8" height="13.1" fill="#80fcfc"/><rect x="471.0" y="362.6" width="12.8" height="13.1" fill="#84ff94"/><rect x="483.3" y="362.6" width="12.8" height="13.1" fill="#84ff94"/><rect x="495.5" y="362.6" width="12.8" height="13.1" fill="#c4ff40"/><rect x="507.7" y="362.6" width="12.8" height="13.1" fill="#84ff94"/><rect x="520.0" y="362.6" width="12.8" height="13.1" fill="#ffcc00"/><rect x="532.2" y="362.6" width="12.8" height="13.1" fill="#ffcc00"/><rect x="544.4" y="362.6" width="12.8" height="13.1" fill="#ffcc00"/><rect x="360.9" y="375.1" width="12.8" height="13.1" fill="#fffa00"/><rect x="373.2" y="375.1" width="12.8" height="13.1" fill="#fffa00"/><rect x="385.4" y="375.1" width="12.8" height="13.1" fill="#fffa00"/><rect x="397.6" y="375.1" width="12.8" height="13.1" fill="#c4ff40"/><rect x="409.9" y="375.1" width="12.8" height="13.1" fill="#80fcfc"/><rect x="422.1" y="375.1" width="12.8" height="13.1" fill="#80fcfc"/><rect x="434.3" y="375.1" width="12.8" height="13.1" fill="#80fcfc"/><rect x="446.6" y="375.1" width="12.8" height="13.1" fill="#80fcfc"/><rect x="458.8" y="375.1" width="12.8" height="13.1" fill="#80fcfc"/><rect x="471.0" y="375.1" width="12.8" height="13.1" fill="#84ff94"/><rect x="483.3" y="375.1" width="12.8" height="13.1" fill="#84ff94"/><rect x="495.5" y="375.1" width="12.8" height="13.1" fill="#c4ff40"/><rect x="507.7" y="375.1" width="12.8" height="13.1" fill="#ffcc00"/><rect x="520.0" y="375.1" width="12.8" height="13.1" fill="#ffa000"/><rect x="532.2" y="375.1" width="12.8" height="13.1" fill="#ffa000"/><rect x="544.4" y="375.1" width="12.8" height="13.1" fill="#ffa000"/><rect x="360.9" y="387.7" width="12.8" height="13.1" fill="#fffa00"/><rect x="373.2" y="387.7" width="12.8" height="13.1" fill="#fffa00"/><rect x="385.4" y="387.7" width="12.8" height="13.1" fill="#fffa00"/><rect x="397.6" y="387.7" width="12.8" height="13.1" fill="#84ff94"/><rect x="409.9" y="387.7" width="12.8" height="13.1" fill="#80fcfc"/><rect x="422.1" y="387.7" width="12.8" height="13.1" fill="#80fcfc"/><rect x="434.3" y="387.7" width="12.8" height="13.1" fill="#80fcfc"/><rect x="446.6" y="387.7" width="12.8" height="13.1" fill="#84ff94"/><rect x="458.8" y="387.7" width="12.8" height="13.1" fill="#80fcfc"/><rect x="471.0" y="387.7" width="12.8" height="13.1" fill="#84ff94"/><rect x="483.3" y="387.7" width="12.8" height="13.1" fill="#84ff94"/><rect x="495.5" y="387.7" width="12.8" height="13.1" fill="#84ff94"/><rect x="507.7" y="387.7" width="12.8" height="13.1" fill="#ffcc00"/><rect x="520.0" y="387.7" width="12.8" height="13.1" fill="#ffa000"/><rect x="532.2" y="387.7" width="12.8" height="13.1" fill="#ffa000"/><rect x="544.4" y="387.7" width="12.8" height="13.1" fill="#ffa000"/><rect x="360.9" y="400.2" width="12.8" height="13.1" fill="#fffa00"/><rect x="373.2" y="400.2" width="12.8" height="13.1" fill="#fffa00"/><rect x="385.4" y="400.2" width="12.8" height="13.1" fill="#fffa00"/><rect x="397.6" y="400.2" width="12.8" height="13.1" fill="#84ff94"/><rect x="409.9" y="400.2" width="12.8" height="13.1" fill="#80fcfc"/><rect x="422.1" y="400.2" width="12.8" height="13.1" fill="#80fcfc"/><rect x="434.3" y="400.2" width="12.8" height="13.1" fill="#80fcfc"/><rect x="446.6" y="400.2" width="12.8" height="13.1" fill="#c4ff40"/><rect x="458.8" y="400.2" width="12.8" height="13.1" fill="#84ff94"/><rect x="471.0" y="400.2" width="12.8" height="13.1" fill="#84ff94"/><rect x="483.3" y="400.2" width="12.8" height="13.1" fill="#ffcc00"/><rect x="495.5" y="400.2" width="12.8" height="13.1" fill="#ffcc00"/><rect x="507.7" y="400.2" width="12.8" height="13.1" fill="#ff6400"/><rect x="520.0" y="400.2" width="12.8" height="13.1" fill="#ffa000"/><rect x="532.2" y="400.2" width="12.8" height="13.1" fill="#ffa000"/><rect x="544.4" y="400.2" width="12.8" height="13.1" fill="#ffa000"/><rect x="360.9" y="412.7" width="12.8" height="13.1" fill="#c4ff40"/><rect x="373.2" y="412.7" width="12.8" height="13.1" fill="#c4ff40"/><rect x="385.4" y="412.7" width="12.8" height="13.1" fill="#c4ff40"/><rect x="397.6" y="412.7" width="12.8" height="13.1" fill="#c4ff40"/><rect x="409.9" y="412.7" width="12.8" height="13.1" fill="#84ff94"/><rect x="422.1" y="412.7" width="12.8" height="13.1" fill="#80fcfc"/><rect x="434.3" y="412.7" width="12.8" height="13.1" fill="#84ff94"/><rect x="446.6" y="412.7" width="12.8" height="13.1" fill="#fffa00"/><rect x="458.8" y="412.7" width="12.8" height="13.1" fill="#fffa00"/><rect x="471.0" y="412.7" width="12.8" height="13.1" fill="#ffcc00"/><rect x="483.3" y="412.7" width="12.8" height="13.1" fill="#ffcc00"/><rect x="495.5" y="412.7" width="12.8" height="13.1" fill="#ffa000"/><rect x="507.7" y="412.7" width="12.8" height="13.1" fill="#ffcc00"/><rect x="520.0" y="412.7" width="12.8" height="13.1" fill="#80fcfc"/><rect x="532.2" y="412.7" width="12.8" height="13.1" fill="#80fcfc"/><rect x="544.4" y="412.7" width="12.8" height="13.1" fill="#80fcfc"/><rect x="360.9" y="425.3" width="12.8" height="13.1" fill="#ffa000"/><rect x="373.2" y="425.3" width="12.8" height="13.1" fill="#ffa000"/><rect x="385.4" y="425.3" width="12.8" height="13.1" fill="#ffa000"/><rect x="397.6" y="425.3" width="12.8" height="13.1" fill="#ffa000"/><rect x="409.9" y="425.3" width="12.8" height="13.1" fill="#c4ff40"/><rect x="422.1" y="425.3" width="12.8" height="13.1" fill="#ffa000"/><rect x="434.3" y="425.3" width="12.8" height="13.1" fill="#f82000"/><rect x="446.6" y="425.3" width="12.8" height="13.1" fill="#ffa000"/><rect x="458.8" y="425.3" width="12.8" height="13.1" fill="#fffa00"/><rect x="471.0" y="425.3" width="12.8" height="13.1" fill="#ffcc00"/><rect x="483.3" y="425.3" width="12.8" height="13.1" fill="#ffa000"/><rect x="495.5" y="425.3" width="12.8" height="13.1" fill="#ffa000"/><rect x="507.7" y="425.3" width="12.8" height="13.1" fill="#80fcfc"/><rect x="520.0" y="425.3" width="12.8" height="13.1" fill="#80fcfc"/><rect x="532.2" y="425.3" width="12.8" height="13.1" fill="#80fcfc"/><rect x="544.4" y="425.3" width="12.8" height="13.1" fill="#80fcfc"/><rect x="360.9" y="437.8" width="12.8" height="13.1" fill="#ffa000"/><rect x="373.2" y="437.8" width="12.8" height="13.1" fill="#ffa000"/><rect x="385.4" y="437.8" width="12.8" height="13.1" fill="#ffa000"/><rect x="397.6" y="437.8" width="12.8" height="13.1" fill="#ff6400"/><rect x="409.9" y="437.8" width="12.8" height="13.1" fill="#ffa000"/><rect x="422.1" y="437.8" width="12.8" height="13.1" fill="#ffcc00"/><rect x="434.3" y="437.8" width="12.8" height="13.1" fill="#ff6400"/><rect x="446.6" y="437.8" width="12.8" height="13.1" fill="#ffa000"/><rect x="458.8" y="437.8" width="12.8" height="13.1" fill="#fffa00"/><rect x="471.0" y="437.8" width="12.8" height="13.1" fill="#ffcc00"/><rect x="483.3" y="437.8" width="12.8" height="13.1" fill="#ffcc00"/><rect x="495.5" y="437.8" width="12.8" height="13.1" fill="#f82000"/><rect x="507.7" y="437.8" width="12.8" height="13.1" fill="#ffa000"/><rect x="520.0" y="437.8" width="12.8" height="13.1" fill="#ffcc00"/><rect x="532.2" y="437.8" width="12.8" height="13.1" fill="#ffcc00"/><rect x="544.4" y="437.8" width="12.8" height="13.1" fill="#ffcc00"/><rect x="360.9" y="450.3" width="12.8" height="13.1" fill="#e60000"/><rect x="373.2" y="450.3" width="12.8" height="13.1" fill="#e60000"/><rect x="385.4" y="450.3" width="12.8" height="13.1" fill="#e60000"/><rect x="397.6" y="450.3" width="12.8" height="13.1" fill="#ffa000"/><rect x="409.9" y="450.3" width="12.8" height="13.1" fill="#ff6400"/><rect x="422.1" y="450.3" width="12.8" height="13.1" fill="#f82000"/><rect x="434.3" y="450.3" width="12.8" height="13.1" fill="#ffa000"/><rect x="446.6" y="450.3" width="12.8" height="13.1" fill="#ffcc00"/><rect x="458.8" y="450.3" width="12.8" height="13.1" fill="#ffcc00"/><rect x="471.0" y="450.3" width="12.8" height="13.1" fill="#fffa00"/><rect x="483.3" y="450.3" width="12.8" height="13.1" fill="#84ff94"/><rect x="495.5" y="450.3" width="12.8" height="13.1" fill="#ff6400"/><rect x="507.7" y="450.3" width="12.8" height="13.1" fill="#ffa000"/><rect x="520.0" y="450.3" width="12.8" height="13.1" fill="#ffa000"/><rect x="532.2" y="450.3" width="12.8" height="13.1" fill="#ffa000"/><rect x="544.4" y="450.3" width="12.8" height="13.1" fill="#ffa000"/><rect x="360.9" y="462.9" width="12.8" height="13.1" fill="#e60000"/><rect x="373.2" y="462.9" width="12.8" height="13.1" fill="#e60000"/><rect x="385.4" y="462.9" width="12.8" height="13.1" fill="#e60000"/><rect x="397.6" y="462.9" width="12.8" height="13.1" fill="#ffa000"/><rect x="409.9" y="462.9" width="12.8" height="13.1" fill="#f82000"/><rect x="422.1" y="462.9" width="12.8" height="13.1" fill="#ff6400"/><rect x="434.3" y="462.9" width="12.8" height="13.1" fill="#ffcc00"/><rect x="446.6" y="462.9" width="12.8" height="13.1" fill="#ffcc00"/><rect x="458.8" y="462.9" width="12.8" height="13.1" fill="#ffcc00"/><rect x="471.0" y="462.9" width="12.8" height="13.1" fill="#ffcc00"/><rect x="483.3" y="462.9" width="12.8" height="13.1" fill="#84ff94"/><rect x="495.5" y="462.9" width="12.8" height="13.1" fill="#ff6400"/><rect x="507.7" y="462.9" width="12.8" height="13.1" fill="#ffa000"/><rect x="520.0" y="462.9" width="12.8" height="13.1" fill="#ffa000"/><rect x="532.2" y="462.9" width="12.8" height="13.1" fill="#ffa000"/><rect x="544.4" y="462.9" width="12.8" height="13.1" fill="#ffa000"/><rect x="360.9" y="475.4" width="12.8" height="13.1" fill="#e60000"/><rect x="373.2" y="475.4" width="12.8" height="13.1" fill="#e60000"/><rect x="385.4" y="475.4" width="12.8" height="13.1" fill="#e60000"/><rect x="397.6" y="475.4" width="12.8" height="13.1" fill="#e60000"/><rect x="409.9" y="475.4" width="12.8" height="13.1" fill="#ffa000"/><rect x="422.1" y="475.4" width="12.8" height="13.1" fill="#ffcc00"/><rect x="434.3" y="475.4" width="12.8" height="13.1" fill="#ffcc00"/><rect x="446.6" y="475.4" width="12.8" height="13.1" fill="#ffcc00"/><rect x="458.8" y="475.4" width="12.8" height="13.1" fill="#ffcc00"/><rect x="471.0" y="475.4" width="12.8" height="13.1" fill="#c4ff40"/><rect x="483.3" y="475.4" width="12.8" height="13.1" fill="#84ff94"/><rect x="495.5" y="475.4" width="12.8" height="13.1" fill="#ff6400"/><rect x="507.7" y="475.4" width="12.8" height="13.1" fill="#ffa000"/><rect x="520.0" y="475.4" width="12.8" height="13.1" fill="#ffa000"/><rect x="532.2" y="475.4" width="12.8" height="13.1" fill="#ffa000"/><rect x="544.4" y="475.4" width="12.8" height="13.1" fill="#ffa000"/><rect x="360.9" y="487.9" width="12.8" height="13.1" fill="#f82000"/><rect x="373.2" y="487.9" width="12.8" height="13.1" fill="#f82000"/><rect x="385.4" y="487.9" width="12.8" height="13.1" fill="#f82000"/><rect x="397.6" y="487.9" width="12.8" height="13.1" fill="#ff6400"/><rect x="409.9" y="487.9" width="12.8" height="13.1" fill="#ffa000"/><rect x="422.1" y="487.9" width="12.8" height="13.1" fill="#ffcc00"/><rect x="434.3" y="487.9" width="12.8" height="13.1" fill="#ffcc00"/><rect x="446.6" y="487.9" width="12.8" height="13.1" fill="#ffcc00"/><rect x="458.8" y="487.9" width="12.8" height="13.1" fill="#ffcc00"/><rect x="471.0" y="487.9" width="12.8" height="13.1" fill="#ffcc00"/><rect x="483.3" y="487.9" width="12.8" height="13.1" fill="#fffa00"/><rect x="495.5" y="487.9" width="12.8" height="13.1" fill="#f82000"/><rect x="507.7" y="487.9" width="12.8" height="13.1" fill="#ffa000"/><rect x="520.0" y="487.9" width="12.8" height="13.1" fill="#ffcc00"/><rect x="532.2" y="487.9" width="12.8" height="13.1" fill="#ffcc00"/><rect x="544.4" y="487.9" width="12.8" height="13.1" fill="#ffcc00"/><rect x="360.9" y="500.5" width="12.8" height="13.1" fill="#ffa000"/><rect x="373.2" y="500.5" width="12.8" height="13.1" fill="#ffa000"/><rect x="385.4" y="500.5" width="12.8" height="13.1" fill="#ffa000"/><rect x="397.6" y="500.5" width="12.8" height="13.1" fill="#ffcc00"/><rect x="409.9" y="500.5" width="12.8" height="13.1" fill="#fffa00"/><rect x="422.1" y="500.5" width="12.8" height="13.1" fill="#ffcc00"/><rect x="434.3" y="500.5" width="12.8" height="13.1" fill="#fffa00"/><rect x="446.6" y="500.5" width="12.8" height="13.1" fill="#ffcc00"/><rect x="458.8" y="500.5" width="12.8" height="13.1" fill="#fffa00"/><rect x="471.0" y="500.5" width="12.8" height="13.1" fill="#ffcc00"/><rect x="483.3" y="500.5" width="12.8" height="13.1" fill="#fffa00"/><rect x="495.5" y="500.5" width="12.8" height="13.1" fill="#84ff94"/><rect x="507.7" y="500.5" width="12.8" height="13.1" fill="#80fcfc"/><rect x="520.0" y="500.5" width="12.8" height="13.1" fill="#80fcfc"/><rect x="532.2" y="500.5" width="12.8" height="13.1" fill="#80fcfc"/><rect x="544.4" y="500.5" width="12.8" height="13.1" fill="#80fcfc"/><rect x="360.9" y="513.0" width="12.8" height="13.1" fill="#fffa00"/><rect x="373.2" y="513.0" width="12.8" height="13.1" fill="#fffa00"/><rect x="385.4" y="513.0" width="12.8" height="13.1" fill="#fffa00"/><rect x="397.6" y="513.0" width="12.8" height="13.1" fill="#c4ff40"/><rect x="409.9" y="513.0" width="12.8" height="13.1" fill="#ffcc00"/><rect x="422.1" y="513.0" width="12.8" height="13.1" fill="#fffa00"/><rect x="434.3" y="513.0" width="12.8" height="13.1" fill="#ffcc00"/><rect x="446.6" y="513.0" width="12.8" height="13.1" fill="#ffcc00"/><rect x="458.8" y="513.0" width="12.8" height="13.1" fill="#fffa00"/><rect x="471.0" y="513.0" width="12.8" height="13.1" fill="#ffcc00"/><rect x="483.3" y="513.0" width="12.8" height="13.1" fill="#80fcfc"/><rect x="495.5" y="513.0" width="12.8" height="13.1" fill="#80fcfc"/><rect x="507.7" y="513.0" width="12.8" height="13.1" fill="#80fcfc"/><rect x="520.0" y="513.0" width="12.8" height="13.1" fill="#80fcfc"/><rect x="532.2" y="513.0" width="12.8" height="13.1" fill="#80fcfc"/><rect x="544.4" y="513.0" width="12.8" height="13.1" fill="#80fcfc"/><rect x="360.9" y="525.5" width="12.8" height="13.1" fill="#fffa00"/><rect x="373.2" y="525.5" width="12.8" height="13.1" fill="#fffa00"/><rect x="385.4" y="525.5" width="12.8" height="13.1" fill="#fffa00"/><rect x="397.6" y="525.5" width="12.8" height="13.1" fill="#80fcfc"/><rect x="409.9" y="525.5" width="12.8" height="13.1" fill="#fffa00"/><rect x="422.1" y="525.5" width="12.8" height="13.1" fill="#ffcc00"/><rect x="434.3" y="525.5" width="12.8" height="13.1" fill="#ffcc00"/><rect x="446.6" y="525.5" width="12.8" height="13.1" fill="#fffa00"/><rect x="458.8" y="525.5" width="12.8" height="13.1" fill="#ffcc00"/><rect x="471.0" y="525.5" width="12.8" height="13.1" fill="#fffa00"/><rect x="483.3" y="525.5" width="12.8" height="13.1" fill="#80fcfc"/><rect x="495.5" y="525.5" width="12.8" height="13.1" fill="#80fcfc"/><rect x="507.7" y="525.5" width="12.8" height="13.1" fill="#80fcfc"/><rect x="520.0" y="525.5" width="12.8" height="13.1" fill="#80fcfc"/><rect x="532.2" y="525.5" width="12.8" height="13.1" fill="#80fcfc"/><rect x="544.4" y="525.5" width="12.8" height="13.1" fill="#80fcfc"/><rect x="360.9" y="538.1" width="12.8" height="13.1" fill="#84ff94"/><rect x="373.2" y="538.1" width="12.8" height="13.1" fill="#84ff94"/><rect x="385.4" y="538.1" width="12.8" height="13.1" fill="#84ff94"/><rect x="397.6" y="538.1" width="12.8" height="13.1" fill="#80fcfc"/><rect x="409.9" y="538.1" width="12.8" height="13.1" fill="#84ff94"/><rect x="422.1" y="538.1" width="12.8" height="13.1" fill="#fffa00"/><rect x="434.3" y="538.1" width="12.8" height="13.1" fill="#ffcc00"/><rect x="446.6" y="538.1" width="12.8" height="13.1" fill="#ffcc00"/><rect x="458.8" y="538.1" width="12.8" height="13.1" fill="#fffa00"/><rect x="471.0" y="538.1" width="12.8" height="13.1" fill="#84ff94"/><rect x="483.3" y="538.1" width="12.8" height="13.1" fill="#80fcfc"/><rect x="495.5" y="538.1" width="12.8" height="13.1" fill="#80fcfc"/><rect x="507.7" y="538.1" width="12.8" height="13.1" fill="#80fcfc"/><rect x="520.0" y="538.1" width="12.8" height="13.1" fill="#a0e0ff"/><rect x="532.2" y="538.1" width="12.8" height="13.1" fill="#a0e0ff"/><rect x="544.4" y="538.1" width="12.8" height="13.1" fill="#a0e0ff"/><rect x="360.9" y="550.6" width="12.8" height="13.1" fill="#84ff94"/><rect x="373.2" y="550.6" width="12.8" height="13.1" fill="#84ff94"/><rect x="385.4" y="550.6" width="12.8" height="13.1" fill="#84ff94"/><rect x="397.6" y="550.6" width="12.8" height="13.1" fill="#80fcfc"/><rect x="409.9" y="550.6" width="12.8" height="13.1" fill="#84ff94"/><rect x="422.1" y="550.6" width="12.8" height="13.1" fill="#fffa00"/><rect x="434.3" y="550.6" width="12.8" height="13.1" fill="#ffcc00"/><rect x="446.6" y="550.6" width="12.8" height="13.1" fill="#ffcc00"/><rect x="458.8" y="550.6" width="12.8" height="13.1" fill="#fffa00"/><rect x="471.0" y="550.6" width="12.8" height="13.1" fill="#84ff94"/><rect x="483.3" y="550.6" width="12.8" height="13.1" fill="#80fcfc"/><rect x="495.5" y="550.6" width="12.8" height="13.1" fill="#80fcfc"/><rect x="507.7" y="550.6" width="12.8" height="13.1" fill="#80fcfc"/><rect x="520.0" y="550.6" width="12.8" height="13.1" fill="#a0e0ff"/><rect x="532.2" y="550.6" width="12.8" height="13.1" fill="#a0e0ff"/><rect x="544.4" y="550.6" width="12.8" height="13.1" fill="#a0e0ff"/><rect x="360.9" y="563.1" width="12.8" height="13.1" fill="#84ff94"/><rect x="373.2" y="563.1" width="12.8" height="13.1" fill="#84ff94"/><rect x="385.4" y="563.1" width="12.8" height="13.1" fill="#84ff94"/><rect x="397.6" y="563.1" width="12.8" height="13.1" fill="#80fcfc"/><rect x="409.9" y="563.1" width="12.8" height="13.1" fill="#84ff94"/><rect x="422.1" y="563.1" width="12.8" height="13.1" fill="#fffa00"/><rect x="434.3" y="563.1" width="12.8" height="13.1" fill="#ffcc00"/><rect x="446.6" y="563.1" width="12.8" height="13.1" fill="#ffcc00"/><rect x="458.8" y="563.1" width="12.8" height="13.1" fill="#fffa00"/><rect x="471.0" y="563.1" width="12.8" height="13.1" fill="#84ff94"/><rect x="483.3" y="563.1" width="12.8" height="13.1" fill="#80fcfc"/><rect x="495.5" y="563.1" width="12.8" height="13.1" fill="#80fcfc"/><rect x="507.7" y="563.1" width="12.8" height="13.1" fill="#80fcfc"/><rect x="520.0" y="563.1" width="12.8" height="13.1" fill="#a0e0ff"/><rect x="532.2" y="563.1" width="12.8" height="13.1" fill="#a0e0ff"/><rect x="544.4" y="563.1" width="12.8" height="13.1" fill="#a0e0ff"/></g><g>
<ellipse cx="404" cy="447" rx="17" ry="15" fill="url(#rg2)"/>
<ellipse cx="425.5" cy="468.5" rx="14" ry="13" fill="url(#rg1)"/>
<g filter="url(#sb15)">
<path d="M386 455 L393 455 L394 476 L386 477 Z" fill="#d00000"/>
<path d="M391.5 476 L398.8 476 L398 501 L392 501 Z" fill="#dc0000"/>
<path d="M402.5 478 L409.8 478 L409 500 L403 500 Z" fill="#e00000"/>
</g>
<circle cx="403.4" cy="466.8" r="2.5" fill="#fff000" filter="url(#sb1)"/>
<path d="M445 425 L451 454" stroke="#f82000" stroke-width="3" fill="none" filter="url(#sb2)"/>
<path d="M438 440 L446 452" stroke="#ff4000" stroke-width="3" fill="none" filter="url(#sb2)"/>
<path d="M500 438 L490 500" stroke="#f01000" stroke-width="2.6" fill="none" filter="url(#sb15)"/>
</g>
</g>
<g clip-path="url(#c13)">
<g filter="url(#fp13)"><rect x="512.3" y="299.9" width="12.9" height="13.1" fill="#c0c8ff"/><rect x="524.5" y="299.9" width="12.9" height="13.1" fill="#c0c8ff"/><rect x="536.8" y="299.9" width="12.9" height="13.1" fill="#c0c8ff"/><rect x="549.1" y="299.9" width="12.9" height="13.1" fill="#ffcc00"/><rect x="561.4" y="299.9" width="12.9" height="13.1" fill="#c0c8ff"/><rect x="573.6" y="299.9" width="12.9" height="13.1" fill="#c0c8ff"/><rect x="585.9" y="299.9" width="12.9" height="13.1" fill="#c0c8ff"/><rect x="598.2" y="299.9" width="12.9" height="13.1" fill="#c0c8ff"/><rect x="610.5" y="299.9" width="12.9" height="13.1" fill="#80fcfc"/><rect x="622.7" y="299.9" width="12.9" height="13.1" fill="#80fcfc"/><rect x="635.0" y="299.9" width="12.9" height="13.1" fill="#c0c8ff"/><rect x="647.3" y="299.9" width="12.9" height="13.1" fill="#c0c8ff"/><rect x="659.6" y="299.9" width="12.9" height="13.1" fill="#c0c8ff"/><rect x="671.8" y="299.9" width="12.9" height="13.1" fill="#c0c8ff"/><rect x="684.1" y="299.9" width="12.9" height="13.1" fill="#c0c8ff"/><rect x="696.4" y="299.9" width="12.9" height="13.1" fill="#c0c8ff"/><rect x="512.3" y="312.5" width="12.9" height="13.1" fill="#c0c8ff"/><rect x="524.5" y="312.5" width="12.9" height="13.1" fill="#c0c8ff"/><rect x="536.8" y="312.5" width="12.9" height="13.1" fill="#c0c8ff"/><rect x="549.1" y="312.5" width="12.9" height="13.1" fill="#ffcc00"/><rect x="561.4" y="312.5" width="12.9" height="13.1" fill="#c0c8ff"/><rect x="573.6" y="312.5" width="12.9" height="13.1" fill="#c0c8ff"/><rect x="585.9" y="312.5" width="12.9" height="13.1" fill="#c0c8ff"/><rect x="598.2" y="312.5" width="12.9" height="13.1" fill="#c0c8ff"/><rect x="610.5" y="312.5" width="12.9" height="13.1" fill="#80fcfc"/><rect x="622.7" y="312.5" width="12.9" height="13.1" fill="#80fcfc"/><rect x="635.0" y="312.5" width="12.9" height="13.1" fill="#c0c8ff"/><rect x="647.3" y="312.5" width="12.9" height="13.1" fill="#c0c8ff"/><rect x="659.6" y="312.5" width="12.9" height="13.1" fill="#c0c8ff"/><rect x="671.8" y="312.5" width="12.9" height="13.1" fill="#c0c8ff"/><rect x="684.1" y="312.5" width="12.9" height="13.1" fill="#c0c8ff"/><rect x="696.4" y="312.5" width="12.9" height="13.1" fill="#c0c8ff"/><rect x="512.3" y="325.0" width="12.9" height="13.1" fill="#c0c8ff"/><rect x="524.5" y="325.0" width="12.9" height="13.1" fill="#c0c8ff"/><rect x="536.8" y="325.0" width="12.9" height="13.1" fill="#c0c8ff"/><rect x="549.1" y="325.0" width="12.9" height="13.1" fill="#ffcc00"/><rect x="561.4" y="325.0" width="12.9" height="13.1" fill="#c0c8ff"/><rect x="573.6" y="325.0" width="12.9" height="13.1" fill="#c0c8ff"/><rect x="585.9" y="325.0" width="12.9" height="13.1" fill="#c0c8ff"/><rect x="598.2" y="325.0" width="12.9" height="13.1" fill="#c0c8ff"/><rect x="610.5" y="325.0" width="12.9" height="13.1" fill="#80fcfc"/><rect x="622.7" y="325.0" width="12.9" height="13.1" fill="#80fcfc"/><rect x="635.0" y="325.0" width="12.9" height="13.1" fill="#c0c8ff"/><rect x="647.3" y="325.0" width="12.9" height="13.1" fill="#c0c8ff"/><rect x="659.6" y="325.0" width="12.9" height="13.1" fill="#c0c8ff"/><rect x="671.8" y="325.0" width="12.9" height="13.1" fill="#c0c8ff"/><rect x="684.1" y="325.0" width="12.9" height="13.1" fill="#c0c8ff"/><rect x="696.4" y="325.0" width="12.9" height="13.1" fill="#c0c8ff"/><rect x="512.3" y="337.5" width="12.9" height="13.1" fill="#c0c8ff"/><rect x="524.5" y="337.5" width="12.9" height="13.1" fill="#c0c8ff"/><rect x="536.8" y="337.5" width="12.9" height="13.1" fill="#c0c8ff"/><rect x="549.1" y="337.5" width="12.9" height="13.1" fill="#80fcfc"/><rect x="561.4" y="337.5" width="12.9" height="13.1" fill="#c0c8ff"/><rect x="573.6" y="337.5" width="12.9" height="13.1" fill="#80fcfc"/><rect x="585.9" y="337.5" width="12.9" height="13.1" fill="#80fcfc"/><rect x="598.2" y="337.5" width="12.9" height="13.1" fill="#80fcfc"/><rect x="610.5" y="337.5" width="12.9" height="13.1" fill="#80fcfc"/><rect x="622.7" y="337.5" width="12.9" height="13.1" fill="#84ff94"/><rect x="635.0" y="337.5" width="12.9" height="13.1" fill="#c0c8ff"/><rect x="647.3" y="337.5" width="12.9" height="13.1" fill="#c0c8ff"/><rect x="659.6" y="337.5" width="12.9" height="13.1" fill="#c0c8ff"/><rect x="671.8" y="337.5" width="12.9" height="13.1" fill="#c0c8ff"/><rect x="684.1" y="337.5" width="12.9" height="13.1" fill="#c0c8ff"/><rect x="696.4" y="337.5" width="12.9" height="13.1" fill="#c0c8ff"/><rect x="512.3" y="350.1" width="12.9" height="13.1" fill="#80fcfc"/><rect x="524.5" y="350.1" width="12.9" height="13.1" fill="#80fcfc"/><rect x="536.8" y="350.1" width="12.9" height="13.1" fill="#80fcfc"/><rect x="549.1" y="350.1" width="12.9" height="13.1" fill="#80fcfc"/><rect x="561.4" y="350.1" width="12.9" height="13.1" fill="#80fcfc"/><rect x="573.6" y="350.1" width="12.9" height="13.1" fill="#80fcfc"/><rect x="585.9" y="350.1" width="12.9" height="13.1" fill="#80fcfc"/><rect x="598.2" y="350.1" width="12.9" height="13.1" fill="#80fcfc"/><rect x="610.5" y="350.1" width="12.9" height="13.1" fill="#84ff94"/><rect x="622.7" y="350.1" width="12.9" height="13.1" fill="#fffa00"/><rect x="635.0" y="350.1" width="12.9" height="13.1" fill="#80fcfc"/><rect x="647.3" y="350.1" width="12.9" height="13.1" fill="#80fcfc"/><rect x="659.6" y="350.1" width="12.9" height="13.1" fill="#c0c8ff"/><rect x="671.8" y="350.1" width="12.9" height="13.1" fill="#c0c8ff"/><rect x="684.1" y="350.1" width="12.9" height="13.1" fill="#c0c8ff"/><rect x="696.4" y="350.1" width="12.9" height="13.1" fill="#c0c8ff"/><rect x="512.3" y="362.6" width="12.9" height="13.1" fill="#c0c8ff"/><rect x="524.5" y="362.6" width="12.9" height="13.1" fill="#c0c8ff"/><rect x="536.8" y="362.6" width="12.9" height="13.1" fill="#c0c8ff"/><rect x="549.1" y="362.6" width="12.9" height="13.1" fill="#80fcfc"/><rect x="561.4" y="362.6" width="12.9" height="13.1" fill="#80fcfc"/><rect x="573.6" y="362.6" width="12.9" height="13.1" fill="#80fcfc"/><rect x="585.9" y="362.6" width="12.9" height="13.1" fill="#80fcfc"/><rect x="598.2" y="362.6" width="12.9" height="13.1" fill="#84ff94"/><rect x="610.5" y="362.6" width="12.9" height="13.1" fill="#fffa00"/><rect x="622.7" y="362.6" width="12.9" height="13.1" fill="#ffcc00"/><rect x="635.0" y="362.6" width="12.9" height="13.1" fill="#80fcfc"/><rect x="647.3" y="362.6" width="12.9" height="13.1" fill="#80fcfc"/><rect x="659.6" y="362.6" width="12.9" height="13.1" fill="#c0c8ff"/><rect x="671.8" y="362.6" width="12.9" height="13.1" fill="#c0c8ff"/><rect x="684.1" y="362.6" width="12.9" height="13.1" fill="#c0c8ff"/><rect x="696.4" y="362.6" width="12.9" height="13.1" fill="#c0c8ff"/><rect x="512.3" y="375.1" width="12.9" height="13.1" fill="#80fcfc"/><rect x="524.5" y="375.1" width="12.9" height="13.1" fill="#80fcfc"/><rect x="536.8" y="375.1" width="12.9" height="13.1" fill="#80fcfc"/><rect x="549.1" y="375.1" width="12.9" height="13.1" fill="#fffa00"/><rect x="561.4" y="375.1" width="12.9" height="13.1" fill="#ff6400"/><rect x="573.6" y="375.1" width="12.9" height="13.1" fill="#80fcfc"/><rect x="585.9" y="375.1" width="12.9" height="13.1" fill="#ffcc00"/><rect x="598.2" y="375.1" width="12.9" height="13.1" fill="#84ff94"/><rect x="610.5" y="375.1" width="12.9" height="13.1" fill="#fffa00"/><rect x="622.7" y="375.1" width="12.9" height="13.1" fill="#fffa00"/><rect x="635.0" y="375.1" width="12.9" height="13.1" fill="#80fcfc"/><rect x="647.3" y="375.1" width="12.9" height="13.1" fill="#80fcfc"/><rect x="659.6" y="375.1" width="12.9" height="13.1" fill="#c0c8ff"/><rect x="671.8" y="375.1" width="12.9" height="13.1" fill="#c0c8ff"/><rect x="684.1" y="375.1" width="12.9" height="13.1" fill="#c0c8ff"/><rect x="696.4" y="375.1" width="12.9" height="13.1" fill="#c0c8ff"/><rect x="512.3" y="387.7" width="12.9" height="13.1" fill="#ffcc00"/><rect x="524.5" y="387.7" width="12.9" height="13.1" fill="#ffcc00"/><rect x="536.8" y="387.7" width="12.9" height="13.1" fill="#ffcc00"/><rect x="549.1" y="387.7" width="12.9" height="13.1" fill="#f82000"/><rect x="561.4" y="387.7" width="12.9" height="13.1" fill="#f82000"/><rect x="573.6" y="387.7" width="12.9" height="13.1" fill="#ffcc00"/><rect x="585.9" y="387.7" width="12.9" height="13.1" fill="#ffa000"/><rect x="598.2" y="387.7" width="12.9" height="13.1" fill="#c4ff40"/><rect x="610.5" y="387.7" width="12.9" height="13.1" fill="#fffa00"/><rect x="622.7" y="387.7" width="12.9" height="13.1" fill="#fffa00"/><rect x="635.0" y="387.7" width="12.9" height="13.1" fill="#84ff94"/><rect x="647.3" y="387.7" width="12.9" height="13.1" fill="#80fcfc"/><rect x="659.6" y="387.7" width="12.9" height="13.1" fill="#c0c8ff"/><rect x="671.8" y="387.7" width="12.9" height="13.1" fill="#c0c8ff"/><rect x="684.1" y="387.7" width="12.9" height="13.1" fill="#c0c8ff"/><rect x="696.4" y="387.7" width="12.9" height="13.1" fill="#c0c8ff"/><rect x="512.3" y="400.2" width="12.9" height="13.1" fill="#f82000"/><rect x="524.5" y="400.2" width="12.9" height="13.1" fill="#f82000"/><rect x="536.8" y="400.2" width="12.9" height="13.1" fill="#f82000"/><rect x="549.1" y="400.2" width="12.9" height="13.1" fill="#e60000"/><rect x="561.4" y="400.2" width="12.9" height="13.1" fill="#e60000"/><rect x="573.6" y="400.2" width="12.9" height="13.1" fill="#80fcfc"/><rect x="585.9" y="400.2" width="12.9" height="13.1" fill="#84ff94"/><rect x="598.2" y="400.2" width="12.9" height="13.1" fill="#fffa00"/><rect x="610.5" y="400.2" width="12.9" height="13.1" fill="#fffa00"/><rect x="622.7" y="400.2" width="12.9" height="13.1" fill="#c4ff40"/><rect x="635.0" y="400.2" width="12.9" height="13.1" fill="#84ff94"/><rect x="647.3" y="400.2" width="12.9" height="13.1" fill="#80fcfc"/><rect x="659.6" y="400.2" width="12.9" height="13.1" fill="#c0c8ff"/><rect x="671.8" y="400.2" width="12.9" height="13.1" fill="#c0c8ff"/><rect x="684.1" y="400.2" width="12.9" height="13.1" fill="#c0c8ff"/><rect x="696.4" y="400.2" width="12.9" height="13.1" fill="#c0c8ff"/><rect x="512.3" y="412.7" width="12.9" height="13.1" fill="#e60000"/><rect x="524.5" y="412.7" width="12.9" height="13.1" fill="#e60000"/><rect x="536.8" y="412.7" width="12.9" height="13.1" fill="#e60000"/><rect x="549.1" y="412.7" width="12.9" height="13.1" fill="#e60000"/><rect x="561.4" y="412.7" width="12.9" height="13.1" fill="#e60000"/><rect x="573.6" y="412.7" width="12.9" height="13.1" fill="#e60000"/><rect x="585.9" y="412.7" width="12.9" height="13.1" fill="#84ff94"/><rect x="598.2" y="412.7" width="12.9" height="13.1" fill="#fffa00"/><rect x="610.5" y="412.7" width="12.9" height="13.1" fill="#fffa00"/><rect x="622.7" y="412.7" width="12.9" height="13.1" fill="#ffcc00"/><rect x="635.0" y="412.7" width="12.9" height="13.1" fill="#fffa00"/><rect x="647.3" y="412.7" width="12.9" height="13.1" fill="#80fcfc"/><rect x="659.6" y="412.7" width="12.9" height="13.1" fill="#80fcfc"/><rect x="671.8" y="412.7" width="12.9" height="13.1" fill="#c0c8ff"/><rect x="684.1" y="412.7" width="12.9" height="13.1" fill="#c0c8ff"/><rect x="696.4" y="412.7" width="12.9" height="13.1" fill="#c0c8ff"/><rect x="512.3" y="425.3" width="12.9" height="13.1" fill="#e60000"/><rect x="524.5" y="425.3" width="12.9" height="13.1" fill="#e60000"/><rect x="536.8" y="425.3" width="12.9" height="13.1" fill="#e60000"/><rect x="549.1" y="425.3" width="12.9" height="13.1" fill="#e60000"/><rect x="561.4" y="425.3" width="12.9" height="13.1" fill="#e60000"/><rect x="573.6" y="425.3" width="12.9" height="13.1" fill="#fffa00"/><rect x="585.9" y="425.3" width="12.9" height="13.1" fill="#ffcc00"/><rect x="598.2" y="425.3" width="12.9" height="13.1" fill="#ffcc00"/><rect x="610.5" y="425.3" width="12.9" height="13.1" fill="#ffa000"/><rect x="622.7" y="425.3" width="12.9" height="13.1" fill="#ffcc00"/><rect x="635.0" y="425.3" width="12.9" height="13.1" fill="#fffa00"/><rect x="647.3" y="425.3" width="12.9" height="13.1" fill="#84ff94"/><rect x="659.6" y="425.3" width="12.9" height="13.1" fill="#c4ff40"/><rect x="671.8" y="425.3" width="12.9" height="13.1" fill="#c0c8ff"/><rect x="684.1" y="425.3" width="12.9" height="13.1" fill="#c0c8ff"/><rect x="696.4" y="425.3" width="12.9" height="13.1" fill="#c0c8ff"/><rect x="512.3" y="437.8" width="12.9" height="13.1" fill="#e60000"/><rect x="524.5" y="437.8" width="12.9" height="13.1" fill="#e60000"/><rect x="536.8" y="437.8" width="12.9" height="13.1" fill="#e60000"/><rect x="549.1" y="437.8" width="12.9" height="13.1" fill="#e60000"/><rect x="561.4" y="437.8" width="12.9" height="13.1" fill="#e60000"/><rect x="573.6" y="437.8" width="12.9" height="13.1" fill="#e60000"/><rect x="585.9" y="437.8" width="12.9" height="13.1" fill="#f82000"/><rect x="598.2" y="437.8" width="12.9" height="13.1" fill="#f82000"/><rect x="610.5" y="437.8" width="12.9" height="13.1" fill="#e60000"/><rect x="622.7" y="437.8" width="12.9" height="13.1" fill="#ff6400"/><rect x="635.0" y="437.8" width="12.9" height="13.1" fill="#ffcc00"/><rect x="647.3" y="437.8" width="12.9" height="13.1" fill="#80fcfc"/><rect x="659.6" y="437.8" width="12.9" height="13.1" fill="#c0c8ff"/><rect x="671.8" y="437.8" width="12.9" height="13.1" fill="#c0c8ff"/><rect x="684.1" y="437.8" width="12.9" height="13.1" fill="#c0c8ff"/><rect x="696.4" y="437.8" width="12.9" height="13.1" fill="#c0c8ff"/><rect x="512.3" y="450.3" width="12.9" height="13.1" fill="#e60000"/><rect x="524.5" y="450.3" width="12.9" height="13.1" fill="#e60000"/><rect x="536.8" y="450.3" width="12.9" height="13.1" fill="#e60000"/><rect x="549.1" y="450.3" width="12.9" height="13.1" fill="#b00000"/><rect x="561.4" y="450.3" width="12.9" height="13.1" fill="#b00000"/><rect x="573.6" y="450.3" width="12.9" height="13.1" fill="#e60000"/><rect x="585.9" y="450.3" width="12.9" height="13.1" fill="#e60000"/><rect x="598.2" y="450.3" width="12.9" height="13.1" fill="#e60000"/><rect x="610.5" y="450.3" width="12.9" height="13.1" fill="#e60000"/><rect x="622.7" y="450.3" width="12.9" height="13.1" fill="#f82000"/><rect x="635.0" y="450.3" width="12.9" height="13.1" fill="#ffcc00"/><rect x="647.3" y="450.3" width="12.9" height="13.1" fill="#80fcfc"/><rect x="659.6" y="450.3" width="12.9" height="13.1" fill="#c0c8ff"/><rect x="671.8" y="450.3" width="12.9" height="13.1" fill="#c0c8ff"/><rect x="684.1" y="450.3" width="12.9" height="13.1" fill="#c0c8ff"/><rect x="696.4" y="450.3" width="12.9" height="13.1" fill="#c0c8ff"/><rect x="512.3" y="462.9" width="12.9" height="13.1" fill="#e60000"/><rect x="524.5" y="462.9" width="12.9" height="13.1" fill="#e60000"/><rect x="536.8" y="462.9" width="12.9" height="13.1" fill="#e60000"/><rect x="549.1" y="462.9" width="12.9" height="13.1" fill="#e60000"/><rect x="561.4" y="462.9" width="12.9" height="13.1" fill="#b00000"/><rect x="573.6" y="462.9" width="12.9" height="13.1" fill="#e60000"/><rect x="585.9" y="462.9" width="12.9" height="13.1" fill="#e60000"/><rect x="598.2" y="462.9" width="12.9" height="13.1" fill="#e60000"/><rect x="610.5" y="462.9" width="12.9" height="13.1" fill="#e60000"/><rect x="622.7" y="462.9" width="12.9" height="13.1" fill="#ff6400"/><rect x="635.0" y="462.9" width="12.9" height="13.1" fill="#ffcc00"/><rect x="647.3" y="462.9" width="12.9" height="13.1" fill="#84ff94"/><rect x="659.6" y="462.9" width="12.9" height="13.1" fill="#c0c8ff"/><rect x="671.8" y="462.9" width="12.9" height="13.1" fill="#c0c8ff"/><rect x="684.1" y="462.9" width="12.9" height="13.1" fill="#c0c8ff"/><rect x="696.4" y="462.9" width="12.9" height="13.1" fill="#c0c8ff"/><rect x="512.3" y="475.4" width="12.9" height="13.1" fill="#e60000"/><rect x="524.5" y="475.4" width="12.9" height="13.1" fill="#e60000"/><rect x="536.8" y="475.4" width="12.9" height="13.1" fill="#e60000"/><rect x="549.1" y="475.4" width="12.9" height="13.1" fill="#e60000"/><rect x="561.4" y="475.4" width="12.9" height="13.1" fill="#e60000"/><rect x="573.6" y="475.4" width="12.9" height="13.1" fill="#e60000"/><rect x="585.9" y="475.4" width="12.9" height="13.1" fill="#e60000"/><rect x="598.2" y="475.4" width="12.9" height="13.1" fill="#e60000"/><rect x="610.5" y="475.4" width="12.9" height="13.1" fill="#ff6400"/><rect x="622.7" y="475.4" width="12.9" height="13.1" fill="#ffa000"/><rect x="635.0" y="475.4" width="12.9" height="13.1" fill="#ffcc00"/><rect x="647.3" y="475.4" width="12.9" height="13.1" fill="#80fcfc"/><rect x="659.6" y="475.4" width="12.9" height="13.1" fill="#c0c8ff"/><rect x="671.8" y="475.4" width="12.9" height="13.1" fill="#c0c8ff"/><rect x="684.1" y="475.4" width="12.9" height="13.1" fill="#c0c8ff"/><rect x="696.4" y="475.4" width="12.9" height="13.1" fill="#c0c8ff"/><rect x="512.3" y="487.9" width="12.9" height="13.1" fill="#e60000"/><rect x="524.5" y="487.9" width="12.9" height="13.1" fill="#e60000"/><rect x="536.8" y="487.9" width="12.9" height="13.1" fill="#e60000"/><rect x="549.1" y="487.9" width="12.9" height="13.1" fill="#e60000"/><rect x="561.4" y="487.9" width="12.9" height="13.1" fill="#e60000"/><rect x="573.6" y="487.9" width="12.9" height="13.1" fill="#b00000"/><rect x="585.9" y="487.9" width="12.9" height="13.1" fill="#e60000"/><rect x="598.2" y="487.9" width="12.9" height="13.1" fill="#e60000"/><rect x="610.5" y="487.9" width="12.9" height="13.1" fill="#ffa000"/><rect x="622.7" y="487.9" width="12.9" height="13.1" fill="#ffcc00"/><rect x="635.0" y="487.9" width="12.9" height="13.1" fill="#fffa00"/><rect x="647.3" y="487.9" width="12.9" height="13.1" fill="#80fcfc"/><rect x="659.6" y="487.9" width="12.9" height="13.1" fill="#80fcfc"/><rect x="671.8" y="487.9" width="12.9" height="13.1" fill="#c0c8ff"/><rect x="684.1" y="487.9" width="12.9" height="13.1" fill="#c0c8ff"/><rect x="696.4" y="487.9" width="12.9" height="13.1" fill="#c0c8ff"/><rect x="512.3" y="500.5" width="12.9" height="13.1" fill="#e60000"/><rect x="524.5" y="500.5" width="12.9" height="13.1" fill="#e60000"/><rect x="536.8" y="500.5" width="12.9" height="13.1" fill="#e60000"/><rect x="549.1" y="500.5" width="12.9" height="13.1" fill="#e60000"/><rect x="561.4" y="500.5" width="12.9" height="13.1" fill="#f82000"/><rect x="573.6" y="500.5" width="12.9" height="13.1" fill="#ffcc00"/><rect x="585.9" y="500.5" width="12.9" height="13.1" fill="#e60000"/><rect x="598.2" y="500.5" width="12.9" height="13.1" fill="#f82000"/><rect x="610.5" y="500.5" width="12.9" height="13.1" fill="#fffa00"/><rect x="622.7" y="500.5" width="12.9" height="13.1" fill="#ffcc00"/><rect x="635.0" y="500.5" width="12.9" height="13.1" fill="#fffa00"/><rect x="647.3" y="500.5" width="12.9" height="13.1" fill="#ffcc00"/><rect x="659.6" y="500.5" width="12.9" height="13.1" fill="#fffa00"/><rect x="671.8" y="500.5" width="12.9" height="13.1" fill="#84ff94"/><rect x="684.1" y="500.5" width="12.9" height="13.1" fill="#84ff94"/><rect x="696.4" y="500.5" width="12.9" height="13.1" fill="#84ff94"/><rect x="512.3" y="513.0" width="12.9" height="13.1" fill="#e60000"/><rect x="524.5" y="513.0" width="12.9" height="13.1" fill="#e60000"/><rect x="536.8" y="513.0" width="12.9" height="13.1" fill="#e60000"/><rect x="549.1" y="513.0" width="12.9" height="13.1" fill="#e60000"/><rect x="561.4" y="513.0" width="12.9" height="13.1" fill="#ff6400"/><rect x="573.6" y="513.0" width="12.9" height="13.1" fill="#80fcfc"/><rect x="585.9" y="513.0" width="12.9" height="13.1" fill="#80fcfc"/><rect x="598.2" y="513.0" width="12.9" height="13.1" fill="#80fcfc"/><rect x="610.5" y="513.0" width="12.9" height="13.1" fill="#fffa00"/><rect x="622.7" y="513.0" width="12.9" height="13.1" fill="#fffa00"/><rect x="635.0" y="513.0" width="12.9" height="13.1" fill="#ffcc00"/><rect x="647.3" y="513.0" width="12.9" height="13.1" fill="#fffa00"/><rect x="659.6" y="513.0" width="12.9" height="13.1" fill="#c4ff40"/><rect x="671.8" y="513.0" width="12.9" height="13.1" fill="#80fcfc"/><rect x="684.1" y="513.0" width="12.9" height="13.1" fill="#80fcfc"/><rect x="696.4" y="513.0" width="12.9" height="13.1" fill="#80fcfc"/><rect x="512.3" y="525.5" width="12.9" height="13.1" fill="#e60000"/><rect x="524.5" y="525.5" width="12.9" height="13.1" fill="#e60000"/><rect x="536.8" y="525.5" width="12.9" height="13.1" fill="#e60000"/><rect x="549.1" y="525.5" width="12.9" height="13.1" fill="#e60000"/><rect x="561.4" y="525.5" width="12.9" height="13.1" fill="#ffa000"/><rect x="573.6" y="525.5" width="12.9" height="13.1" fill="#80fcfc"/><rect x="585.9" y="525.5" width="12.9" height="13.1" fill="#c0c8ff"/><rect x="598.2" y="525.5" width="12.9" height="13.1" fill="#80fcfc"/><rect x="610.5" y="525.5" width="12.9" height="13.1" fill="#fffa00"/><rect x="622.7" y="525.5" width="12.9" height="13.1" fill="#ffcc00"/><rect x="635.0" y="525.5" width="12.9" height="13.1" fill="#ffcc00"/><rect x="647.3" y="525.5" width="12.9" height="13.1" fill="#fffa00"/><rect x="659.6" y="525.5" width="12.9" height="13.1" fill="#fffa00"/><rect x="671.8" y="525.5" width="12.9" height="13.1" fill="#84ff94"/><rect x="684.1" y="525.5" width="12.9" height="13.1" fill="#84ff94"/><rect x="696.4" y="525.5" width="12.9" height="13.1" fill="#84ff94"/><rect x="512.3" y="538.1" width="12.9" height="13.1" fill="#f82000"/><rect x="524.5" y="538.1" width="12.9" height="13.1" fill="#f82000"/><rect x="536.8" y="538.1" width="12.9" height="13.1" fill="#f82000"/><rect x="549.1" y="538.1" width="12.9" height="13.1" fill="#e60000"/><rect x="561.4" y="538.1" width="12.9" height="13.1" fill="#ffcc00"/><rect x="573.6" y="538.1" width="12.9" height="13.1" fill="#c0c8ff"/><rect x="585.9" y="538.1" width="12.9" height="13.1" fill="#c0c8ff"/><rect x="598.2" y="538.1" width="12.9" height="13.1" fill="#c0c8ff"/><rect x="610.5" y="538.1" width="12.9" height="13.1" fill="#80fcfc"/><rect x="622.7" y="538.1" width="12.9" height="13.1" fill="#ffcc00"/><rect x="635.0" y="538.1" width="12.9" height="13.1" fill="#ffcc00"/><rect x="647.3" y="538.1" width="12.9" height="13.1" fill="#fffa00"/><rect x="659.6" y="538.1" width="12.9" height="13.1" fill="#c4ff40"/><rect x="671.8" y="538.1" width="12.9" height="13.1" fill="#84ff94"/><rect x="684.1" y="538.1" width="12.9" height="13.1" fill="#84ff94"/><rect x="696.4" y="538.1" width="12.9" height="13.1" fill="#84ff94"/><rect x="512.3" y="550.6" width="12.9" height="13.1" fill="#f82000"/><rect x="524.5" y="550.6" width="12.9" height="13.1" fill="#f82000"/><rect x="536.8" y="550.6" width="12.9" height="13.1" fill="#f82000"/><rect x="549.1" y="550.6" width="12.9" height="13.1" fill="#e60000"/><rect x="561.4" y="550.6" width="12.9" height="13.1" fill="#ffcc00"/><rect x="573.6" y="550.6" width="12.9" height="13.1" fill="#c0c8ff"/><rect x="585.9" y="550.6" width="12.9" height="13.1" fill="#c0c8ff"/><rect x="598.2" y="550.6" width="12.9" height="13.1" fill="#c0c8ff"/><rect x="610.5" y="550.6" width="12.9" height="13.1" fill="#80fcfc"/><rect x="622.7" y="550.6" width="12.9" height="13.1" fill="#ffcc00"/><rect x="635.0" y="550.6" width="12.9" height="13.1" fill="#ffcc00"/><rect x="647.3" y="550.6" width="12.9" height="13.1" fill="#fffa00"/><rect x="659.6" y="550.6" width="12.9" height="13.1" fill="#c4ff40"/><rect x="671.8" y="550.6" width="12.9" height="13.1" fill="#84ff94"/><rect x="684.1" y="550.6" width="12.9" height="13.1" fill="#84ff94"/><rect x="696.4" y="550.6" width="12.9" height="13.1" fill="#84ff94"/><rect x="512.3" y="563.1" width="12.9" height="13.1" fill="#f82000"/><rect x="524.5" y="563.1" width="12.9" height="13.1" fill="#f82000"/><rect x="536.8" y="563.1" width="12.9" height="13.1" fill="#f82000"/><rect x="549.1" y="563.1" width="12.9" height="13.1" fill="#e60000"/><rect x="561.4" y="563.1" width="12.9" height="13.1" fill="#ffcc00"/><rect x="573.6" y="563.1" width="12.9" height="13.1" fill="#c0c8ff"/><rect x="585.9" y="563.1" width="12.9" height="13.1" fill="#c0c8ff"/><rect x="598.2" y="563.1" width="12.9" height="13.1" fill="#c0c8ff"/><rect x="610.5" y="563.1" width="12.9" height="13.1" fill="#80fcfc"/><rect x="622.7" y="563.1" width="12.9" height="13.1" fill="#ffcc00"/><rect x="635.0" y="563.1" width="12.9" height="13.1" fill="#ffcc00"/><rect x="647.3" y="563.1" width="12.9" height="13.1" fill="#fffa00"/><rect x="659.6" y="563.1" width="12.9" height="13.1" fill="#c4ff40"/><rect x="671.8" y="563.1" width="12.9" height="13.1" fill="#84ff94"/><rect x="684.1" y="563.1" width="12.9" height="13.1" fill="#84ff94"/><rect x="696.4" y="563.1" width="12.9" height="13.1" fill="#84ff94"/></g><polygon points="538.0,403.3 544.0,400.3 550.1,394.2 556.2,385.1 559.2,382.1 568.3,382.1 575.8,388.2 577.3,400.3 581.9,409.3 583.4,415.4 578.9,421.5 580.4,430.5 588.0,436.6 594.0,445.7 601.6,451.7 609.1,445.7 612.2,451.7 616.7,457.8 622.7,463.8 624.3,472.9 619.7,482.0 612.2,486.5 609.1,497.1 603.1,506.2 594.0,515.3 586.4,512.3 577.3,506.2 568.3,503.2 563.7,512.3 562.2,527.4 562.2,539.5 556.2,552.0 538.0,552.0" fill="#e40000" filter="url(#sb1)"/>
<ellipse cx="556" cy="472" rx="22" ry="30" fill="#b00000" filter="url(#sb6)" opacity="0.6"/>
<ellipse cx="538" cy="510" rx="6" ry="40" fill="#c80000" filter="url(#sb3)" opacity="0.6"/>
</g>
<rect x="73.40" y="92.60" width="147.20" height="225.90" fill="none" stroke="#1c1c1c" stroke-width="1.25"/>
<rect x="225.30" y="92.60" width="147.00" height="225.90" fill="none" stroke="#1c1c1c" stroke-width="1.25"/>
<rect x="385.70" y="92.60" width="146.80" height="225.90" fill="none" stroke="#1c1c1c" stroke-width="1.25"/>
<rect x="537.10" y="92.60" width="147.30" height="225.90" fill="none" stroke="#1c1c1c" stroke-width="1.25"/>
<rect x="73.40" y="325.30" width="147.20" height="225.60" fill="none" stroke="#1c1c1c" stroke-width="1.25"/>
<rect x="225.30" y="325.30" width="147.00" height="225.60" fill="none" stroke="#1c1c1c" stroke-width="1.25"/>
<rect x="385.70" y="325.30" width="146.80" height="225.60" fill="none" stroke="#1c1c1c" stroke-width="1.25"/>
<rect x="537.10" y="325.30" width="147.30" height="225.60" fill="none" stroke="#1c1c1c" stroke-width="1.25"/>
<path d="M117.00 89.20V92.60M160.40 89.20V92.60M203.80 89.20V92.60M268.90 89.20V92.60M312.30 89.20V92.60M355.70 89.20V92.60M429.30 89.20V92.60M472.70 89.20V92.60M516.10 89.20V92.60M580.70 89.20V92.60M624.10 89.20V92.60M667.50 89.20V92.60M70.00 135.94H73.40M70.00 179.28H73.40M70.00 222.62H73.40M70.00 265.96H73.40M70.00 309.30H73.40M382.30 135.94H385.70M382.30 179.28H385.70M382.30 222.62H385.70M382.30 265.96H385.70M382.30 309.30H385.70M117.00 321.90V325.30M160.40 321.90V325.30M203.80 321.90V325.30M268.90 321.90V325.30M312.30 321.90V325.30M355.70 321.90V325.30M429.30 321.90V325.30M472.70 321.90V325.30M516.10 321.90V325.30M580.70 321.90V325.30M624.10 321.90V325.30M667.50 321.90V325.30M70.00 368.64H73.40M70.00 411.98H73.40M70.00 455.32H73.40M70.00 498.66H73.40M70.00 542.00H73.40M382.30 368.64H385.70M382.30 411.98H385.70M382.30 455.32H385.70M382.30 498.66H385.70M382.30 542.00H385.70" stroke="#1c1c1c" stroke-width="1.1" fill="none"/>
<text x="229.5" y="11.7" font-size="16" font-weight="bold" text-anchor="middle">(a) North Hayward Fault EQ</text>
<text x="529.2" y="11.7" font-size="16" font-weight="bold" text-anchor="middle">(b) San Andreas Fault EQ</text>
<text x="147.00" y="42" font-size="16" font-weight="bold" text-anchor="middle">PGV</text>
<text x="147.00" y="63.9" font-size="15" text-anchor="middle">Y (km)</text>
<text x="117.00" y="84.6" font-size="15" text-anchor="middle">20</text>
<text x="160.40" y="84.6" font-size="15" text-anchor="middle">40</text>
<text x="203.80" y="84.6" font-size="15" text-anchor="middle">60</text>
<text x="298.80" y="38.8" font-size="15.5" font-weight="bold" text-anchor="middle">T<tspan font-size="9.5" dy="6">PGV</tspan></text>
<text x="298.80" y="63.9" font-size="15" text-anchor="middle">Y (km)</text>
<text x="268.90" y="84.6" font-size="15" text-anchor="middle">20</text>
<text x="312.30" y="84.6" font-size="15" text-anchor="middle">40</text>
<text x="355.70" y="84.6" font-size="15" text-anchor="middle">60</text>
<text x="459.10" y="42" font-size="16" font-weight="bold" text-anchor="middle">PGV</text>
<text x="459.10" y="63.9" font-size="15" text-anchor="middle">Y (km)</text>
<text x="429.30" y="84.6" font-size="15" text-anchor="middle">20</text>
<text x="472.70" y="84.6" font-size="15" text-anchor="middle">40</text>
<text x="516.10" y="84.6" font-size="15" text-anchor="middle">60</text>
<text x="610.75" y="38.8" font-size="15.5" font-weight="bold" text-anchor="middle">T<tspan font-size="9.5" dy="6">PGV</tspan></text>
<text x="610.75" y="63.9" font-size="15" text-anchor="middle">Y (km)</text>
<text x="580.70" y="84.6" font-size="15" text-anchor="middle">20</text>
<text x="624.10" y="84.6" font-size="15" text-anchor="middle">40</text>
<text x="667.50" y="84.6" font-size="15" text-anchor="middle">60</text>
<text x="69.3" y="140.94" font-size="15" text-anchor="end">20</text>
<text x="69.3" y="184.28" font-size="15" text-anchor="end">40</text>
<text x="69.3" y="227.62" font-size="15" text-anchor="end">60</text>
<text x="69.3" y="270.96" font-size="15" text-anchor="end">80</text>
<text x="69.3" y="314.30" font-size="15" text-anchor="end">100</text>
<text x="69.3" y="373.64" font-size="15" text-anchor="end">20</text>
<text x="69.3" y="416.98" font-size="15" text-anchor="end">40</text>
<text x="69.3" y="460.32" font-size="15" text-anchor="end">60</text>
<text x="69.3" y="503.66" font-size="15" text-anchor="end">80</text>
<text x="69.3" y="547.00" font-size="15" text-anchor="end">100</text>
<text transform="translate(12.3,212.7) rotate(-90)" font-size="16" font-weight="bold" text-anchor="middle">Ground truth</text>
<text transform="translate(37,213.6) rotate(-90)" font-size="15" text-anchor="middle">X (km)</text>
<text transform="translate(12.3,437.4) rotate(-90)" font-size="16" font-weight="bold" text-anchor="middle">Prediction</text>
<text transform="translate(37,446.4) rotate(-90)" font-size="15" text-anchor="middle">X (km)</text>
<text x="155" y="584.5" font-size="16.3">PGV</text>
<path d="M214.8 570.4L210.2 576L214.8 581.6Z" fill="#bcc4fb"/><path d="M318.8 570.4L324.6 576L318.8 581.6Z" fill="#7a0000"/><rect x="214.8" y="570.4" width="104" height="11.2" fill="url(#gp)"/><path d="M215.3 570.6V581.4M318.3 570.6V581.4" stroke="#ffffff" stroke-opacity="0.45" stroke-width="0.7"/><path d="M214.8 570.4H318.8L324.6 576L318.8 581.6H214.8L210.2 576Z" fill="none" stroke="#1c1c1c" stroke-width="1"/>
<path d="M215.6 581.6V586.3M276.7 581.6V586.3M298.0 581.6V586.3M307.5 581.6V586.3M314.1 581.6V586.3M318.5 581.6V586.3" stroke="#1c1c1c" stroke-width="1.1"/>
<text x="211.2" y="599.6" font-size="13" text-anchor="middle">0.02</text>
<text x="276.4" y="599.6" font-size="13" text-anchor="middle">0.5</text>
<text x="322.7" y="599.6" font-size="13" text-anchor="middle">4.5</text>
<text x="326" y="578.7" font-size="13.2">mm/s</text>
<text x="395" y="581.7" font-size="16.5">T<tspan font-size="9.4" dy="5.1">PGV</tspan></text>
<path d="M448.8 568.9L443.4 575.2L448.8 581.3Z" fill="#7a0000"/><path d="M552.6 568.9L558.9 575.2L552.6 581.3Z" fill="#bcc4fb"/><rect x="448.8" y="568.9" width="103.8" height="12.4" fill="url(#gt)"/><path d="M449.3 569.1V581.1M552.1 569.1V581.1" stroke="#ffffff" stroke-opacity="0.45" stroke-width="0.7"/><path d="M448.8 568.9H552.6L558.9 575.2L552.6 581.3H448.8L443.4 575.2Z" fill="none" stroke="#1c1c1c" stroke-width="1"/>
<path d="M483.6 565.1V568.9M518.0 565.1V568.9M552.6 565.1V568.9M449.6 581.3V585.5M483.8 581.3V585.5M517.8 581.3V585.5M552.4 581.3V585.5" stroke="#1c1c1c" stroke-width="1.1"/>
<text x="482.3" y="598.9" font-size="13" text-anchor="middle">15</text>
<text x="519.8" y="598.9" font-size="13" text-anchor="middle">30</text>
<text x="553.1" y="598.9" font-size="13" text-anchor="middle">45</text>
<text x="572.5" y="580.1" font-size="13.7">s</text>
</svg></body></html>
